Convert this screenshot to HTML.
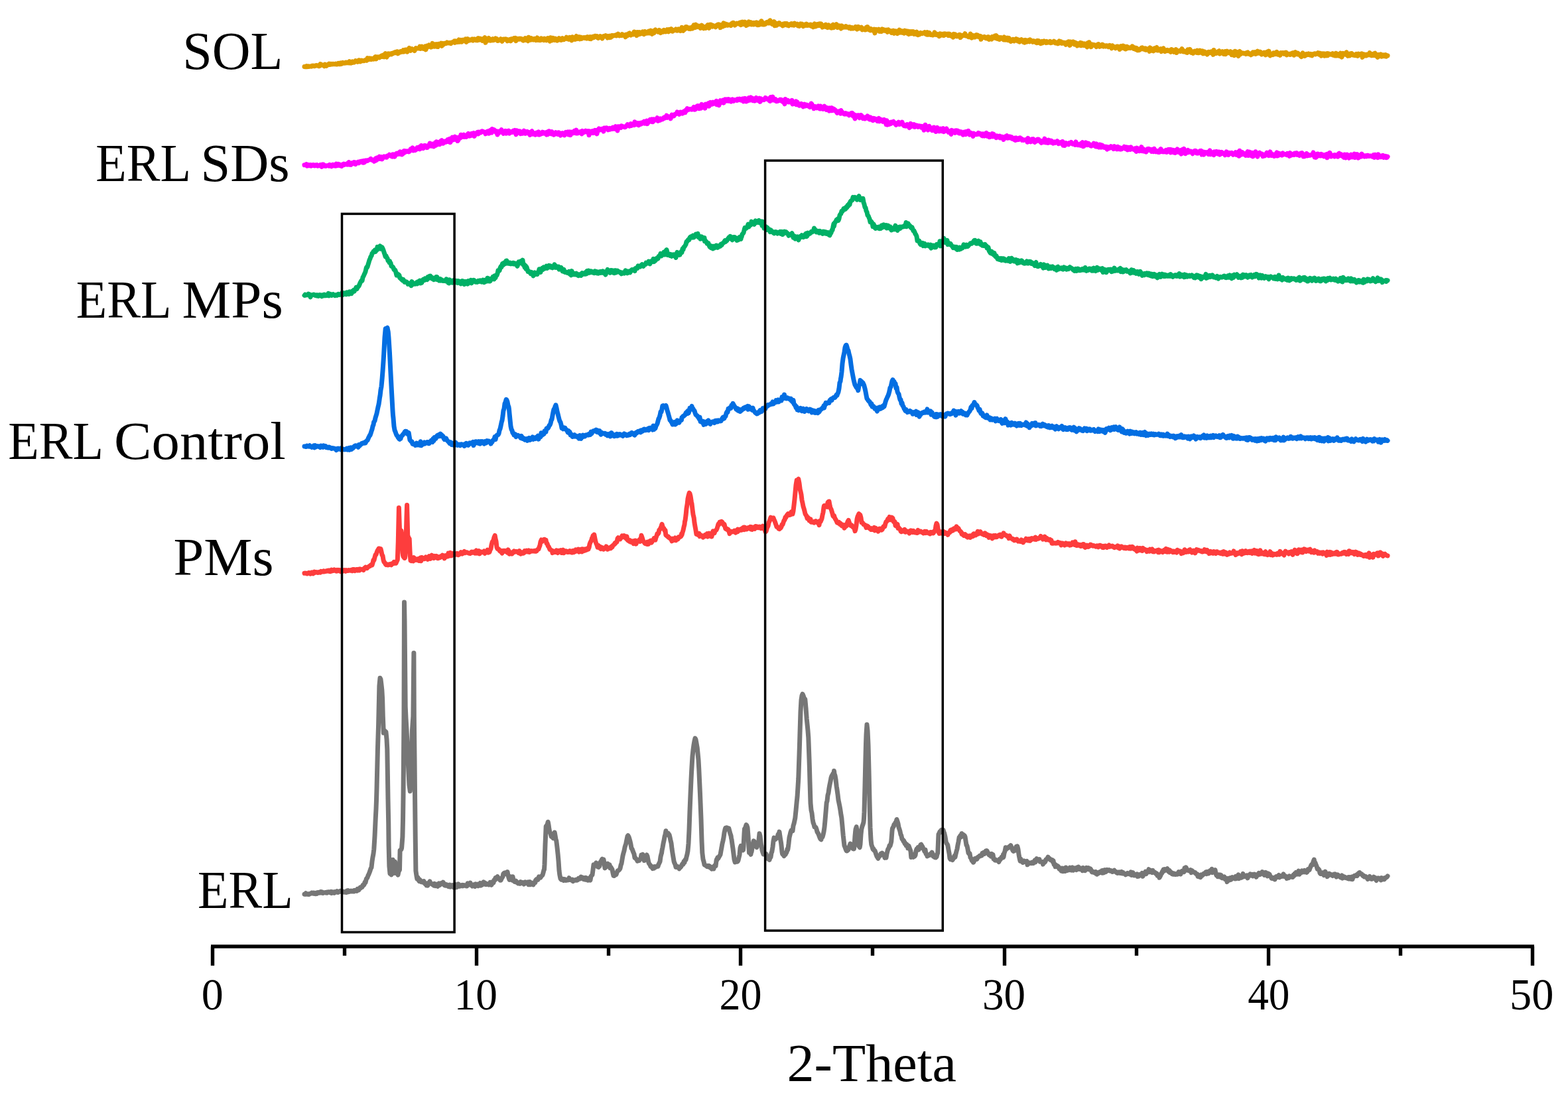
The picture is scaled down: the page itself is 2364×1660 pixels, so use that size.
<!DOCTYPE html>
<html lang="en"><head><meta charset="utf-8"><title>XRD patterns - 2-Theta</title>
<style>html,body{margin:0;padding:0;background:#fff}body{width:2364px;height:1660px;overflow:hidden}svg{display:block}text{font-family:"Liberation Serif","DejaVu Serif",serif;fill:#000}.c{fill:none;stroke-linejoin:round;stroke-linecap:round;stroke-width:7.0}</style>
</head><body>
<svg width="2364" height="1660" viewBox="0 0 2364 1660">
<rect width="2364" height="1660" fill="#fff"/>
<polyline class="c" stroke="#767676" points="459.0,1348.2 460.0,1348.4 461.0,1346.8 462.0,1347.6 463.0,1348.2 464.0,1348.4 465.0,1347.9 466.0,1348.5 467.0,1347.4 468.0,1347.5 469.0,1347.2 470.0,1346.1 471.0,1346.2 472.0,1347.1 473.0,1346.2 474.0,1347.6 475.0,1347.5 476.0,1347.8 477.0,1346.3 478.0,1347.3 479.0,1345.5 480.0,1345.5 481.0,1346.1 482.0,1346.2 483.0,1344.7 484.0,1344.5 485.0,1346.1 486.0,1345.1 487.0,1346.6 488.0,1345.9 489.0,1345.8 490.0,1345.7 491.0,1346.1 492.0,1345.3 493.0,1346.2 494.0,1344.9 495.0,1345.1 496.0,1344.7 497.0,1345.6 498.0,1345.2 499.0,1344.4 500.0,1346.6 501.0,1344.7 502.0,1344.9 503.0,1345.2 504.0,1346.3 505.0,1344.7 506.0,1345.4 507.0,1344.9 508.0,1343.6 509.0,1345.4 510.0,1345.5 511.0,1344.4 512.0,1344.6 513.0,1343.3 514.0,1343.3 515.0,1344.2 516.0,1345.0 517.0,1344.0 518.0,1344.7 519.0,1345.2 520.0,1344.5 521.0,1344.9 522.0,1345.6 523.0,1343.2 524.0,1344.9 525.0,1342.6 526.0,1344.6 527.0,1344.4 528.0,1343.7 529.0,1343.1 530.0,1344.0 531.0,1343.6 532.0,1344.0 533.0,1342.9 534.0,1344.0 535.0,1342.3 536.0,1342.6 537.0,1342.2 538.0,1343.3 539.0,1340.3 540.0,1340.9 541.0,1341.9 542.0,1339.5 543.0,1338.2 544.0,1338.8 545.0,1337.4 546.0,1337.5 547.0,1334.7 547.5,1335.2 548.0,1335.0 549.0,1333.9 550.0,1330.1 551.0,1330.6 552.0,1326.4 552.5,1324.8 553.0,1324.3 554.0,1323.0 555.0,1320.0 556.0,1318.1 557.0,1315.5 558.0,1312.7 559.0,1309.5 560.0,1307.9 561.0,1298.8 562.0,1292.3 563.0,1287.0 563.8,1280.3 565.0,1261.0 566.2,1234.6 567.0,1219.6 567.5,1206.9 568.0,1189.6 568.5,1168.0 569.4,1130.5 570.0,1111.1 570.6,1092.6 571.9,1034.4 573.0,1022.2 574.0,1024.3 575.0,1032.7 575.8,1039.8 576.6,1053.5 577.3,1080.4 578.3,1105.0 579.0,1102.1 580.0,1101.8 581.0,1104.5 581.9,1103.4 583.0,1114.3 583.8,1130.1 584.4,1167.6 585.0,1205.3 585.7,1240.1 586.1,1275.1 586.9,1305.8 588.0,1317.3 588.8,1317.6 590.0,1318.9 590.6,1317.8 592.2,1296.2 593.0,1305.7 593.8,1316.5 595.0,1304.1 595.6,1299.2 597.0,1313.5 597.5,1316.8 598.0,1316.8 599.0,1315.5 600.0,1319.2 601.0,1314.1 602.0,1312.1 602.5,1311.5 603.1,1282.1 604.0,1281.6 605.0,1280.7 605.6,1278.5 606.9,1261.8 607.5,1237.0 608.0,1200.0 608.5,1142.6 609.0,1079.8 609.5,908.0 610.0,935.6 611.2,1065.3 612.0,1083.1 613.0,1099.5 614.0,1122.4 615.4,1152.5 616.0,1164.3 617.0,1183.6 618.3,1192.9 619.0,1181.8 620.0,1150.4 621.0,1114.2 621.5,1100.5 622.0,1093.4 622.9,1080.0 623.9,984.4 624.3,1080.0 625.0,1142.2 625.6,1205.0 626.2,1260.4 626.9,1312.9 628.0,1320.5 628.8,1324.8 630.0,1322.9 631.0,1326.9 632.0,1328.6 632.5,1326.0 633.0,1326.6 634.0,1328.5 635.0,1329.6 636.0,1328.7 637.0,1328.9 637.5,1330.2 638.0,1329.6 639.0,1328.7 640.0,1331.2 641.0,1332.7 642.0,1331.7 643.0,1334.9 643.8,1333.5 645.0,1335.0 646.0,1331.0 647.0,1330.7 648.0,1328.9 649.4,1332.0 650.0,1332.0 651.0,1332.8 652.0,1333.7 653.0,1334.1 654.0,1335.1 655.0,1332.4 656.2,1335.6 657.0,1334.4 658.0,1334.6 659.0,1333.1 660.0,1336.3 661.0,1334.5 662.0,1331.9 663.0,1334.4 664.0,1333.3 665.0,1331.8 666.2,1332.7 667.0,1332.1 668.0,1330.2 669.0,1331.6 670.0,1334.8 671.0,1335.0 672.0,1335.3 673.0,1333.6 674.0,1334.7 675.0,1335.7 676.0,1336.6 677.0,1334.4 678.0,1334.1 679.0,1337.2 680.0,1335.7 681.0,1335.1 682.0,1334.6 683.0,1334.7 684.0,1337.8 685.0,1337.0 686.0,1335.0 687.0,1333.8 687.5,1337.9 688.0,1337.8 689.0,1337.3 690.0,1336.7 691.0,1332.9 692.0,1333.7 693.0,1336.3 694.0,1335.0 695.0,1335.7 696.0,1334.6 697.0,1334.3 698.0,1335.9 699.0,1334.5 700.0,1335.0 701.0,1335.2 702.0,1335.0 703.0,1335.9 704.0,1335.9 705.0,1331.8 706.0,1332.9 707.0,1332.1 708.0,1333.8 709.0,1331.1 710.0,1333.6 711.0,1334.5 712.0,1336.0 712.5,1334.3 713.0,1335.3 714.0,1334.0 715.0,1335.9 716.0,1336.5 717.0,1332.8 718.0,1333.5 719.0,1334.1 720.0,1333.3 721.0,1335.8 722.0,1333.3 723.0,1333.6 724.0,1331.5 725.0,1335.1 726.0,1333.2 727.0,1334.0 728.0,1333.0 729.0,1329.9 730.0,1330.6 731.0,1331.0 732.0,1333.4 733.0,1332.1 734.0,1333.4 735.0,1333.1 736.0,1333.1 737.0,1334.0 738.0,1332.9 739.0,1330.3 740.0,1331.6 741.0,1334.3 742.0,1329.7 743.0,1331.7 744.0,1330.8 745.0,1326.7 746.0,1327.0 747.0,1323.6 748.0,1325.5 749.0,1322.7 750.0,1321.7 751.0,1323.4 752.0,1324.3 753.0,1325.3 754.0,1327.3 755.0,1327.3 756.0,1325.0 757.0,1323.2 758.0,1321.7 758.8,1317.6 760.0,1316.3 761.0,1315.8 762.0,1317.9 763.0,1316.7 764.0,1317.0 765.0,1314.5 766.0,1319.6 767.0,1323.5 768.0,1326.5 769.0,1324.9 770.0,1321.8 771.0,1326.0 772.0,1327.0 772.5,1327.3 773.0,1321.8 774.0,1326.6 775.0,1328.6 776.0,1329.6 777.0,1329.6 778.0,1328.3 778.8,1330.4 780.0,1330.6 781.0,1331.9 782.0,1332.0 783.0,1330.8 784.0,1332.3 785.0,1329.7 786.0,1330.2 787.0,1331.1 788.0,1332.0 789.0,1330.8 790.0,1333.0 791.0,1331.9 792.0,1330.0 793.0,1331.6 794.0,1330.3 795.0,1330.3 796.0,1329.8 797.0,1333.8 798.0,1333.2 799.0,1329.7 800.0,1333.6 801.0,1333.2 802.0,1331.2 803.0,1332.0 804.0,1333.9 805.0,1330.7 806.0,1330.3 807.0,1330.6 807.5,1327.3 808.0,1326.7 809.0,1325.6 810.0,1326.3 811.0,1326.4 812.0,1323.1 812.5,1321.9 813.0,1323.6 814.0,1322.2 815.0,1323.0 816.0,1321.4 817.0,1320.4 817.5,1319.9 818.0,1319.4 819.0,1315.8 820.0,1311.7 820.5,1311.4 821.0,1303.4 822.0,1273.2 823.2,1246.0 824.0,1244.8 825.0,1243.9 826.2,1239.2 827.0,1243.3 828.0,1250.6 828.8,1254.0 830.0,1256.9 831.2,1261.4 832.0,1260.9 833.0,1262.3 834.0,1263.7 835.0,1258.1 836.2,1255.0 837.0,1259.6 838.0,1265.6 838.8,1267.8 840.0,1277.7 841.2,1288.9 842.0,1297.9 843.0,1312.5 843.8,1318.8 845.0,1324.8 846.2,1326.2 847.0,1325.4 848.0,1325.5 849.0,1325.3 850.0,1327.6 851.0,1325.5 852.0,1325.8 853.0,1327.4 854.0,1327.3 855.0,1326.4 856.0,1327.0 857.0,1326.4 858.0,1323.7 859.0,1326.4 860.0,1326.0 861.0,1326.2 862.0,1327.2 863.0,1326.1 864.0,1328.7 865.0,1326.8 866.0,1327.2 867.0,1327.3 868.0,1326.4 869.0,1327.3 870.0,1327.2 871.0,1326.7 872.0,1324.5 873.0,1324.0 874.0,1324.1 875.0,1324.8 876.0,1322.0 877.0,1323.3 877.5,1322.9 878.0,1323.5 879.0,1323.2 880.0,1325.7 881.0,1325.2 882.0,1326.0 883.0,1323.3 884.0,1323.7 885.0,1324.4 886.0,1327.2 887.0,1327.3 888.0,1324.1 888.8,1325.8 890.0,1327.0 891.0,1321.2 892.0,1320.0 893.0,1319.0 894.0,1311.6 895.0,1303.8 896.0,1305.9 897.0,1304.4 898.0,1303.6 898.8,1300.8 900.0,1303.2 901.0,1306.7 902.0,1306.7 902.5,1307.4 903.0,1305.5 904.0,1305.5 905.0,1300.1 906.0,1298.7 907.0,1296.7 908.0,1295.1 909.0,1298.8 910.0,1295.9 911.0,1301.4 912.0,1308.9 912.5,1308.1 913.0,1307.2 914.0,1307.2 915.0,1303.9 916.2,1302.1 917.0,1303.3 918.0,1306.3 919.0,1303.7 920.0,1308.8 921.2,1307.8 922.0,1309.4 923.0,1310.8 924.0,1316.2 925.0,1320.3 926.0,1320.5 927.0,1318.1 928.0,1318.9 929.0,1318.7 930.0,1315.7 931.2,1312.8 932.0,1312.7 933.0,1312.1 934.0,1310.9 935.0,1309.3 936.2,1303.8 937.0,1302.0 938.0,1296.0 939.0,1290.1 940.0,1286.2 941.0,1282.8 942.0,1277.6 943.0,1274.3 943.8,1271.7 945.0,1265.6 946.0,1260.9 946.8,1259.7 948.0,1261.7 949.0,1265.0 950.0,1268.6 951.0,1273.1 952.0,1279.1 953.0,1279.9 954.0,1282.9 955.0,1285.4 956.0,1287.7 957.0,1293.5 958.0,1293.6 959.0,1295.0 960.0,1295.8 961.0,1298.2 962.0,1297.0 963.0,1297.4 963.8,1297.5 965.0,1295.2 966.0,1294.2 967.0,1289.0 968.0,1293.1 969.0,1288.2 970.0,1293.3 971.2,1297.5 972.0,1297.1 973.0,1293.1 974.0,1290.6 975.0,1289.0 976.0,1291.0 977.0,1296.3 978.0,1300.7 978.8,1302.4 980.0,1303.9 981.0,1306.4 982.0,1305.9 983.0,1307.7 984.0,1309.5 985.0,1308.0 986.0,1309.1 987.0,1306.6 988.0,1307.3 989.0,1307.2 990.0,1306.2 991.0,1305.8 992.0,1306.2 993.0,1302.9 993.8,1301.6 995.0,1299.1 996.0,1291.8 997.0,1287.6 997.5,1286.3 998.0,1282.4 999.0,1277.6 1000.0,1271.8 1001.2,1266.3 1002.0,1261.5 1003.0,1257.8 1004.0,1252.8 1005.0,1256.8 1006.0,1258.5 1007.0,1257.3 1007.5,1256.4 1008.0,1258.9 1009.0,1258.5 1010.0,1262.3 1011.2,1268.2 1012.0,1271.2 1013.0,1279.6 1013.8,1284.9 1015.0,1292.4 1016.2,1299.3 1017.0,1301.4 1018.0,1303.3 1019.0,1307.4 1020.0,1307.4 1021.0,1307.5 1022.0,1306.7 1023.0,1308.1 1024.0,1309.9 1025.0,1307.1 1026.0,1307.7 1027.0,1306.4 1028.0,1304.0 1029.0,1302.3 1030.0,1303.1 1031.0,1298.9 1032.0,1300.3 1033.0,1296.2 1034.0,1296.4 1035.0,1292.0 1036.0,1288.2 1037.0,1282.8 1038.0,1271.7 1039.0,1250.8 1040.0,1222.3 1041.0,1198.2 1042.0,1175.3 1042.5,1165.2 1043.0,1156.2 1044.0,1140.0 1044.5,1135.5 1045.0,1130.4 1046.0,1123.0 1047.0,1117.4 1048.0,1113.1 1049.0,1115.1 1050.0,1120.7 1051.2,1127.4 1052.0,1135.3 1053.0,1145.9 1053.8,1160.1 1055.0,1186.5 1055.5,1197.5 1056.0,1209.9 1057.0,1235.0 1058.0,1267.3 1058.8,1285.6 1060.0,1295.6 1061.2,1299.7 1062.0,1303.9 1063.0,1304.3 1064.0,1304.9 1065.0,1305.6 1066.0,1306.4 1067.0,1305.4 1067.5,1306.9 1068.0,1306.9 1069.0,1305.4 1070.0,1307.3 1071.0,1308.4 1072.0,1307.3 1073.0,1310.1 1073.8,1308.3 1075.0,1309.6 1076.0,1310.0 1077.0,1305.4 1078.0,1304.6 1079.0,1305.7 1080.0,1297.6 1080.5,1295.6 1081.0,1296.5 1082.0,1292.7 1083.0,1294.0 1084.0,1292.0 1085.0,1290.4 1086.0,1288.6 1087.0,1283.0 1088.0,1277.7 1088.8,1272.8 1090.0,1267.7 1091.0,1262.8 1092.0,1255.6 1093.0,1250.9 1093.8,1248.3 1095.0,1250.2 1096.0,1247.9 1097.0,1250.1 1098.0,1250.1 1098.8,1248.9 1100.0,1253.3 1101.0,1257.3 1102.0,1260.0 1102.5,1263.5 1103.0,1265.6 1104.0,1272.8 1105.0,1279.5 1106.0,1287.5 1107.0,1295.8 1108.2,1300.0 1109.0,1298.2 1110.0,1299.2 1111.0,1299.2 1112.0,1299.0 1113.0,1297.3 1113.8,1293.8 1115.0,1288.7 1116.0,1278.4 1117.0,1275.4 1118.0,1276.2 1119.0,1281.2 1120.0,1281.9 1120.5,1281.6 1121.0,1276.2 1122.0,1256.9 1122.5,1249.8 1123.0,1248.9 1124.0,1247.1 1125.0,1243.7 1125.8,1244.5 1127.0,1248.0 1128.0,1260.5 1129.0,1278.3 1129.5,1285.5 1130.0,1285.4 1131.0,1285.7 1132.0,1288.3 1132.5,1281.7 1133.0,1284.7 1134.0,1278.4 1135.0,1272.9 1136.2,1267.9 1137.0,1268.4 1138.0,1270.1 1139.0,1272.9 1140.0,1276.4 1140.5,1274.2 1141.0,1277.6 1142.0,1274.1 1143.0,1273.1 1143.8,1268.8 1145.0,1256.8 1146.0,1260.4 1147.0,1269.8 1147.5,1273.8 1148.0,1275.0 1149.0,1281.7 1150.0,1285.3 1151.0,1287.9 1152.0,1284.8 1153.0,1287.8 1153.8,1287.5 1155.0,1287.4 1156.0,1290.1 1157.0,1291.3 1158.0,1295.0 1159.0,1293.4 1160.0,1296.4 1161.0,1293.4 1162.0,1292.2 1163.0,1285.9 1163.8,1284.2 1165.0,1277.0 1166.0,1268.0 1167.0,1263.1 1168.0,1264.7 1169.0,1265.5 1170.0,1264.3 1171.2,1263.5 1172.0,1262.9 1173.0,1258.2 1174.0,1256.8 1174.5,1256.6 1175.0,1254.1 1176.0,1261.4 1177.0,1267.5 1177.5,1270.3 1178.0,1274.5 1179.0,1284.1 1179.5,1287.3 1180.0,1288.3 1181.0,1287.8 1182.0,1290.7 1183.0,1286.2 1184.0,1288.6 1185.0,1286.7 1186.0,1285.0 1187.0,1280.2 1187.5,1281.8 1188.0,1279.6 1189.0,1272.0 1190.0,1262.8 1191.2,1258.0 1192.0,1254.6 1193.0,1251.9 1194.0,1251.4 1195.0,1252.9 1196.0,1245.0 1197.0,1241.9 1198.0,1237.2 1198.8,1233.5 1200.0,1221.9 1201.2,1209.1 1202.0,1201.7 1203.0,1186.4 1203.8,1173.3 1205.0,1137.6 1205.5,1122.4 1206.0,1105.2 1207.0,1072.6 1208.0,1055.2 1209.0,1048.9 1210.0,1046.4 1211.0,1048.6 1212.0,1051.7 1213.0,1053.4 1213.8,1054.2 1215.0,1067.2 1216.2,1083.6 1217.0,1091.4 1218.0,1101.7 1218.8,1111.7 1220.0,1144.0 1220.5,1159.5 1221.0,1177.8 1222.0,1210.8 1223.0,1221.5 1224.0,1225.7 1224.5,1230.1 1225.0,1234.5 1226.0,1240.4 1227.0,1242.8 1227.5,1244.8 1228.0,1246.8 1229.0,1246.7 1230.0,1247.5 1231.0,1250.2 1232.0,1254.2 1232.5,1255.1 1233.0,1255.7 1234.0,1257.5 1235.0,1260.3 1236.2,1263.6 1237.0,1264.9 1238.0,1265.7 1239.0,1262.2 1240.0,1262.2 1241.2,1257.8 1242.0,1254.1 1243.0,1247.3 1243.8,1238.8 1245.0,1224.8 1246.2,1210.2 1247.0,1207.8 1248.0,1198.9 1249.0,1195.5 1250.0,1188.3 1251.0,1182.9 1252.0,1178.3 1253.0,1172.6 1254.0,1169.8 1255.0,1168.4 1256.0,1166.2 1257.0,1166.4 1257.5,1162.3 1258.0,1166.7 1259.0,1169.4 1260.0,1175.0 1261.2,1185.5 1262.0,1190.6 1263.0,1197.7 1264.0,1206.3 1265.0,1211.0 1266.0,1215.9 1267.0,1221.7 1268.0,1228.7 1268.8,1232.9 1270.0,1245.8 1271.2,1259.3 1272.0,1266.3 1273.0,1275.1 1273.8,1276.8 1275.0,1280.1 1276.2,1283.0 1277.0,1283.0 1278.0,1281.2 1279.0,1281.2 1280.0,1277.8 1281.0,1274.7 1282.0,1272.1 1282.5,1276.6 1283.0,1274.8 1284.0,1276.2 1285.0,1277.4 1286.0,1279.7 1287.0,1280.0 1287.5,1279.9 1288.0,1276.0 1289.0,1260.5 1289.5,1255.3 1290.0,1250.6 1291.2,1246.7 1292.0,1252.3 1293.0,1266.0 1293.8,1272.7 1295.0,1275.8 1296.2,1277.7 1297.0,1272.9 1298.0,1258.1 1298.8,1250.5 1300.0,1245.6 1301.0,1243.1 1302.0,1239.5 1302.5,1234.2 1303.0,1224.2 1304.0,1185.2 1305.0,1141.1 1305.5,1122.1 1306.0,1107.8 1307.0,1092.6 1308.0,1101.6 1309.0,1122.8 1310.0,1162.0 1310.5,1184.6 1311.0,1208.1 1312.0,1247.7 1313.0,1266.0 1313.8,1273.4 1315.0,1276.8 1316.0,1280.3 1317.0,1279.9 1317.5,1281.7 1318.0,1282.4 1319.0,1282.5 1320.0,1285.4 1321.0,1288.6 1322.0,1291.3 1323.0,1292.7 1323.8,1294.3 1325.0,1292.0 1326.0,1290.6 1327.0,1290.3 1328.0,1287.1 1329.0,1287.6 1330.0,1286.1 1331.0,1288.0 1332.0,1287.9 1333.0,1289.4 1334.0,1293.4 1335.0,1292.7 1336.0,1293.1 1337.0,1287.2 1338.0,1283.2 1338.8,1280.3 1340.0,1278.7 1341.0,1274.9 1342.0,1275.4 1343.0,1272.0 1343.8,1268.6 1345.0,1252.7 1345.5,1249.0 1346.0,1248.0 1347.0,1246.5 1348.0,1243.0 1348.8,1243.7 1350.0,1240.1 1351.0,1239.2 1352.0,1235.5 1353.0,1238.5 1354.0,1241.8 1355.0,1247.5 1356.0,1250.3 1357.0,1253.6 1358.0,1258.4 1358.8,1259.7 1360.0,1265.1 1361.0,1265.7 1362.0,1268.4 1362.5,1267.2 1363.0,1268.2 1364.0,1271.8 1365.0,1271.2 1366.0,1274.9 1367.0,1273.1 1368.0,1274.2 1368.8,1278.8 1370.0,1275.3 1371.0,1277.9 1372.0,1280.8 1372.5,1281.9 1373.0,1283.5 1373.8,1292.4 1375.0,1290.0 1376.0,1288.3 1377.0,1292.4 1378.0,1290.6 1378.8,1291.3 1380.0,1289.4 1381.0,1283.2 1382.0,1279.9 1382.5,1279.9 1383.0,1280.9 1384.0,1277.6 1385.0,1281.2 1386.2,1279.2 1387.0,1275.8 1388.0,1273.8 1388.8,1273.3 1390.0,1275.3 1391.0,1277.0 1392.0,1279.9 1393.0,1280.9 1393.8,1283.4 1395.0,1281.1 1396.0,1287.4 1397.0,1287.6 1398.0,1291.0 1399.0,1288.9 1400.0,1289.3 1401.0,1289.5 1402.0,1289.3 1403.0,1287.2 1404.0,1286.9 1405.0,1285.1 1406.0,1287.2 1407.0,1291.2 1408.0,1291.4 1409.0,1292.5 1410.0,1290.5 1411.0,1292.9 1412.0,1291.9 1413.0,1287.6 1413.8,1286.0 1415.0,1258.0 1416.0,1256.2 1417.0,1253.8 1418.0,1254.3 1419.0,1251.7 1420.0,1251.2 1421.0,1254.7 1422.0,1251.3 1423.0,1254.8 1423.8,1256.4 1425.0,1261.7 1426.2,1269.0 1427.0,1271.5 1428.0,1272.6 1428.8,1274.1 1430.0,1281.2 1431.2,1287.5 1432.0,1294.2 1433.0,1295.6 1433.8,1295.3 1435.0,1295.6 1436.0,1296.6 1437.0,1295.1 1438.0,1292.6 1439.0,1290.3 1440.0,1292.3 1441.0,1287.5 1442.0,1283.7 1443.0,1280.1 1443.8,1275.2 1445.0,1269.4 1446.2,1262.2 1447.0,1261.6 1448.0,1259.7 1449.0,1262.0 1450.0,1256.8 1451.0,1258.7 1452.0,1258.2 1453.0,1259.2 1454.0,1259.5 1455.0,1261.5 1456.0,1267.8 1457.0,1274.1 1457.5,1274.3 1458.0,1275.6 1459.0,1280.1 1460.0,1286.0 1461.2,1287.4 1462.0,1286.7 1463.0,1292.9 1464.0,1294.0 1465.0,1297.0 1466.0,1298.3 1467.0,1296.8 1467.5,1300.2 1468.0,1299.6 1469.0,1297.3 1470.0,1294.5 1471.0,1295.0 1472.0,1294.0 1473.0,1295.3 1474.0,1292.6 1475.0,1291.9 1476.0,1291.7 1477.0,1290.4 1478.0,1290.7 1479.0,1289.9 1480.0,1290.0 1481.0,1286.2 1482.0,1287.3 1483.0,1285.4 1484.0,1287.6 1485.0,1286.1 1486.2,1283.2 1487.0,1285.3 1488.0,1282.7 1489.0,1284.9 1490.0,1287.3 1491.2,1289.1 1492.0,1287.5 1493.0,1289.2 1494.0,1291.1 1495.0,1287.3 1496.2,1288.2 1497.0,1288.5 1498.0,1295.0 1499.0,1294.9 1500.0,1296.9 1501.0,1296.2 1502.0,1297.3 1503.0,1297.0 1504.0,1297.7 1505.0,1297.7 1506.0,1299.5 1507.0,1295.4 1508.0,1296.1 1509.0,1294.7 1510.0,1292.3 1511.0,1293.2 1512.0,1293.1 1512.5,1288.5 1513.0,1292.1 1514.0,1286.3 1515.0,1283.6 1516.2,1277.8 1517.0,1280.5 1518.0,1279.2 1519.0,1278.1 1520.0,1278.5 1521.0,1276.8 1522.0,1277.0 1523.0,1275.3 1523.8,1274.6 1525.0,1277.5 1526.0,1280.1 1527.0,1282.5 1528.0,1283.4 1528.8,1282.6 1530.0,1282.6 1531.0,1280.2 1532.0,1276.7 1533.0,1277.1 1533.8,1275.9 1535.0,1280.6 1536.2,1289.6 1537.0,1293.6 1538.0,1298.1 1538.8,1295.0 1540.0,1297.6 1541.0,1299.3 1542.0,1300.4 1543.0,1299.6 1544.0,1297.9 1545.0,1298.8 1546.0,1299.6 1547.0,1298.7 1547.5,1298.5 1548.0,1298.3 1549.0,1303.8 1550.0,1300.5 1551.0,1300.4 1552.0,1301.9 1553.0,1301.1 1554.0,1300.9 1555.0,1301.5 1556.0,1300.0 1557.0,1300.1 1558.0,1301.4 1559.0,1300.3 1560.0,1297.2 1561.0,1300.0 1562.0,1296.8 1563.0,1294.6 1564.0,1297.3 1565.0,1297.1 1566.0,1296.9 1567.0,1295.6 1568.0,1299.2 1569.0,1299.0 1570.0,1299.5 1571.0,1299.9 1572.0,1300.5 1572.5,1303.1 1573.0,1299.3 1574.0,1299.9 1575.0,1300.3 1576.0,1298.9 1577.0,1295.7 1578.0,1295.6 1579.0,1294.3 1580.0,1292.2 1581.2,1293.5 1582.0,1295.2 1583.0,1294.9 1584.0,1296.8 1585.0,1296.9 1586.2,1296.6 1587.0,1299.1 1588.0,1297.6 1589.0,1303.1 1590.0,1302.6 1591.0,1306.8 1592.0,1304.0 1592.5,1305.0 1593.0,1306.1 1594.0,1307.0 1595.0,1306.0 1596.0,1307.1 1597.0,1310.1 1598.0,1308.9 1599.0,1311.6 1600.0,1313.1 1601.0,1309.0 1602.0,1310.7 1602.5,1313.7 1603.0,1312.8 1604.0,1309.3 1605.0,1311.7 1606.0,1313.4 1607.0,1308.0 1608.0,1311.5 1609.0,1312.4 1610.0,1310.1 1611.0,1309.8 1612.0,1311.6 1613.0,1308.2 1614.0,1311.1 1615.0,1312.0 1616.0,1310.3 1617.0,1307.9 1618.0,1312.3 1619.0,1310.0 1620.0,1310.8 1621.0,1308.8 1622.0,1309.9 1623.0,1311.6 1624.0,1307.9 1625.0,1308.1 1626.0,1307.1 1627.0,1310.6 1628.0,1310.6 1629.0,1308.8 1630.0,1310.5 1631.0,1310.0 1632.0,1312.7 1633.0,1308.3 1634.0,1310.3 1635.0,1309.4 1636.0,1312.6 1637.0,1310.6 1638.0,1308.3 1639.0,1310.6 1640.0,1309.8 1641.0,1308.8 1642.0,1311.0 1643.0,1311.1 1644.0,1309.9 1645.0,1311.5 1646.0,1314.5 1647.0,1315.0 1648.0,1314.2 1649.0,1314.5 1650.0,1315.9 1651.0,1315.8 1652.0,1314.5 1652.5,1317.1 1653.0,1315.1 1654.0,1318.2 1655.0,1316.8 1656.0,1316.8 1657.0,1315.2 1658.0,1315.6 1659.0,1314.2 1660.0,1314.2 1661.0,1313.0 1662.0,1316.1 1663.0,1312.2 1664.0,1315.8 1665.0,1314.3 1666.0,1311.7 1667.0,1314.6 1668.0,1313.2 1669.0,1311.4 1670.0,1312.8 1671.0,1312.1 1672.0,1311.5 1673.0,1312.6 1674.0,1313.2 1675.0,1312.5 1676.0,1313.1 1677.0,1314.4 1678.0,1313.4 1679.0,1313.3 1680.0,1312.3 1681.0,1314.2 1682.0,1313.9 1683.0,1314.5 1684.0,1316.2 1685.0,1316.5 1686.0,1315.6 1687.0,1314.9 1688.0,1316.1 1689.0,1316.6 1690.0,1316.6 1691.0,1314.4 1692.0,1317.0 1693.0,1315.3 1694.0,1317.2 1695.0,1317.5 1696.0,1317.3 1697.0,1318.9 1698.0,1317.4 1699.0,1317.9 1700.0,1316.4 1701.0,1317.6 1702.0,1317.5 1703.0,1318.1 1704.0,1317.8 1705.0,1314.9 1706.0,1319.4 1707.0,1319.3 1708.0,1315.6 1709.0,1318.9 1710.0,1320.0 1711.0,1319.7 1712.0,1319.7 1713.0,1318.5 1714.0,1318.0 1715.0,1321.4 1716.0,1319.3 1717.0,1321.0 1718.0,1318.5 1719.0,1319.8 1720.0,1319.6 1721.0,1319.4 1722.0,1316.4 1723.0,1321.2 1724.0,1318.2 1725.0,1317.1 1726.0,1317.6 1727.0,1314.1 1728.0,1317.6 1729.0,1314.4 1730.0,1314.5 1731.0,1313.7 1732.0,1310.7 1732.5,1312.6 1733.0,1314.8 1734.0,1312.0 1735.0,1313.5 1736.0,1314.7 1737.0,1315.6 1738.0,1312.4 1739.0,1315.1 1740.0,1314.8 1741.0,1315.1 1742.0,1316.6 1743.0,1317.7 1744.0,1316.9 1745.0,1320.1 1746.0,1319.8 1747.0,1321.7 1747.5,1320.8 1748.0,1323.3 1749.0,1321.6 1750.0,1319.5 1751.0,1316.4 1752.0,1316.3 1752.5,1313.7 1753.0,1313.4 1754.0,1311.2 1755.0,1313.4 1756.0,1310.5 1757.0,1311.5 1758.0,1311.3 1758.8,1311.0 1760.0,1309.7 1761.0,1313.2 1762.0,1314.2 1763.0,1312.4 1764.0,1315.6 1765.0,1314.5 1766.0,1315.6 1767.0,1317.5 1768.0,1316.4 1769.0,1318.2 1770.0,1317.0 1771.0,1317.2 1772.0,1318.5 1773.0,1318.0 1774.0,1317.4 1775.0,1318.2 1776.0,1318.1 1777.0,1314.5 1778.0,1315.0 1779.0,1316.5 1780.0,1317.9 1781.0,1315.2 1782.0,1313.3 1783.0,1314.6 1784.0,1312.9 1785.0,1314.7 1786.0,1308.7 1787.0,1312.6 1787.5,1312.3 1788.0,1307.7 1789.0,1310.0 1790.0,1311.2 1791.0,1312.3 1792.0,1312.0 1793.0,1313.1 1794.0,1312.9 1795.0,1311.8 1796.0,1315.6 1797.0,1314.1 1797.5,1312.7 1798.0,1314.7 1799.0,1314.5 1800.0,1315.0 1801.0,1315.7 1802.0,1315.6 1803.0,1317.4 1804.0,1317.8 1805.0,1317.7 1806.0,1321.6 1807.0,1321.7 1807.5,1321.0 1808.0,1319.8 1809.0,1320.0 1810.0,1322.7 1811.0,1318.8 1812.0,1320.5 1813.0,1319.2 1814.0,1318.8 1815.0,1317.0 1816.0,1316.9 1817.0,1316.6 1818.0,1314.8 1819.0,1317.7 1820.0,1314.3 1821.0,1315.2 1822.0,1316.9 1823.0,1316.2 1824.0,1312.9 1825.0,1314.1 1826.0,1314.6 1827.0,1310.2 1828.0,1315.6 1829.0,1313.4 1830.0,1312.2 1831.0,1313.0 1832.0,1311.6 1833.0,1317.1 1834.0,1319.9 1835.0,1318.6 1836.0,1321.7 1837.0,1321.0 1838.0,1318.9 1839.0,1322.0 1840.0,1319.0 1841.0,1319.7 1842.0,1323.6 1843.0,1323.9 1844.0,1323.4 1845.0,1323.7 1846.0,1322.0 1847.0,1325.7 1848.0,1324.4 1849.0,1324.3 1850.0,1329.6 1851.0,1325.0 1852.0,1324.5 1853.0,1327.3 1854.0,1324.8 1855.0,1323.6 1856.0,1326.3 1857.0,1323.8 1858.0,1322.7 1859.0,1323.2 1860.0,1323.5 1861.0,1324.6 1862.0,1324.9 1863.0,1321.3 1864.0,1324.6 1865.0,1321.8 1866.0,1321.9 1867.0,1318.8 1868.0,1324.6 1869.0,1323.0 1870.0,1321.7 1871.0,1321.7 1872.0,1323.2 1873.0,1321.7 1874.0,1317.4 1875.0,1321.8 1876.0,1321.3 1877.0,1321.3 1878.0,1321.1 1879.0,1322.1 1880.0,1319.8 1881.0,1323.9 1882.0,1320.7 1883.0,1319.4 1884.0,1320.4 1885.0,1317.8 1886.0,1319.8 1887.0,1318.9 1888.0,1318.4 1889.0,1320.9 1890.0,1320.0 1891.0,1318.1 1892.0,1318.5 1893.0,1319.7 1894.0,1322.3 1895.0,1318.7 1896.0,1318.5 1897.0,1319.1 1898.0,1316.3 1899.0,1317.5 1900.0,1318.3 1901.0,1317.4 1902.0,1317.0 1903.0,1314.5 1904.0,1316.0 1905.0,1317.8 1906.2,1319.4 1907.0,1317.1 1908.0,1315.3 1909.0,1315.9 1910.0,1316.9 1911.0,1320.9 1912.0,1317.0 1913.0,1319.4 1914.0,1318.3 1915.0,1320.9 1916.0,1321.8 1917.0,1324.2 1918.0,1324.6 1919.0,1324.1 1920.0,1323.5 1921.0,1323.3 1922.0,1326.0 1923.0,1323.2 1924.0,1321.5 1925.0,1321.6 1926.0,1322.3 1927.0,1320.9 1928.0,1319.5 1929.0,1322.8 1930.0,1320.4 1931.0,1321.2 1932.0,1321.5 1933.0,1321.0 1934.0,1321.2 1935.0,1317.8 1936.0,1321.4 1937.0,1321.1 1938.0,1320.8 1939.0,1321.3 1940.0,1324.5 1941.0,1323.7 1942.0,1322.4 1943.0,1323.6 1944.0,1320.8 1945.0,1321.3 1946.0,1321.9 1947.0,1322.2 1948.0,1321.6 1949.0,1322.4 1950.0,1319.0 1951.0,1320.4 1952.0,1317.0 1953.0,1318.0 1954.0,1315.4 1955.0,1318.1 1956.0,1315.4 1957.0,1317.8 1958.0,1313.1 1959.0,1318.2 1960.0,1315.5 1961.0,1316.0 1962.0,1315.7 1963.0,1312.9 1964.0,1314.3 1965.0,1314.1 1966.0,1314.7 1967.0,1312.4 1968.0,1313.5 1969.0,1314.3 1970.0,1315.4 1971.0,1314.3 1972.0,1310.7 1973.0,1312.2 1974.0,1311.7 1975.0,1309.1 1976.2,1305.9 1977.0,1304.1 1978.0,1303.0 1979.0,1303.9 1980.0,1299.0 1981.2,1296.1 1982.0,1301.2 1983.0,1300.8 1984.0,1303.8 1985.0,1305.9 1986.2,1310.3 1987.0,1309.5 1988.0,1310.5 1989.0,1311.9 1990.0,1316.6 1991.0,1317.4 1992.0,1315.6 1992.5,1315.7 1993.0,1316.4 1994.0,1317.7 1995.0,1316.0 1996.0,1319.6 1997.0,1318.0 1998.0,1314.1 1999.0,1316.5 2000.0,1317.7 2001.0,1321.6 2002.0,1320.7 2003.0,1318.9 2004.0,1317.1 2005.0,1318.8 2006.0,1319.1 2007.0,1318.6 2008.0,1319.6 2009.0,1320.5 2010.0,1319.0 2011.0,1318.2 2012.0,1320.2 2013.0,1318.0 2014.0,1319.6 2015.0,1322.1 2016.0,1320.8 2017.0,1319.0 2018.0,1320.8 2019.0,1320.6 2020.0,1321.3 2021.0,1322.8 2022.0,1320.8 2023.0,1320.0 2024.0,1324.1 2025.0,1321.0 2026.0,1323.2 2027.0,1323.2 2028.0,1322.4 2029.0,1323.8 2030.0,1323.7 2031.0,1323.6 2032.0,1324.6 2033.0,1322.6 2034.0,1325.0 2035.0,1322.5 2036.0,1325.0 2037.0,1325.3 2038.0,1322.1 2039.0,1325.6 2040.0,1321.5 2041.0,1321.9 2042.0,1320.3 2043.0,1320.5 2044.0,1320.5 2045.0,1319.1 2046.0,1320.6 2047.0,1317.5 2048.0,1318.2 2049.0,1315.7 2050.0,1315.6 2051.0,1317.2 2052.0,1318.0 2053.0,1317.8 2054.0,1319.6 2055.0,1320.7 2056.0,1320.1 2057.0,1322.0 2058.0,1321.6 2059.0,1321.5 2060.0,1322.8 2061.0,1323.5 2062.0,1325.6 2063.0,1324.8 2064.0,1324.4 2065.0,1321.3 2066.0,1323.2 2067.0,1325.2 2068.0,1325.5 2069.0,1324.7 2070.0,1323.1 2071.0,1322.1 2072.0,1322.6 2073.0,1325.2 2074.0,1325.5 2075.0,1327.5 2076.0,1324.0 2077.0,1325.4 2078.0,1323.9 2079.0,1324.7 2080.0,1325.1 2081.0,1324.3 2082.0,1327.0 2083.0,1323.5 2084.0,1326.1 2085.0,1324.7 2086.0,1324.2 2087.0,1325.8 2088.0,1323.5 2089.0,1323.7 2090.0,1322.8 2091.0,1322.4 2092.0,1320.9"/>
<polyline class="c" stroke="#fd3d3d" points="459.0,864.3 460.0,864.1 461.0,864.3 462.0,864.5 463.0,864.9 464.0,864.3 465.0,863.7 466.0,863.5 467.0,864.6 468.0,865.2 469.0,864.1 470.0,862.9 471.0,863.0 472.0,864.9 473.0,863.8 474.0,862.2 475.0,863.4 476.0,862.5 477.0,862.8 477.5,862.9 478.0,862.7 479.0,863.5 480.0,863.0 481.0,862.5 482.0,863.1 483.0,863.3 484.0,861.3 485.0,862.2 486.0,861.5 487.0,862.0 488.0,861.0 489.0,861.9 490.0,861.7 491.0,861.4 492.0,860.7 493.0,861.1 494.0,860.4 495.0,860.1 496.0,861.2 497.0,860.1 498.0,861.7 499.0,861.3 500.0,859.1 501.0,860.8 502.0,859.7 502.5,860.5 503.0,860.5 504.0,858.9 505.0,860.2 506.0,860.2 507.0,861.1 508.0,859.3 509.0,860.9 510.0,859.3 511.0,859.9 512.0,859.5 513.0,861.4 514.0,860.6 515.0,862.2 516.0,860.7 517.0,860.8 518.0,860.8 519.0,859.6 520.0,860.0 521.0,861.2 522.0,859.7 523.0,860.2 524.0,860.0 525.0,860.5 526.0,859.6 527.0,859.8 528.0,860.2 529.0,860.0 530.0,859.1 531.0,860.7 532.0,858.6 533.0,858.7 534.0,858.6 535.0,860.6 536.0,859.3 537.0,858.7 538.0,858.5 539.0,860.0 540.0,858.5 541.0,858.2 542.0,859.9 543.0,858.0 544.0,858.7 545.0,858.8 546.0,858.2 547.0,858.3 548.0,859.5 549.0,857.3 550.0,856.2 551.0,855.3 552.0,856.6 553.0,856.1 553.5,856.5 554.0,855.6 555.0,855.0 556.0,854.2 557.0,853.6 558.0,853.5 559.0,851.9 560.0,851.3 561.0,851.9 562.0,848.7 563.0,844.2 564.0,844.5 565.0,840.3 566.0,836.6 567.0,836.2 568.0,833.1 569.0,830.5 569.8,829.3 571.0,827.1 572.0,827.0 573.0,827.7 574.0,827.6 575.0,831.8 576.0,836.8 577.0,838.0 578.0,844.2 579.0,847.4 579.5,847.6 580.0,848.2 581.0,850.3 582.0,851.5 583.0,850.6 584.0,851.3 585.0,851.9 586.0,851.1 587.0,851.5 588.0,850.7 589.0,850.4 590.0,851.7 591.0,850.0 592.0,849.2 593.0,849.6 594.0,847.3 595.0,847.7 596.0,848.7 596.5,848.3 597.0,849.2 598.0,846.7 599.3,844.0 600.3,815.9 601.4,765.6 602.4,796.2 603.0,800.8 604.0,800.9 605.0,800.3 605.5,803.6 606.0,809.9 607.0,833.6 607.5,837.2 608.0,838.9 609.0,840.6 610.0,841.4 610.5,841.0 611.0,838.0 612.4,803.5 613.0,779.2 613.6,761.4 614.7,807.3 616.0,810.8 617.2,812.4 618.0,831.0 618.5,839.5 619.0,845.2 620.0,845.7 621.0,843.1 622.0,845.6 623.0,846.0 624.0,840.6 625.0,843.0 626.0,843.1 627.0,844.3 628.0,843.1 629.0,842.8 630.0,842.8 631.0,845.3 632.0,845.5 633.0,841.6 634.0,840.9 635.0,845.7 636.0,840.5 637.0,840.9 638.0,841.6 639.0,842.1 640.0,842.7 641.0,841.7 642.0,839.8 643.0,841.6 644.0,841.1 645.0,843.3 646.0,840.6 647.0,838.6 648.0,838.9 649.0,842.3 650.0,839.4 651.0,837.2 652.0,839.2 653.0,839.9 654.0,841.5 655.0,838.3 656.0,840.6 657.0,840.7 658.0,838.5 659.0,839.1 660.0,841.8 661.0,841.6 662.0,840.3 663.0,839.4 664.0,840.5 665.0,838.6 666.0,838.5 667.0,837.3 668.0,838.4 669.0,838.1 670.0,841.9 671.0,837.7 672.0,839.5 673.0,839.4 674.0,837.2 675.0,838.9 676.0,834.1 677.0,837.1 678.0,838.0 679.0,833.3 680.0,834.9 681.0,837.8 682.0,835.8 683.0,834.5 684.0,835.3 685.0,834.9 686.0,836.5 687.0,836.0 688.0,834.9 689.0,834.2 690.0,834.9 691.0,836.7 692.0,835.2 693.0,835.5 694.0,834.3 695.0,832.6 696.0,833.2 697.0,835.0 698.0,834.1 699.0,832.6 700.0,831.4 701.0,833.7 702.0,833.0 703.0,832.8 704.0,832.7 705.0,833.5 706.0,833.4 707.0,834.2 708.0,834.1 709.0,834.6 710.0,833.8 711.0,832.1 712.0,832.5 713.0,833.2 714.0,832.1 715.0,833.3 716.0,834.1 717.0,831.4 718.0,830.0 719.0,834.2 720.0,832.5 721.0,833.5 722.0,830.6 723.0,834.9 724.0,833.5 725.0,832.3 726.0,832.0 727.0,832.7 728.0,832.3 729.0,832.1 730.0,830.9 731.0,834.3 732.0,832.4 733.0,832.6 734.0,832.6 735.0,829.2 736.0,833.2 737.0,832.0 737.5,832.1 738.0,832.3 739.0,828.8 740.0,827.5 741.0,821.7 742.0,817.8 742.5,816.4 743.0,816.4 744.0,814.3 745.0,810.1 746.2,807.5 747.0,812.5 748.0,816.1 749.0,825.3 750.0,827.4 751.0,827.3 752.0,828.0 753.0,830.1 754.0,831.2 755.0,830.2 756.0,832.2 757.0,834.1 758.0,831.3 759.0,830.2 760.0,830.6 761.0,830.3 762.0,831.5 763.0,831.4 764.0,830.6 765.0,833.2 766.0,828.8 767.0,830.7 768.0,835.3 769.0,834.0 770.0,833.2 771.0,833.1 772.0,835.0 773.0,833.2 774.0,832.6 775.0,830.8 776.0,832.4 777.0,831.5 778.0,831.5 779.0,831.5 780.0,832.4 781.0,832.0 782.0,833.7 783.0,830.6 784.0,832.3 785.0,835.1 786.0,832.6 787.0,834.2 788.0,834.1 789.0,834.3 790.0,833.5 791.0,830.6 792.0,832.1 793.0,831.9 794.0,830.3 795.0,831.7 796.0,830.6 797.0,829.9 798.0,832.4 799.0,832.0 800.0,831.0 801.0,830.5 802.0,830.9 803.0,831.0 804.0,830.8 805.0,831.1 806.0,830.4 807.0,831.3 808.0,831.2 809.0,830.8 810.0,829.1 811.0,828.3 812.0,828.0 813.0,824.8 814.0,822.4 815.0,816.9 816.2,814.0 817.0,816.7 818.0,814.9 819.0,814.9 820.0,813.5 821.0,813.3 822.0,814.3 823.0,814.3 824.0,819.3 825.0,819.5 826.2,823.1 827.0,824.0 828.0,825.9 829.0,828.5 830.0,828.4 831.0,829.9 832.0,830.0 832.5,830.7 833.0,833.6 834.0,830.7 835.0,832.9 836.0,832.4 837.0,832.3 838.0,832.4 839.0,829.8 840.0,831.8 841.0,833.5 842.0,830.3 843.0,831.2 844.0,830.3 845.0,831.7 846.0,829.7 847.0,833.5 848.0,830.7 849.0,829.1 850.0,833.8 851.0,832.6 852.0,832.0 852.5,832.0 853.0,830.7 854.0,830.9 855.0,832.3 856.0,832.5 857.0,832.5 858.0,831.5 859.0,830.5 860.0,830.9 861.0,832.7 862.0,833.1 863.0,830.6 864.0,830.3 865.0,832.7 866.0,831.9 867.0,831.8 868.0,828.9 869.0,830.2 870.0,829.9 871.0,830.9 872.0,828.1 873.0,832.2 874.0,830.8 875.0,830.8 876.0,828.5 877.0,830.0 877.5,831.9 878.0,827.8 879.0,830.2 880.0,830.5 881.0,828.2 882.0,829.9 883.0,827.8 884.0,829.4 885.0,827.7 886.0,826.6 887.0,828.1 887.5,826.1 888.0,826.0 889.0,820.4 890.0,817.8 891.0,816.1 892.0,813.4 892.5,811.2 893.0,811.5 894.0,807.5 895.0,808.1 895.8,806.0 897.0,812.1 898.0,816.9 898.8,819.2 900.0,821.7 901.0,825.2 902.0,822.2 903.0,823.4 904.0,826.2 905.0,824.4 906.0,827.6 907.0,825.6 908.0,825.6 909.0,826.1 910.0,828.1 911.0,826.7 912.0,826.6 913.0,826.3 914.0,823.9 915.0,824.9 916.0,828.2 917.0,827.4 918.0,826.9 919.0,827.1 920.0,825.5 921.0,826.5 922.0,824.1 923.0,824.9 924.0,822.3 925.0,821.6 926.0,821.2 927.0,818.9 927.5,819.6 928.0,818.8 929.0,817.4 930.0,817.2 931.0,812.2 932.0,810.6 933.0,812.4 934.0,811.9 935.0,812.7 936.0,810.7 937.0,810.4 938.0,807.8 939.0,809.9 940.0,809.7 941.0,807.6 942.0,808.5 943.0,810.5 944.0,812.1 945.0,808.9 946.0,814.0 947.0,815.0 947.5,814.8 948.0,815.6 949.0,816.3 950.0,814.8 951.0,817.2 952.0,816.6 953.0,815.9 954.0,817.7 955.0,819.6 956.0,815.4 957.0,815.2 958.0,815.1 959.0,820.1 960.0,816.9 961.0,817.0 962.0,815.9 963.0,815.5 964.0,813.7 965.0,816.5 966.0,813.4 967.0,807.3 968.0,810.2 969.0,813.4 970.0,816.2 971.0,817.2 972.0,818.9 973.0,819.7 974.0,819.7 975.0,820.3 976.0,817.0 977.0,818.0 977.5,820.4 978.0,819.1 979.0,818.6 980.0,815.5 981.0,815.2 982.0,818.2 983.0,817.0 984.0,815.3 985.0,814.3 986.0,811.6 987.0,813.5 987.5,813.9 988.0,814.1 989.0,810.3 990.0,808.0 991.0,804.5 992.0,805.1 993.0,803.6 993.8,799.2 995.0,798.0 996.0,795.9 997.0,793.6 998.0,790.3 999.0,793.9 1000.0,796.9 1001.0,796.8 1002.0,800.1 1003.0,799.4 1003.8,806.7 1005.0,807.6 1006.0,808.4 1007.0,809.2 1007.5,809.1 1008.0,810.3 1009.0,810.7 1010.0,811.6 1011.0,812.5 1012.0,813.4 1013.0,815.8 1014.0,812.1 1015.0,814.7 1016.2,813.6 1017.0,812.9 1018.0,811.0 1019.0,814.8 1020.0,812.1 1021.0,811.9 1022.0,812.8 1023.0,809.9 1024.0,810.4 1025.0,809.2 1026.0,809.2 1027.0,808.2 1027.5,805.1 1028.0,806.6 1029.0,802.7 1030.0,799.4 1031.0,794.7 1032.0,790.9 1032.5,786.2 1033.0,784.7 1034.0,777.3 1035.0,766.8 1036.2,759.6 1037.0,752.1 1038.0,747.4 1039.2,743.1 1040.0,744.1 1041.0,747.9 1042.0,754.2 1042.5,757.4 1043.0,759.4 1044.0,767.9 1045.0,775.7 1046.2,780.9 1047.0,788.1 1048.0,793.9 1049.0,799.5 1050.0,805.6 1051.0,805.7 1052.0,805.9 1053.0,806.8 1054.0,804.3 1055.0,808.6 1056.0,806.4 1057.0,807.7 1058.0,807.6 1059.0,808.7 1060.0,810.1 1061.0,808.6 1062.0,808.9 1063.0,806.6 1064.0,807.5 1065.0,807.7 1066.0,804.5 1067.0,809.1 1068.0,805.1 1069.0,804.1 1070.0,807.9 1071.0,808.3 1072.0,804.2 1072.5,804.2 1073.0,809.1 1074.0,804.4 1075.0,800.8 1076.0,801.6 1077.0,803.9 1078.0,800.9 1079.0,799.7 1080.0,799.1 1081.0,796.9 1082.0,793.8 1083.0,790.2 1084.0,790.8 1085.0,787.1 1086.0,787.1 1087.0,788.8 1087.5,787.0 1088.0,786.4 1089.0,787.3 1090.0,789.5 1091.0,791.5 1092.0,790.5 1093.0,794.1 1093.8,797.2 1095.0,797.8 1096.0,797.4 1097.0,799.1 1098.0,798.5 1099.0,801.1 1100.0,804.7 1101.0,802.4 1102.0,801.2 1103.0,801.4 1104.0,801.9 1105.0,801.7 1106.0,801.1 1107.0,800.3 1108.0,802.0 1109.0,803.0 1110.0,799.8 1111.0,799.6 1112.0,801.8 1112.5,798.0 1113.0,799.1 1114.0,799.2 1115.0,799.7 1116.0,798.8 1117.0,797.7 1118.0,799.1 1119.0,796.8 1120.0,795.8 1121.0,795.1 1122.0,798.7 1123.0,795.1 1124.0,797.9 1125.0,798.0 1126.0,798.0 1127.0,796.4 1128.0,795.7 1129.0,796.5 1130.0,795.4 1131.0,794.4 1132.0,797.8 1133.0,794.7 1134.0,798.4 1135.0,796.5 1136.0,795.1 1137.0,796.2 1138.0,797.2 1139.0,793.5 1140.0,794.1 1141.0,793.8 1142.0,795.5 1143.0,795.8 1144.0,795.2 1145.0,794.1 1146.0,794.3 1147.0,796.7 1148.0,796.6 1149.0,795.2 1150.0,793.2 1151.0,796.4 1152.0,797.1 1153.0,798.6 1154.0,801.8 1155.0,801.1 1156.0,797.5 1157.0,794.4 1158.0,793.2 1159.0,788.0 1160.0,786.1 1161.0,783.0 1162.0,780.2 1163.0,780.7 1163.8,782.3 1165.0,781.3 1166.0,780.8 1167.0,783.7 1168.0,785.6 1169.0,788.5 1170.0,791.4 1171.0,794.4 1172.0,794.2 1173.0,795.2 1174.0,797.2 1175.0,797.7 1176.0,796.6 1177.0,796.1 1178.0,794.3 1179.0,790.8 1180.0,790.9 1181.2,787.2 1182.0,784.7 1183.0,783.9 1184.0,779.9 1185.0,780.3 1186.2,777.0 1187.0,776.1 1188.0,774.6 1189.0,774.9 1190.0,776.5 1191.0,774.2 1192.0,776.0 1193.0,771.9 1194.0,774.7 1195.0,774.9 1196.0,770.4 1197.0,761.8 1198.0,752.8 1198.8,744.3 1200.0,731.3 1201.2,724.0 1202.0,724.9 1203.0,723.3 1203.8,722.3 1205.0,728.5 1206.2,738.0 1207.0,741.0 1208.0,745.8 1209.0,753.9 1210.0,758.4 1211.0,763.6 1212.0,766.7 1213.0,770.5 1214.0,774.8 1215.0,776.5 1216.0,777.9 1217.0,781.6 1218.0,780.2 1219.0,781.5 1220.0,784.8 1221.0,782.6 1222.0,782.7 1223.0,787.3 1224.0,786.5 1225.0,787.2 1226.0,787.5 1227.0,788.1 1228.0,786.3 1229.0,787.0 1230.0,785.7 1231.0,787.6 1232.0,787.8 1233.0,787.0 1234.0,788.6 1235.0,791.7 1236.0,785.6 1237.0,786.7 1238.0,784.6 1239.0,782.0 1240.0,776.7 1241.0,772.5 1242.0,764.7 1242.5,762.5 1243.0,762.2 1244.0,763.0 1245.0,764.0 1246.2,763.9 1247.0,764.4 1248.0,757.6 1249.2,756.1 1250.0,756.0 1251.0,761.8 1252.0,766.0 1252.5,767.0 1253.0,767.5 1254.0,770.7 1255.0,774.3 1256.0,778.0 1257.0,779.0 1257.5,777.4 1258.0,779.2 1259.0,781.8 1260.0,783.4 1261.0,785.3 1262.0,787.8 1263.0,788.5 1264.0,788.4 1265.0,787.5 1266.0,790.2 1267.0,789.0 1268.0,791.6 1269.0,792.7 1270.0,790.9 1271.0,792.9 1272.0,792.9 1273.0,796.2 1274.0,794.3 1275.0,791.2 1276.0,793.1 1277.0,790.2 1278.0,786.5 1279.2,784.4 1280.0,786.6 1281.0,789.4 1282.0,792.1 1282.5,791.1 1283.0,792.6 1284.0,791.9 1285.0,792.9 1286.0,795.0 1287.0,795.0 1288.0,796.4 1289.0,800.7 1290.0,798.0 1291.0,792.2 1292.0,782.8 1293.0,778.9 1294.0,776.7 1295.0,774.6 1296.0,778.0 1296.8,776.2 1298.0,780.4 1299.0,787.8 1300.0,787.7 1301.0,789.0 1302.0,790.7 1303.0,791.1 1304.0,791.4 1305.0,793.1 1306.0,795.6 1307.0,794.2 1307.5,793.0 1308.0,793.3 1309.0,794.0 1310.0,795.8 1311.0,796.8 1312.0,797.1 1313.0,798.4 1314.0,796.7 1315.0,798.4 1316.0,798.0 1317.0,798.7 1318.0,795.4 1319.0,799.9 1320.0,796.2 1321.0,796.9 1322.0,799.6 1323.0,798.1 1324.0,801.2 1325.0,798.9 1326.0,797.2 1327.0,798.5 1328.0,797.2 1329.0,799.2 1330.0,798.5 1331.0,796.3 1332.0,793.8 1333.0,793.4 1333.8,793.9 1335.0,789.2 1336.0,786.6 1337.0,786.1 1338.0,784.0 1338.8,782.2 1340.0,781.9 1341.0,779.5 1342.0,783.8 1343.0,781.9 1344.0,780.0 1345.0,780.4 1346.0,781.4 1347.0,786.4 1348.0,787.1 1349.0,786.6 1350.0,792.4 1351.0,793.0 1352.0,791.2 1353.0,790.4 1354.0,796.5 1355.0,795.6 1356.0,797.3 1357.0,797.7 1358.0,800.9 1359.0,801.7 1360.0,801.1 1361.0,799.9 1362.0,800.7 1363.0,801.3 1364.0,798.3 1365.0,802.3 1366.0,800.3 1367.0,801.1 1368.0,801.0 1369.0,802.2 1370.0,802.5 1371.0,804.1 1372.0,800.6 1373.0,799.9 1374.0,801.4 1375.0,800.4 1376.0,802.5 1377.0,800.3 1378.0,801.6 1379.0,802.8 1380.0,803.0 1381.0,801.9 1382.0,803.6 1383.0,803.5 1384.0,799.3 1385.0,802.3 1386.0,802.1 1387.0,801.4 1388.0,801.0 1389.0,802.0 1390.0,802.5 1391.0,802.4 1392.0,804.0 1393.0,803.5 1394.0,801.3 1395.0,801.2 1396.0,803.5 1397.0,801.4 1398.0,802.6 1399.0,803.1 1400.0,804.0 1401.0,803.4 1402.0,804.8 1403.0,802.4 1404.0,804.1 1405.0,802.5 1406.0,803.8 1407.0,803.9 1408.0,802.5 1408.8,800.4 1410.0,799.9 1411.0,792.6 1412.0,789.0 1413.0,790.7 1414.0,796.7 1415.0,802.3 1415.5,802.6 1416.0,804.3 1417.0,803.0 1418.0,801.9 1419.0,804.0 1420.0,802.4 1421.0,803.7 1422.0,801.0 1423.0,803.1 1424.0,804.4 1425.0,802.8 1426.0,803.7 1427.0,804.6 1428.0,803.9 1429.0,806.3 1430.0,803.4 1431.0,803.3 1432.0,802.7 1433.0,799.3 1434.0,798.8 1435.0,800.5 1436.0,798.3 1437.0,799.7 1437.5,797.4 1438.0,797.0 1439.0,798.1 1440.0,796.6 1441.0,797.9 1442.0,793.9 1443.0,795.7 1443.8,796.0 1445.0,796.6 1446.0,798.8 1447.0,800.5 1448.0,801.1 1449.0,802.0 1450.0,805.1 1451.0,804.5 1452.0,806.4 1453.0,807.5 1454.0,806.5 1455.0,805.6 1456.0,806.9 1457.0,808.8 1458.0,807.7 1459.0,810.0 1460.0,808.7 1461.0,809.0 1462.0,808.0 1462.5,808.7 1463.0,810.4 1464.0,808.2 1465.0,807.9 1466.0,806.8 1467.0,808.5 1468.0,804.7 1469.0,805.3 1470.0,806.9 1471.0,807.0 1472.0,804.3 1473.0,805.5 1474.0,801.2 1475.0,804.9 1476.0,804.3 1477.0,802.3 1478.0,801.6 1479.0,803.6 1480.0,804.8 1481.0,805.2 1482.0,805.1 1483.0,806.3 1484.0,806.5 1485.0,803.8 1486.0,805.5 1487.0,805.5 1487.5,807.8 1488.0,805.7 1489.0,808.0 1490.0,807.0 1491.0,810.4 1492.0,807.4 1493.0,807.7 1494.0,807.8 1495.0,808.4 1496.0,811.8 1497.0,807.9 1498.0,807.5 1499.0,808.5 1500.0,809.8 1501.0,807.4 1502.0,809.8 1503.0,809.6 1504.0,808.1 1505.0,807.8 1506.0,806.8 1507.0,807.3 1508.0,806.3 1509.0,808.9 1510.0,809.2 1511.0,806.4 1512.0,806.5 1513.0,803.8 1514.0,805.6 1515.0,806.8 1516.0,806.8 1517.0,806.9 1518.0,808.5 1519.0,808.1 1520.0,808.2 1521.0,811.7 1522.0,807.9 1523.0,809.7 1524.0,811.1 1525.0,811.8 1526.0,812.3 1527.0,813.4 1527.5,812.8 1528.0,813.8 1529.0,814.8 1530.0,814.2 1531.0,814.4 1532.0,813.1 1533.0,812.9 1534.0,814.2 1535.0,816.0 1536.0,815.3 1537.0,816.3 1538.0,816.3 1539.0,816.5 1540.0,813.9 1541.0,816.7 1542.0,816.1 1542.5,817.9 1543.0,815.8 1544.0,815.4 1545.0,814.6 1546.0,814.9 1547.0,812.2 1548.0,813.8 1549.0,813.9 1550.0,815.0 1551.0,812.5 1552.0,813.3 1553.0,815.4 1554.0,812.0 1555.0,813.7 1556.0,811.6 1557.0,812.1 1558.0,812.7 1559.0,813.1 1560.0,811.1 1561.0,810.2 1562.0,813.5 1563.0,811.6 1564.0,812.3 1565.0,812.3 1566.0,812.0 1567.0,810.5 1568.0,810.5 1569.0,808.5 1570.0,810.8 1571.0,809.9 1572.0,810.5 1572.5,813.1 1573.0,811.5 1574.0,810.8 1575.0,809.1 1576.0,812.3 1577.0,813.8 1578.0,811.2 1579.0,813.5 1580.0,812.9 1581.0,814.1 1582.0,814.5 1583.0,813.5 1584.0,815.6 1585.0,814.7 1586.0,819.3 1587.0,819.3 1588.0,818.4 1589.0,819.0 1590.0,818.8 1591.0,819.1 1592.0,819.2 1593.0,818.7 1594.0,818.9 1595.0,817.3 1596.0,817.8 1597.0,818.4 1598.0,819.6 1599.0,818.8 1600.0,822.0 1601.0,819.2 1602.0,819.0 1603.0,820.1 1604.0,820.9 1605.0,822.1 1606.0,820.9 1607.0,818.8 1608.0,819.4 1609.0,821.1 1610.0,820.1 1611.0,820.9 1612.0,819.7 1613.0,822.1 1614.0,821.9 1615.0,821.6 1616.0,820.3 1617.0,818.0 1618.0,818.5 1619.0,820.9 1620.0,821.4 1621.0,816.7 1622.0,820.2 1623.0,822.5 1624.0,822.4 1625.0,820.6 1626.0,822.2 1627.0,821.6 1628.0,821.4 1629.0,823.4 1630.0,823.5 1631.0,821.4 1632.0,821.0 1633.0,820.6 1634.0,820.6 1635.0,824.4 1636.0,825.3 1637.0,823.1 1638.0,824.4 1639.0,822.1 1640.0,823.0 1641.0,824.3 1642.0,823.6 1643.0,823.1 1644.0,821.0 1645.0,821.3 1646.0,822.7 1647.0,822.6 1648.0,823.2 1649.0,822.5 1650.0,823.1 1651.0,823.5 1652.0,824.2 1653.0,823.6 1654.0,822.7 1655.0,823.1 1656.0,824.8 1657.0,823.3 1658.0,822.3 1659.0,822.2 1660.0,824.0 1661.0,824.4 1662.0,825.4 1663.0,823.3 1664.0,825.6 1665.0,823.3 1666.0,823.5 1667.0,823.1 1668.0,824.6 1669.0,825.4 1670.0,824.0 1671.0,823.3 1672.0,822.0 1673.0,824.3 1674.0,823.7 1675.0,823.9 1676.0,823.4 1677.0,823.1 1678.0,823.7 1679.0,825.0 1680.0,825.7 1681.0,824.5 1682.0,825.0 1683.0,824.3 1684.0,824.5 1685.0,822.8 1686.0,826.0 1687.0,825.6 1688.0,826.9 1689.0,824.1 1690.0,825.2 1691.0,823.9 1692.0,825.5 1693.0,825.1 1694.0,826.3 1695.0,825.3 1696.0,826.5 1697.0,825.1 1698.0,826.7 1699.0,825.6 1700.0,825.5 1701.0,826.4 1702.0,826.9 1703.0,824.6 1704.0,824.6 1705.0,827.1 1706.0,826.9 1707.0,824.3 1708.0,824.9 1709.0,826.3 1710.0,827.9 1711.0,827.9 1712.0,829.1 1713.0,829.4 1714.0,831.1 1715.0,826.1 1716.0,828.1 1717.0,829.7 1718.0,826.6 1719.0,826.5 1720.0,828.8 1721.0,830.1 1722.0,830.4 1723.0,826.4 1724.0,827.3 1725.0,828.9 1726.0,828.4 1727.0,829.6 1728.0,829.4 1729.0,831.7 1730.0,829.3 1731.0,829.7 1732.0,829.7 1733.0,831.1 1734.0,828.2 1735.0,830.3 1736.0,828.8 1737.0,828.0 1738.0,831.6 1739.0,830.7 1740.0,831.9 1741.0,830.4 1742.0,831.0 1743.0,830.4 1744.0,831.0 1745.0,829.7 1746.0,832.6 1747.0,829.1 1748.0,832.7 1749.0,830.1 1750.0,831.6 1751.0,830.7 1752.0,831.1 1753.0,832.6 1754.0,830.8 1755.0,829.4 1756.0,831.0 1757.0,831.6 1758.0,827.4 1759.0,832.1 1760.0,832.3 1761.0,828.4 1762.0,830.7 1763.0,832.0 1764.0,829.3 1765.0,830.4 1766.0,830.5 1767.0,831.8 1768.0,832.6 1769.0,831.0 1770.0,831.2 1771.0,832.4 1772.0,831.9 1773.0,831.0 1774.0,833.0 1775.0,829.2 1776.0,831.4 1777.0,830.6 1778.0,830.5 1779.0,831.5 1780.0,831.3 1781.0,834.6 1782.0,832.2 1783.0,831.8 1784.0,833.6 1785.0,832.7 1786.0,828.7 1787.0,831.5 1788.0,832.3 1789.0,830.5 1790.0,831.7 1791.0,830.7 1792.0,831.8 1793.0,829.1 1794.0,828.6 1795.0,830.6 1796.0,831.6 1797.0,833.1 1798.0,830.9 1799.0,830.3 1800.0,832.6 1801.0,831.4 1802.0,833.8 1803.0,831.2 1804.0,828.6 1805.0,830.2 1806.0,830.0 1807.0,829.4 1808.0,830.2 1809.0,830.3 1810.0,830.9 1811.0,830.5 1812.0,831.9 1813.0,831.9 1814.0,831.5 1815.0,831.6 1816.0,828.7 1817.0,829.0 1818.0,830.2 1819.0,831.8 1820.0,829.5 1821.0,831.1 1822.0,832.1 1823.0,834.6 1824.0,832.4 1825.0,831.4 1826.0,833.8 1827.0,832.7 1828.0,832.2 1829.0,834.3 1830.0,831.6 1831.0,833.3 1832.0,833.3 1833.0,834.5 1834.0,831.8 1835.0,831.7 1836.0,833.1 1837.0,833.3 1838.0,833.8 1839.0,833.2 1840.0,834.4 1841.0,834.7 1842.0,834.1 1843.0,832.3 1844.0,835.3 1845.0,831.6 1846.0,833.5 1847.0,835.0 1848.0,832.9 1849.0,835.5 1850.0,836.4 1851.0,835.9 1852.0,834.3 1853.0,835.1 1854.0,833.0 1855.0,834.3 1856.0,834.4 1857.0,833.9 1858.0,834.0 1859.0,833.4 1860.0,831.0 1861.0,834.3 1862.0,834.2 1863.0,836.6 1864.0,834.7 1865.0,833.8 1866.0,834.9 1867.0,834.6 1868.0,833.7 1869.0,833.1 1870.0,831.6 1871.0,833.7 1872.0,835.8 1873.0,830.8 1874.0,832.1 1875.0,834.3 1876.0,833.5 1877.0,833.7 1878.0,830.5 1879.0,832.2 1880.0,833.6 1881.0,833.7 1882.0,833.2 1883.0,831.5 1884.0,833.4 1885.0,831.0 1886.0,831.3 1887.0,830.9 1888.0,834.5 1889.0,831.9 1890.0,832.6 1891.0,829.4 1892.0,834.1 1893.0,833.2 1894.0,830.4 1895.0,830.5 1896.0,835.2 1897.0,831.7 1898.0,835.6 1899.0,832.6 1900.0,829.9 1901.0,835.0 1902.0,834.4 1903.0,834.8 1904.0,833.3 1905.0,833.8 1906.0,835.6 1907.0,833.2 1908.0,831.8 1909.0,835.9 1910.0,833.9 1911.0,836.6 1912.0,834.2 1913.0,834.3 1914.0,834.6 1915.0,831.7 1916.0,836.6 1917.0,834.1 1918.0,834.7 1919.0,837.0 1920.0,835.1 1921.0,836.1 1922.0,835.3 1923.0,835.9 1924.0,835.1 1925.0,836.3 1926.0,834.4 1927.0,835.2 1928.0,833.6 1929.0,836.1 1930.0,831.4 1931.0,834.6 1932.0,834.8 1933.0,834.7 1934.0,834.1 1935.0,836.0 1936.0,837.0 1937.0,833.1 1938.0,831.2 1939.0,832.3 1940.0,832.6 1941.0,833.5 1942.0,833.5 1943.0,835.0 1944.0,832.7 1945.0,833.2 1946.0,833.2 1947.0,831.7 1948.0,832.3 1949.0,836.4 1950.0,832.3 1951.0,830.9 1952.0,829.1 1953.0,833.4 1954.0,831.3 1955.0,830.7 1956.0,834.8 1957.0,833.2 1958.0,828.7 1959.0,830.5 1960.0,832.2 1961.0,831.8 1962.0,829.0 1963.0,832.9 1964.0,832.9 1965.0,828.7 1966.0,827.7 1967.0,828.1 1968.0,830.9 1969.0,831.5 1970.0,830.2 1971.0,829.2 1972.0,829.9 1973.0,831.0 1974.0,828.6 1975.0,828.1 1976.0,830.6 1977.0,832.6 1978.0,831.4 1979.0,831.7 1980.0,830.7 1981.0,833.2 1982.0,829.8 1983.0,832.3 1984.0,831.8 1985.0,832.7 1986.0,831.8 1987.0,834.3 1988.0,833.4 1989.0,832.8 1990.0,834.4 1991.0,833.7 1992.0,833.1 1993.0,833.1 1994.0,835.1 1995.0,832.8 1996.0,833.9 1997.0,833.9 1998.0,834.7 1999.0,834.1 2000.0,837.4 2001.0,832.1 2002.0,835.4 2003.0,834.6 2004.0,836.2 2005.0,832.4 2006.0,836.4 2007.0,832.9 2008.0,835.8 2009.0,835.6 2010.0,834.9 2011.0,833.9 2012.0,833.8 2013.0,835.1 2014.0,833.9 2015.0,832.2 2016.0,832.4 2017.0,836.0 2018.0,836.0 2019.0,835.5 2020.0,834.8 2021.0,835.2 2022.0,835.3 2023.0,834.8 2024.0,833.3 2025.0,833.2 2026.0,832.5 2027.0,834.2 2028.0,832.5 2029.0,833.6 2030.0,835.5 2031.0,833.0 2032.0,834.8 2033.0,835.5 2034.0,830.7 2035.0,831.2 2036.0,833.8 2037.0,832.1 2038.0,833.8 2039.0,834.0 2040.0,832.3 2041.0,834.2 2042.0,835.5 2043.0,834.6 2044.0,832.2 2045.0,833.5 2046.0,833.2 2047.0,836.4 2048.0,834.3 2049.0,834.0 2050.0,835.3 2051.0,836.3 2052.0,835.4 2053.0,836.4 2054.0,836.5 2055.0,837.8 2056.0,838.4 2057.0,837.6 2058.0,836.7 2059.0,838.0 2060.0,836.3 2061.0,839.0 2062.0,837.9 2063.0,837.7 2064.0,833.9 2065.0,840.4 2066.0,839.0 2067.0,838.6 2068.0,836.8 2069.0,837.4 2070.0,840.3 2071.0,835.2 2072.0,837.0 2073.0,836.7 2074.0,836.0 2075.0,836.2 2076.0,834.2 2077.0,836.5 2077.5,833.7 2078.0,838.1 2079.0,836.7 2080.0,834.5 2081.0,832.8 2082.0,835.9 2083.0,836.6 2084.0,834.6 2085.0,838.5 2086.0,836.7 2087.0,835.9 2088.0,835.2 2089.0,836.8 2090.0,836.9 2091.0,837.6 2092.0,837.9"/>
<polyline class="c" stroke="#036ee2" points="459.0,672.9 460.0,673.0 461.0,673.6 462.0,673.3 463.0,672.1 464.0,673.0 465.0,672.6 466.0,673.2 467.0,671.8 468.0,673.3 469.0,673.3 470.0,674.3 471.0,673.4 472.0,673.5 473.0,672.0 474.0,674.9 475.0,671.7 476.0,674.1 477.0,673.0 478.0,672.6 479.0,672.8 480.0,672.8 481.0,673.7 482.0,673.3 483.0,674.6 484.0,672.1 485.0,673.5 486.0,672.9 487.0,674.2 488.0,672.0 489.0,673.4 490.0,673.9 491.0,672.7 492.0,674.7 493.0,674.2 494.0,675.1 495.0,675.2 496.0,674.0 497.0,674.4 498.0,675.1 499.0,676.1 500.0,676.5 501.0,675.5 502.0,675.8 503.0,675.9 504.0,676.2 505.0,676.6 506.0,676.8 507.0,678.7 507.5,676.6 508.0,676.8 509.0,677.4 510.0,676.2 511.0,676.7 512.0,677.0 513.0,677.6 514.0,675.9 515.0,678.2 516.0,676.7 517.0,677.1 518.0,677.7 519.0,677.6 520.0,677.9 521.0,677.2 522.0,677.0 522.5,677.3 523.0,676.1 524.0,678.0 525.0,676.1 526.0,675.5 527.0,678.3 528.0,676.1 529.0,674.9 530.0,677.4 531.0,675.1 532.0,676.0 533.0,673.9 534.0,674.1 535.0,672.3 536.0,671.7 537.0,672.2 538.0,672.7 539.0,673.1 540.0,674.3 541.0,670.6 542.0,672.3 543.0,670.4 544.0,670.4 545.0,668.7 546.0,668.3 547.0,668.5 548.0,667.6 549.0,668.2 550.0,666.8 551.0,667.9 552.0,665.7 553.0,664.4 554.0,663.8 555.0,661.5 556.0,659.2 557.0,657.2 557.5,656.1 558.0,656.2 559.0,653.4 560.0,650.1 561.0,647.3 562.0,642.7 563.0,640.3 563.7,636.2 565.0,634.6 566.0,630.1 567.0,626.8 568.0,623.4 568.7,620.0 570.0,613.7 571.0,609.7 572.0,602.9 572.5,599.2 573.0,596.8 574.0,588.0 575.0,582.8 576.2,569.9 577.0,559.6 578.0,545.1 578.7,533.9 580.0,508.8 581.2,495.6 582.0,495.0 583.2,495.0 584.0,494.3 585.2,500.1 586.0,509.1 587.0,524.9 587.5,533.0 588.0,542.9 589.0,562.7 590.0,582.0 591.0,600.4 592.0,618.8 592.5,626.0 593.0,630.5 594.0,642.7 595.0,648.5 596.0,650.8 597.0,653.7 598.0,656.2 599.0,657.1 600.0,659.3 601.0,660.6 602.0,662.0 602.5,662.3 603.0,660.2 604.0,661.3 605.0,657.8 606.0,656.9 607.0,656.1 607.5,655.0 608.0,654.3 609.0,653.6 610.0,651.4 611.0,650.3 612.0,650.3 612.5,651.8 613.0,650.5 614.0,654.2 615.0,653.9 616.2,652.6 617.0,657.6 618.0,663.4 619.0,664.5 620.0,665.7 621.0,665.8 622.0,669.4 623.0,669.5 624.0,669.6 625.0,669.6 626.0,671.4 627.0,670.8 628.0,668.1 629.0,671.0 630.0,670.2 631.0,669.8 632.0,671.0 633.0,669.9 634.0,665.7 635.0,671.8 636.0,670.9 637.0,669.2 638.0,668.6 639.0,669.3 640.0,666.9 641.0,668.9 642.0,667.9 643.0,667.5 644.0,666.5 645.0,666.6 646.0,668.7 647.0,668.7 648.0,667.1 649.0,665.9 650.0,664.2 651.0,665.9 652.0,666.5 653.0,661.5 654.0,664.7 655.0,659.6 656.0,661.3 657.0,661.4 658.0,658.1 659.0,656.8 660.0,658.0 661.0,658.0 662.0,655.3 663.0,657.2 664.0,654.0 664.5,657.5 665.0,655.2 666.0,655.8 667.0,657.1 668.0,657.7 669.0,660.9 670.0,662.6 671.0,661.7 672.0,661.8 672.5,660.9 673.0,661.9 674.0,664.0 675.0,664.9 676.0,666.0 677.0,667.0 678.0,668.5 679.0,666.6 680.0,667.3 681.0,670.5 682.0,670.2 683.0,668.5 684.0,671.1 685.0,668.5 686.0,669.2 687.0,667.1 688.0,670.9 689.0,669.8 690.0,671.4 691.0,670.9 692.0,670.1 693.0,670.2 694.0,671.7 695.0,669.8 696.0,669.8 697.0,670.1 698.0,671.0 699.0,671.1 700.0,672.4 701.0,669.5 702.0,671.2 703.0,668.4 704.0,670.0 705.0,669.2 706.0,671.3 707.0,669.6 708.0,667.9 709.0,669.2 710.0,668.7 711.0,667.6 712.0,667.5 713.0,666.5 714.0,671.5 715.0,667.8 716.0,668.8 717.0,665.8 718.0,665.8 719.0,667.0 720.0,667.0 721.0,668.2 722.0,665.7 723.0,667.8 724.0,669.1 725.0,665.6 726.0,668.1 727.0,665.5 728.0,667.2 729.0,667.2 730.0,669.1 731.0,665.6 732.0,666.7 733.0,667.9 734.0,664.7 735.0,666.2 736.0,664.9 737.0,665.0 738.0,666.8 739.0,666.7 740.0,669.1 741.0,667.2 742.0,666.6 743.0,664.0 744.0,663.1 745.0,662.8 746.0,658.5 747.0,662.6 748.0,658.2 749.0,656.4 750.0,655.7 751.0,655.6 752.0,653.7 753.0,648.9 754.0,646.6 755.0,642.4 756.2,636.4 757.0,633.9 758.0,627.3 759.0,618.9 760.0,616.3 761.0,608.6 762.0,606.5 763.2,602.3 764.0,603.3 765.0,605.8 766.0,611.2 767.0,613.6 767.5,617.3 768.0,622.9 769.0,632.8 770.0,642.5 771.0,647.2 772.0,649.0 773.0,652.8 774.0,653.1 775.0,656.0 776.0,655.8 777.0,654.9 778.0,658.6 779.0,656.9 780.0,657.0 781.0,656.4 782.0,657.3 783.0,658.1 784.0,658.7 785.0,660.3 786.0,657.3 787.0,658.9 788.0,661.4 789.0,660.4 790.0,661.0 791.0,663.0 792.0,661.6 793.0,662.0 794.0,661.6 795.0,664.3 796.0,663.4 797.0,661.0 797.5,662.8 798.0,660.4 799.0,663.5 800.0,662.8 801.0,661.6 802.0,661.1 803.0,659.0 804.0,662.3 805.0,660.9 806.0,660.3 807.0,661.5 808.0,659.3 809.0,659.0 810.0,658.5 811.0,657.3 812.0,662.1 813.0,658.1 814.0,657.4 815.0,658.7 816.0,652.7 817.0,656.3 818.0,655.6 819.0,653.4 820.0,654.3 821.0,649.9 822.0,651.4 823.0,651.3 824.0,645.9 825.0,645.5 826.0,645.8 827.0,644.3 828.0,641.6 829.0,640.8 830.0,638.4 831.2,633.2 832.0,632.3 833.0,626.7 834.0,621.4 835.0,617.0 836.0,617.2 837.0,612.6 837.5,615.0 838.0,610.8 839.0,615.0 840.0,620.1 841.2,624.6 842.0,628.2 843.0,631.9 844.0,635.2 845.0,636.6 846.2,641.1 847.0,645.4 848.0,645.1 849.0,646.8 850.0,644.7 851.0,645.8 852.0,645.4 853.0,647.7 854.0,647.9 855.0,649.2 856.0,651.9 857.0,649.5 858.0,652.8 859.0,651.2 860.0,655.6 861.0,654.5 862.0,655.7 862.5,656.3 863.0,658.5 864.0,656.6 865.0,656.4 866.0,655.8 867.0,658.1 868.0,656.8 869.0,657.5 870.0,658.3 871.0,659.4 872.0,657.6 872.5,659.5 873.0,661.1 874.0,656.5 875.0,660.4 876.0,661.4 877.0,657.5 878.0,659.0 879.0,656.1 880.0,658.3 881.0,657.2 882.0,657.8 883.0,655.9 884.0,655.8 885.0,656.1 886.0,655.5 887.0,655.3 887.5,655.8 888.0,654.4 889.0,655.3 890.0,655.5 891.0,651.1 892.0,653.7 893.0,651.6 894.0,650.4 895.0,649.4 896.0,649.4 897.0,649.1 898.0,650.3 898.8,648.0 900.0,651.3 901.0,649.0 902.0,651.4 903.0,652.3 904.0,649.6 905.0,653.2 906.0,655.2 907.0,652.0 908.0,653.8 909.0,653.2 910.0,653.7 911.0,653.5 912.0,653.3 913.0,655.2 914.0,655.6 915.0,654.5 916.0,656.8 917.0,656.4 918.0,656.0 919.0,654.2 920.0,657.9 921.0,657.3 922.0,652.6 923.0,654.1 924.0,655.1 925.0,657.2 926.0,657.7 927.0,655.6 928.0,656.4 929.0,657.1 930.0,654.4 931.0,657.1 932.0,655.8 932.5,656.5 933.0,656.2 934.0,654.6 935.0,654.8 936.0,656.2 937.0,656.2 938.0,655.6 939.0,657.4 940.0,655.3 941.0,653.9 942.0,655.0 943.0,655.1 944.0,655.0 945.0,656.7 946.0,655.6 947.0,656.2 948.0,655.4 949.0,654.1 950.0,655.6 951.0,653.7 952.0,654.2 952.5,652.4 953.0,653.8 954.0,653.0 955.0,653.7 956.0,655.5 957.0,656.0 958.0,653.8 959.0,652.1 960.0,653.0 961.0,651.8 962.0,650.3 963.0,650.8 964.0,650.2 965.0,649.4 966.0,651.8 967.0,648.8 968.0,648.6 969.0,650.0 970.0,647.8 971.0,646.9 972.0,647.2 973.0,648.8 974.0,648.5 975.0,648.3 976.0,647.1 977.0,646.3 978.0,648.7 979.0,645.3 980.0,646.9 981.0,645.1 982.0,646.2 983.0,646.3 984.0,648.0 985.0,642.0 986.0,647.5 987.0,644.0 987.5,645.4 988.0,645.7 989.0,642.2 990.0,640.8 991.0,638.8 992.0,635.0 993.0,631.2 993.8,630.3 995.0,626.4 996.0,621.1 997.0,621.3 998.0,617.0 998.8,612.0 1000.0,611.5 1001.2,613.7 1002.0,613.7 1003.0,612.7 1004.0,611.4 1005.0,614.7 1006.0,618.9 1007.0,622.0 1008.0,625.6 1009.0,629.1 1010.0,633.6 1011.0,633.8 1012.0,636.0 1013.0,637.4 1014.0,640.0 1015.0,638.7 1016.2,639.2 1017.0,636.3 1018.0,640.0 1019.0,639.3 1020.0,637.5 1021.0,633.8 1022.0,635.4 1023.0,635.4 1024.0,637.2 1025.0,634.3 1026.0,633.7 1027.0,632.8 1027.5,633.1 1028.0,629.3 1029.0,628.8 1030.0,627.3 1031.0,627.3 1032.0,626.1 1033.0,625.5 1034.0,622.7 1035.0,623.0 1036.0,620.6 1037.0,623.4 1037.5,619.3 1038.0,622.9 1039.0,620.4 1040.0,615.3 1041.0,617.0 1042.0,615.7 1043.0,612.4 1044.0,615.9 1045.0,616.3 1046.0,618.7 1047.0,619.4 1048.0,622.6 1049.0,625.3 1050.0,626.0 1051.0,626.7 1052.0,628.6 1053.0,628.7 1054.0,631.7 1055.0,629.0 1056.0,635.5 1057.0,634.6 1058.0,636.1 1059.0,637.4 1060.0,635.2 1061.0,640.4 1062.0,635.9 1062.5,638.2 1063.0,638.0 1064.0,639.4 1065.0,637.5 1066.0,635.5 1067.0,637.9 1068.0,633.9 1069.0,637.1 1070.0,636.6 1071.0,639.4 1072.0,636.7 1073.0,636.4 1074.0,635.9 1075.0,635.7 1076.0,636.0 1077.0,637.5 1078.0,634.7 1079.0,636.1 1080.0,634.2 1081.0,635.9 1082.0,636.0 1083.0,633.8 1084.0,634.3 1085.0,634.7 1086.0,635.0 1087.0,634.7 1088.0,632.6 1089.0,630.6 1090.0,629.1 1091.0,631.3 1092.0,630.7 1093.0,627.7 1094.0,627.4 1095.0,622.8 1096.0,620.9 1097.0,621.5 1098.0,616.4 1099.0,617.0 1100.0,615.5 1101.0,614.2 1102.0,615.3 1103.0,610.9 1104.0,610.9 1105.0,608.3 1106.0,610.2 1107.0,611.9 1108.0,613.4 1109.0,615.1 1110.0,617.2 1111.0,617.1 1112.0,615.9 1112.5,619.0 1113.0,619.3 1114.0,617.0 1115.0,617.3 1116.0,620.5 1117.0,619.1 1118.0,618.7 1119.0,617.7 1120.0,616.4 1121.0,615.1 1122.0,616.1 1123.0,614.6 1124.0,613.8 1125.0,614.1 1126.0,613.8 1127.0,615.0 1127.5,612.4 1128.0,617.3 1129.0,612.7 1130.0,614.0 1131.0,616.6 1132.0,615.1 1133.0,616.5 1134.0,618.2 1135.0,615.1 1136.0,619.3 1137.0,619.5 1138.0,621.1 1139.0,622.5 1140.0,622.9 1141.0,624.0 1142.0,623.7 1143.0,622.8 1144.0,620.9 1145.0,621.9 1146.0,618.5 1147.0,619.1 1148.0,620.6 1149.0,619.2 1150.0,615.6 1151.0,616.1 1152.0,617.5 1153.0,616.4 1154.0,616.3 1155.0,611.7 1156.0,611.6 1157.0,612.2 1158.0,610.4 1159.0,610.9 1160.0,610.3 1161.0,610.1 1162.0,608.9 1162.5,609.5 1163.0,609.6 1164.0,608.3 1165.0,605.9 1166.0,609.0 1167.0,607.2 1168.0,607.1 1169.0,606.4 1170.0,603.6 1171.0,606.2 1172.0,604.1 1173.0,603.0 1174.0,606.0 1175.0,603.4 1176.0,603.6 1177.0,603.7 1178.0,604.0 1179.0,598.6 1180.0,599.3 1181.0,600.8 1182.0,598.6 1182.5,594.9 1183.0,599.7 1184.0,599.9 1185.0,600.9 1186.0,600.3 1187.0,599.6 1188.0,600.9 1189.0,600.9 1190.0,600.7 1191.0,602.2 1192.0,602.8 1192.5,601.1 1193.0,604.2 1194.0,604.9 1195.0,606.2 1196.0,603.3 1197.0,608.8 1198.0,610.4 1199.0,611.0 1200.0,614.7 1201.0,613.2 1202.0,617.7 1202.5,616.8 1203.0,615.7 1204.0,618.7 1205.0,617.6 1206.0,617.6 1207.0,615.5 1208.0,618.2 1209.0,619.6 1210.0,619.3 1211.0,616.1 1212.0,620.0 1213.0,620.4 1214.0,619.5 1215.0,617.9 1216.0,616.4 1217.0,617.4 1217.5,617.9 1218.0,619.2 1219.0,619.8 1220.0,618.2 1221.0,617.1 1222.0,619.1 1223.0,618.0 1224.0,621.9 1225.0,618.6 1226.0,621.2 1227.0,621.8 1228.0,619.5 1229.0,622.4 1230.0,620.9 1231.0,620.0 1232.0,619.9 1232.5,621.3 1233.0,622.7 1234.0,618.2 1235.0,621.1 1236.0,619.3 1237.0,617.5 1238.0,617.3 1239.0,616.3 1240.0,615.0 1241.0,615.1 1242.0,611.7 1242.5,615.1 1243.0,613.2 1244.0,610.2 1245.0,607.4 1246.0,608.9 1247.0,607.3 1248.0,607.8 1249.0,606.8 1250.0,607.4 1251.0,603.6 1252.0,604.0 1252.5,601.9 1253.0,601.6 1254.0,603.5 1255.0,600.6 1256.0,600.1 1257.0,599.2 1258.0,599.6 1259.0,599.3 1260.0,597.6 1261.0,595.3 1262.0,596.1 1262.5,593.9 1263.0,593.6 1264.0,590.8 1265.0,585.8 1266.0,577.0 1267.0,575.0 1267.5,570.8 1268.0,568.5 1269.0,560.6 1270.0,548.3 1271.2,539.4 1272.0,535.8 1273.0,530.6 1274.0,524.0 1275.0,521.2 1275.5,522.7 1276.0,520.2 1277.0,523.2 1278.0,527.0 1279.0,528.6 1280.0,533.4 1281.0,536.9 1282.0,541.6 1283.0,549.6 1284.0,556.6 1285.0,562.1 1286.0,567.3 1287.0,572.5 1288.0,576.7 1289.0,580.2 1290.0,581.9 1291.0,583.9 1292.0,585.2 1293.0,585.8 1293.8,588.7 1295.0,581.5 1296.0,579.4 1297.0,573.4 1297.5,574.0 1298.0,576.0 1299.0,575.2 1300.0,578.6 1301.0,577.1 1302.0,579.7 1302.5,580.3 1303.0,582.3 1304.0,585.7 1305.0,590.4 1306.0,595.8 1307.0,601.0 1307.5,601.2 1308.0,602.2 1309.0,603.8 1310.0,605.0 1311.0,605.6 1312.0,607.6 1313.0,610.2 1314.0,608.7 1315.0,613.1 1316.0,612.5 1317.0,612.6 1318.0,613.9 1319.0,616.3 1320.0,616.5 1321.0,616.8 1322.0,619.1 1322.5,620.0 1323.0,614.9 1324.0,617.8 1325.0,615.3 1326.0,614.0 1327.0,614.7 1328.0,616.2 1329.0,613.7 1330.0,612.7 1331.0,614.4 1332.0,612.3 1332.5,611.0 1333.0,613.0 1334.0,609.6 1335.0,605.8 1336.0,602.8 1337.0,600.7 1338.0,598.4 1339.0,596.4 1340.0,593.5 1341.0,589.6 1342.0,584.5 1343.0,583.4 1344.0,578.9 1345.0,574.6 1346.0,572.6 1346.8,574.1 1348.0,575.3 1349.0,578.0 1350.0,578.3 1351.0,585.3 1352.0,583.8 1352.5,587.4 1353.0,590.5 1354.0,593.1 1355.0,593.9 1356.0,598.9 1357.0,602.7 1357.5,603.4 1358.0,602.5 1359.0,608.5 1360.0,607.2 1361.0,611.9 1362.0,612.9 1363.0,615.8 1364.0,617.4 1365.0,619.4 1366.0,617.3 1367.0,619.7 1368.0,621.5 1369.0,620.1 1370.0,620.9 1371.0,620.9 1372.0,619.5 1373.0,620.2 1374.0,621.0 1375.0,621.8 1376.0,624.3 1377.0,624.1 1378.0,621.5 1379.0,622.0 1380.0,621.6 1381.0,620.2 1382.0,625.5 1383.0,624.8 1384.0,621.7 1385.0,624.6 1386.0,628.1 1387.0,625.6 1387.5,625.6 1388.0,625.2 1389.0,623.5 1390.0,622.3 1391.0,622.0 1392.0,622.5 1393.0,621.0 1394.0,621.4 1395.0,622.1 1396.0,619.9 1397.0,619.9 1397.5,618.2 1398.0,616.9 1399.0,622.0 1400.0,620.6 1401.0,622.0 1402.0,620.8 1403.0,620.0 1404.0,625.1 1405.0,621.5 1406.0,625.1 1407.0,625.5 1408.0,627.2 1409.0,628.4 1410.0,628.6 1411.0,624.5 1412.0,628.8 1413.0,624.6 1414.0,628.1 1415.0,626.4 1416.0,625.2 1417.0,625.9 1418.0,624.6 1419.0,626.2 1420.0,627.3 1421.0,626.9 1422.0,625.6 1423.0,626.9 1424.0,625.8 1425.0,628.0 1426.0,625.5 1427.0,623.7 1428.0,624.0 1429.0,623.1 1430.0,623.5 1431.0,623.5 1432.0,624.5 1433.0,624.4 1434.0,623.2 1435.0,623.5 1436.0,621.7 1437.0,621.9 1438.0,619.0 1439.0,621.4 1440.0,621.7 1441.0,626.1 1442.0,620.6 1443.0,622.6 1444.0,622.1 1445.0,620.4 1446.0,623.1 1447.0,622.8 1448.0,620.8 1449.0,619.7 1450.0,623.0 1451.0,621.1 1452.0,624.2 1453.0,623.0 1454.0,624.2 1455.0,623.1 1456.0,625.8 1457.0,624.6 1458.0,625.9 1459.0,623.9 1460.0,622.3 1461.0,620.9 1462.0,619.8 1463.0,617.7 1464.0,613.7 1465.0,615.7 1466.0,611.1 1467.0,610.6 1468.0,609.1 1469.0,606.5 1470.0,609.5 1471.0,609.5 1472.0,611.4 1473.0,611.2 1474.0,614.6 1475.0,616.2 1476.0,619.2 1477.0,617.2 1478.0,621.3 1479.0,623.4 1480.0,622.4 1481.0,623.0 1482.0,627.0 1483.0,626.5 1484.0,628.5 1485.0,628.6 1486.0,629.6 1487.0,628.3 1488.0,626.0 1489.0,630.2 1490.0,628.8 1491.0,630.9 1492.0,629.6 1493.0,633.0 1494.0,630.6 1495.0,632.4 1496.0,633.1 1497.0,631.6 1498.0,632.5 1499.0,632.3 1500.0,631.3 1501.0,634.9 1502.0,631.9 1503.0,631.3 1504.0,633.1 1505.0,634.3 1506.0,634.5 1507.0,634.2 1508.0,634.4 1509.0,632.3 1510.0,636.5 1511.0,638.3 1512.0,635.1 1513.0,633.9 1514.0,637.8 1515.0,636.7 1516.0,631.6 1517.0,636.4 1518.0,635.6 1519.0,636.2 1520.0,641.0 1521.0,639.7 1522.0,638.2 1523.0,638.6 1524.0,641.0 1525.0,637.2 1526.0,640.0 1527.0,638.1 1528.0,640.2 1529.0,639.4 1530.0,638.1 1531.0,640.8 1532.0,640.1 1533.0,642.0 1534.0,638.8 1535.0,639.6 1536.0,638.5 1537.0,641.3 1538.0,638.4 1539.0,639.6 1540.0,641.5 1541.0,640.4 1542.0,640.1 1543.0,640.1 1544.0,640.3 1545.0,640.7 1546.0,639.4 1547.0,637.0 1548.0,641.9 1549.0,638.5 1550.0,642.7 1551.0,640.5 1552.0,644.8 1553.0,642.0 1554.0,640.9 1555.0,641.7 1556.0,638.4 1557.0,640.8 1558.0,640.1 1559.0,640.7 1560.0,637.8 1561.0,637.6 1562.0,641.9 1563.0,641.0 1564.0,640.4 1565.0,641.0 1566.0,640.3 1567.0,640.6 1568.0,642.4 1569.0,641.1 1570.0,642.6 1571.0,640.6 1572.0,639.1 1573.0,640.9 1574.0,641.7 1575.0,640.4 1576.0,641.5 1577.0,641.5 1578.0,643.6 1579.0,643.6 1580.0,644.1 1581.0,641.6 1582.0,643.3 1583.0,644.8 1584.0,643.3 1585.0,643.1 1586.0,642.2 1587.0,644.7 1588.0,643.9 1589.0,645.2 1590.0,643.7 1591.0,647.1 1592.0,644.2 1593.0,642.6 1594.0,644.8 1595.0,645.4 1596.0,646.7 1597.0,644.3 1598.0,644.3 1599.0,644.9 1600.0,644.8 1601.0,642.5 1602.0,646.7 1603.0,647.6 1604.0,644.8 1605.0,644.6 1606.0,646.0 1607.0,645.1 1608.0,647.6 1609.0,645.6 1610.0,647.5 1611.0,644.9 1612.0,644.7 1613.0,644.6 1614.0,644.9 1615.0,647.6 1616.0,648.3 1617.0,647.3 1618.0,647.5 1619.0,644.0 1620.0,648.9 1621.0,645.5 1622.0,649.3 1623.0,650.9 1624.0,647.6 1625.0,648.4 1626.0,648.5 1627.0,645.7 1628.0,646.1 1629.0,646.7 1630.0,648.0 1631.0,649.0 1632.0,648.0 1633.0,649.5 1634.0,647.2 1635.0,646.0 1636.0,648.1 1637.0,648.0 1638.0,646.1 1639.0,649.7 1640.0,646.8 1641.0,647.2 1642.0,648.6 1643.0,646.8 1644.0,649.3 1645.0,649.0 1646.0,649.1 1647.0,648.5 1648.0,647.8 1649.0,647.4 1650.0,649.0 1651.0,650.6 1652.0,649.7 1653.0,649.2 1654.0,650.1 1655.0,650.6 1656.0,646.9 1657.0,648.7 1658.0,650.5 1659.0,647.8 1660.0,648.1 1661.0,649.7 1662.0,648.5 1663.0,650.5 1664.0,648.4 1665.0,649.7 1666.0,652.4 1667.0,650.3 1668.0,646.5 1669.0,646.7 1670.0,646.4 1671.0,647.4 1672.0,645.1 1673.0,647.5 1674.0,648.8 1675.0,648.2 1676.0,644.6 1677.0,645.0 1678.0,644.8 1679.0,643.9 1680.0,647.5 1681.0,644.1 1682.0,643.6 1683.0,645.9 1684.0,646.1 1685.0,648.0 1686.0,648.4 1687.0,646.3 1688.0,644.0 1689.0,648.4 1690.0,649.0 1691.0,650.8 1692.0,646.6 1693.0,647.6 1694.0,651.9 1695.0,652.5 1696.0,652.4 1697.0,651.0 1698.0,653.2 1699.0,650.9 1700.0,650.2 1701.0,652.2 1702.0,652.6 1702.5,653.6 1703.0,654.1 1704.0,650.1 1705.0,653.2 1706.0,653.5 1707.0,651.1 1708.0,652.7 1709.0,653.2 1710.0,653.8 1711.0,652.0 1712.0,652.5 1713.0,651.8 1714.0,654.0 1715.0,653.1 1716.0,652.8 1717.0,654.6 1718.0,653.5 1719.0,652.1 1720.0,655.4 1721.0,655.3 1722.0,654.6 1723.0,652.5 1724.0,655.6 1725.0,653.2 1726.0,651.5 1727.0,654.0 1728.0,656.8 1729.0,653.6 1730.0,655.2 1731.0,656.3 1732.0,654.7 1733.0,654.0 1734.0,654.6 1735.0,655.4 1736.0,653.9 1737.0,655.2 1738.0,655.6 1739.0,654.3 1740.0,656.0 1741.0,655.8 1742.0,654.6 1743.0,654.9 1744.0,655.4 1745.0,655.2 1746.0,655.2 1747.0,654.1 1748.0,655.8 1749.0,656.8 1750.0,656.8 1751.0,654.9 1752.0,656.9 1753.0,657.1 1754.0,655.1 1755.0,657.2 1756.0,656.4 1757.0,656.2 1758.0,657.2 1759.0,656.7 1760.0,654.0 1761.0,657.5 1762.0,655.8 1763.0,657.3 1764.0,658.5 1765.0,657.3 1766.0,657.2 1767.0,658.1 1768.0,658.7 1769.0,657.0 1770.0,657.3 1771.0,659.0 1772.0,660.7 1773.0,658.5 1774.0,659.8 1775.0,657.7 1776.0,658.8 1777.0,659.0 1778.0,657.2 1779.0,659.0 1780.0,658.8 1781.0,655.6 1782.0,659.1 1783.0,659.7 1784.0,659.6 1785.0,659.8 1786.0,657.8 1787.0,658.3 1788.0,659.1 1789.0,658.2 1790.0,658.7 1791.0,661.1 1792.0,658.1 1793.0,658.9 1794.0,661.9 1795.0,659.2 1796.0,657.9 1797.0,659.7 1798.0,659.5 1799.0,659.4 1800.0,656.9 1801.0,659.6 1802.0,659.7 1803.0,662.0 1804.0,660.0 1805.0,658.4 1806.0,659.4 1807.0,659.9 1808.0,658.7 1809.0,658.8 1810.0,660.7 1811.0,659.4 1812.0,659.4 1813.0,657.3 1814.0,659.2 1815.0,655.9 1816.0,660.2 1817.0,657.8 1818.0,659.2 1819.0,660.2 1820.0,656.8 1821.0,659.8 1822.0,658.5 1823.0,659.7 1824.0,657.6 1825.0,657.1 1826.0,659.8 1827.0,658.5 1828.0,658.0 1829.0,656.3 1830.0,659.6 1831.0,657.3 1832.0,657.4 1833.0,656.8 1834.0,657.7 1835.0,658.5 1836.0,657.5 1837.0,657.5 1838.0,656.8 1839.0,659.7 1840.0,659.8 1841.0,657.2 1842.0,656.4 1843.0,658.0 1844.0,655.4 1845.0,658.0 1846.0,658.1 1847.0,658.0 1848.0,660.1 1849.0,660.5 1850.0,658.7 1851.0,657.6 1852.0,659.6 1853.0,659.9 1854.0,656.8 1855.0,657.5 1856.0,658.3 1857.0,656.5 1858.0,657.4 1859.0,661.3 1860.0,657.4 1861.0,660.4 1862.0,658.3 1863.0,660.9 1864.0,660.1 1865.0,661.1 1866.0,658.1 1867.0,660.5 1868.0,659.4 1869.0,661.4 1870.0,661.5 1871.0,660.9 1872.0,660.6 1873.0,660.9 1874.0,661.3 1875.0,660.4 1876.0,660.6 1877.0,660.4 1878.0,660.0 1879.0,662.9 1880.0,659.8 1881.0,663.5 1882.0,662.7 1883.0,659.5 1884.0,659.4 1885.0,662.0 1886.0,660.5 1887.0,662.2 1888.0,663.3 1889.0,662.6 1890.0,661.8 1891.0,661.8 1892.0,664.1 1893.0,661.6 1894.0,664.5 1895.0,664.9 1896.0,661.6 1897.0,662.5 1898.0,664.4 1899.0,661.1 1900.0,662.7 1901.0,663.5 1902.0,660.6 1903.0,662.6 1904.0,662.2 1905.0,661.3 1906.0,664.2 1907.0,661.8 1908.0,665.1 1909.0,663.0 1910.0,661.0 1911.0,662.3 1912.0,660.9 1913.0,663.1 1914.0,662.8 1915.0,660.3 1916.0,661.3 1917.0,662.5 1918.0,662.0 1919.0,660.5 1920.0,663.3 1921.0,663.7 1922.0,659.8 1923.0,663.8 1924.0,658.9 1925.0,661.5 1926.0,660.8 1927.0,660.9 1928.0,661.9 1929.0,660.0 1930.0,661.5 1931.0,663.9 1932.0,662.2 1933.0,663.6 1934.0,662.7 1935.0,659.2 1936.0,663.9 1937.0,662.6 1938.0,662.3 1939.0,660.9 1940.0,660.6 1941.0,659.9 1942.0,661.1 1943.0,661.4 1944.0,660.9 1945.0,660.9 1946.0,658.3 1947.0,659.9 1948.0,659.7 1949.0,661.1 1950.0,660.0 1951.0,659.9 1952.0,660.5 1953.0,659.7 1954.0,659.8 1955.0,661.6 1956.0,659.8 1957.0,658.7 1958.0,660.7 1959.0,660.9 1960.0,660.6 1961.0,657.9 1962.0,660.9 1963.0,659.7 1964.0,659.8 1965.0,659.7 1966.0,660.2 1967.0,660.3 1968.0,661.7 1969.0,660.1 1970.0,659.7 1971.0,660.8 1972.0,659.9 1973.0,661.6 1974.0,660.5 1975.0,661.4 1976.0,659.8 1977.0,662.0 1978.0,661.6 1979.0,659.8 1980.0,660.6 1981.0,661.3 1982.0,659.6 1983.0,660.0 1984.0,662.3 1985.0,662.4 1986.0,663.6 1987.0,660.2 1988.0,661.5 1989.0,659.3 1990.0,664.4 1991.0,660.3 1992.0,661.8 1993.0,664.8 1994.0,664.1 1995.0,661.1 1996.0,665.3 1997.0,662.9 1998.0,660.9 1999.0,662.7 2000.0,663.2 2001.0,663.2 2002.0,659.5 2003.0,664.9 2004.0,660.3 2005.0,662.2 2006.0,664.4 2007.0,663.0 2008.0,662.5 2009.0,661.7 2010.0,663.3 2011.0,664.4 2012.0,661.8 2013.0,663.2 2014.0,662.1 2015.0,662.1 2016.0,659.8 2017.0,663.0 2018.0,664.0 2019.0,662.5 2020.0,664.1 2021.0,663.0 2022.0,664.4 2023.0,663.0 2024.0,662.3 2025.0,662.1 2026.0,663.0 2027.0,663.2 2028.0,661.8 2029.0,662.7 2030.0,661.1 2031.0,661.1 2032.0,663.8 2033.0,663.4 2034.0,664.2 2035.0,663.2 2036.0,663.4 2037.0,665.5 2038.0,661.9 2039.0,663.5 2040.0,665.2 2041.0,665.9 2042.0,663.9 2043.0,663.0 2044.0,661.8 2045.0,663.0 2046.0,663.4 2047.0,663.3 2048.0,664.0 2049.0,664.1 2050.0,662.7 2051.0,662.2 2052.0,663.0 2053.0,664.0 2054.0,665.6 2055.0,661.3 2056.0,664.9 2057.0,663.1 2058.0,665.0 2059.0,666.1 2060.0,664.3 2061.0,662.1 2062.0,663.1 2063.0,664.2 2064.0,663.3 2065.0,663.6 2066.0,662.7 2067.0,663.5 2068.0,663.0 2069.0,665.0 2070.0,664.3 2071.0,664.9 2072.0,661.7 2073.0,663.3 2074.0,663.0 2075.0,663.4 2076.0,662.9 2077.0,663.1 2078.0,666.2 2079.0,663.8 2080.0,662.5 2081.0,663.8 2082.0,667.2 2083.0,665.2 2084.0,663.0 2085.0,664.0 2086.0,664.3 2087.0,664.4 2088.0,662.5 2089.0,663.6 2090.0,664.3 2091.0,663.6 2092.0,664.4"/>
<polyline class="c" stroke="#00b066" points="459.0,445.4 460.0,444.2 461.0,445.2 462.0,444.7 463.0,444.7 464.0,444.8 465.0,443.2 466.0,444.8 467.0,444.2 468.0,447.9 469.0,445.2 470.0,444.7 471.0,444.8 472.0,444.4 473.0,444.1 474.0,444.7 475.0,445.4 476.0,444.8 477.0,445.8 478.0,444.8 479.0,445.0 480.0,446.4 481.0,445.5 482.0,444.6 483.0,444.8 484.0,445.5 485.0,446.7 486.0,444.8 487.0,444.8 488.0,445.9 489.0,444.2 490.0,444.7 491.0,445.8 492.0,445.5 493.0,445.1 494.0,445.5 495.0,442.4 496.0,445.8 497.0,444.0 498.0,443.4 499.0,445.0 500.0,445.4 501.0,444.3 502.0,443.7 503.0,444.6 504.0,444.5 505.0,445.7 506.0,445.1 507.0,444.5 508.0,445.3 509.0,444.0 510.0,443.3 511.0,444.6 512.0,444.5 513.0,443.7 514.0,443.1 515.0,444.0 516.0,441.2 517.0,444.3 518.0,444.0 519.0,441.8 520.0,443.3 521.0,442.2 522.0,443.8 523.0,440.8 524.0,441.8 525.0,443.3 526.0,443.5 527.0,439.9 527.5,441.5 528.0,442.2 529.0,440.8 530.0,442.6 531.0,439.0 532.0,439.9 533.0,437.6 534.0,439.3 535.0,437.0 536.0,435.7 537.0,433.3 538.0,435.7 539.0,433.6 540.0,432.3 541.0,431.3 542.0,429.0 543.0,426.4 544.0,424.6 545.0,422.9 546.0,423.3 547.0,418.1 548.0,416.5 549.0,414.1 550.0,412.0 551.0,409.6 552.0,405.0 552.5,403.2 553.0,403.7 554.0,402.2 555.0,398.8 556.0,395.4 557.0,392.0 558.0,389.9 559.0,386.9 560.0,385.9 561.0,382.1 562.0,381.2 563.0,379.2 564.0,378.5 565.0,377.3 566.0,379.6 567.0,377.8 568.0,377.3 569.0,372.4 570.0,374.2 571.0,373.6 572.0,374.8 573.0,370.9 574.0,375.3 575.0,375.1 576.0,372.7 577.0,374.8 578.0,377.2 579.0,380.5 580.0,383.3 581.0,386.8 582.0,385.6 583.0,388.5 584.0,389.4 585.0,393.1 586.0,393.5 587.0,395.9 587.5,393.6 588.0,395.6 589.0,396.5 590.0,401.2 591.0,401.9 592.0,402.3 593.0,403.8 594.0,406.6 595.0,406.6 596.0,407.7 597.0,411.1 598.0,415.2 599.0,412.8 600.0,413.7 601.0,414.1 602.0,415.0 602.5,418.2 603.0,419.3 604.0,419.3 605.0,420.9 606.0,421.8 607.0,422.9 608.0,421.4 609.0,423.7 610.0,425.2 611.0,424.3 612.0,425.2 613.0,425.1 614.0,426.2 615.0,428.4 616.0,426.8 617.0,427.4 618.0,429.1 619.0,429.0 620.0,430.7 621.0,424.6 622.0,429.2 623.0,426.8 624.0,427.5 625.0,428.2 626.0,428.2 627.0,427.8 628.0,426.0 629.0,427.9 630.0,424.6 631.0,424.4 632.0,425.6 633.0,423.1 634.0,427.0 635.0,424.8 636.0,426.2 637.0,422.4 638.0,421.4 639.0,421.9 640.0,422.4 641.0,419.9 642.0,420.8 643.0,419.6 644.0,421.6 645.0,417.6 646.0,419.9 647.0,417.0 647.5,416.5 648.0,416.9 649.0,416.2 650.0,418.4 651.0,420.0 652.0,418.8 653.0,419.8 654.0,421.7 655.0,419.8 656.0,419.9 657.0,419.4 657.5,417.5 658.0,421.3 659.0,417.6 660.0,421.7 661.0,421.0 662.0,423.1 663.0,421.6 664.0,420.8 665.0,423.0 666.0,421.9 667.0,422.8 668.0,423.4 669.0,423.3 670.0,423.5 671.0,422.6 672.0,423.8 673.0,420.9 674.0,424.2 675.0,422.7 676.0,426.5 677.0,426.9 678.0,421.9 679.0,425.4 680.0,425.0 681.0,423.7 682.0,426.2 683.0,424.7 684.0,422.7 685.0,425.1 686.0,425.3 687.0,425.7 688.0,423.5 689.0,426.4 690.0,426.6 691.0,423.6 692.0,424.3 693.0,425.2 694.0,424.4 695.0,428.0 696.0,425.5 697.0,423.5 698.0,423.8 699.0,424.9 700.0,428.6 701.0,424.5 702.0,425.0 703.0,425.5 704.0,424.5 705.0,428.2 706.0,423.6 707.0,425.6 708.0,424.6 709.0,425.2 710.0,422.3 711.0,426.9 712.0,423.8 713.0,424.0 714.0,422.3 715.0,422.6 716.0,424.6 717.0,425.2 718.0,424.7 719.0,425.4 720.0,424.6 721.0,423.4 722.0,424.6 723.0,424.2 724.0,423.0 725.0,424.2 726.0,425.1 727.0,423.3 728.0,422.3 729.0,423.9 730.0,425.7 731.0,422.2 732.0,422.3 733.0,422.1 734.0,424.2 735.0,419.2 736.0,422.5 737.0,423.7 738.0,420.3 739.0,423.8 740.0,422.1 741.0,420.1 742.0,420.8 743.0,417.4 744.0,418.1 745.0,420.9 746.0,415.7 747.0,418.8 748.0,414.7 749.0,415.2 750.0,412.6 751.0,407.8 752.0,408.7 753.0,408.0 754.0,404.2 755.0,402.0 756.0,402.7 757.0,399.7 757.5,397.5 758.0,398.3 759.0,399.3 760.0,396.0 761.0,397.1 762.0,397.5 762.5,395.1 763.0,393.2 764.0,393.1 765.0,395.3 766.0,397.1 767.0,396.5 768.0,397.4 769.0,396.3 770.0,397.9 771.0,397.1 772.0,397.7 773.0,396.4 774.0,396.2 775.0,398.0 776.0,396.9 777.0,396.9 778.0,399.0 779.0,397.3 780.0,401.4 781.0,397.8 782.0,394.8 783.0,396.6 784.0,395.7 785.0,393.9 786.0,397.0 787.0,394.7 788.0,392.2 789.0,399.2 790.0,398.4 791.0,402.9 792.0,401.0 792.5,400.7 793.0,405.4 794.0,402.8 795.0,406.1 796.0,409.4 797.0,408.8 798.0,409.7 799.0,410.9 800.0,412.6 801.0,410.3 802.0,412.7 803.0,412.9 804.0,415.9 805.0,411.8 806.0,411.0 807.0,413.7 807.5,411.9 808.0,412.9 809.0,412.4 810.0,413.6 811.0,410.2 812.0,410.3 813.0,405.7 814.0,407.5 815.0,410.4 816.0,406.2 817.0,405.5 817.5,404.4 818.0,406.9 819.0,405.6 820.0,402.8 821.0,405.1 822.0,403.8 823.0,403.9 824.0,401.2 825.0,404.5 826.0,402.1 827.0,401.1 827.5,400.4 828.0,400.9 829.0,402.6 830.0,400.9 831.0,403.1 832.0,402.4 833.0,403.7 834.0,402.9 835.0,401.6 836.0,398.8 837.0,402.4 837.5,403.3 838.0,402.3 839.0,403.2 840.0,401.9 841.0,402.4 842.0,402.0 843.0,406.1 844.0,404.7 845.0,404.3 846.0,403.5 847.0,405.9 848.0,408.9 849.0,407.8 850.0,406.4 851.0,410.1 852.0,410.5 853.0,410.2 854.0,410.3 855.0,411.3 856.0,410.7 857.0,411.5 858.0,409.4 859.0,413.3 860.0,411.7 861.0,414.8 862.0,408.6 863.0,413.2 864.0,413.9 865.0,412.0 866.0,413.4 867.0,414.0 868.0,413.9 869.0,412.2 870.0,413.0 871.0,415.0 872.0,415.5 873.0,413.7 874.0,413.7 875.0,414.0 876.0,415.4 877.0,412.1 877.5,411.6 878.0,413.9 879.0,411.8 880.0,412.4 881.0,413.2 882.0,413.4 883.0,410.5 884.0,413.0 885.0,408.5 886.0,411.8 887.0,408.1 888.0,408.2 889.0,411.1 890.0,409.4 891.0,408.7 892.0,409.3 893.0,410.7 894.0,409.9 895.0,410.0 896.0,411.7 897.0,408.9 898.0,409.2 899.0,409.2 900.0,411.9 901.0,411.6 902.0,412.1 903.0,409.9 904.0,409.7 905.0,411.4 906.0,409.4 907.0,411.3 908.0,411.2 909.0,408.9 910.0,409.9 911.0,409.8 912.0,412.8 913.0,414.1 914.0,409.8 915.0,410.0 916.0,406.3 917.0,410.3 918.0,410.0 919.0,408.3 920.0,411.3 921.0,407.5 922.0,409.7 923.0,410.2 924.0,408.0 925.0,411.4 926.0,411.7 927.0,407.8 928.0,407.7 929.0,411.0 930.0,410.0 931.0,408.1 932.0,409.5 933.0,409.8 934.0,409.8 935.0,411.3 936.0,410.6 937.0,412.8 938.0,412.2 939.0,411.1 940.0,411.7 941.0,412.1 942.0,411.0 943.0,407.8 944.0,411.0 945.0,409.6 946.0,411.8 947.0,409.2 948.0,409.6 949.0,409.0 950.0,410.9 951.0,408.2 952.0,407.2 952.5,408.0 953.0,406.7 954.0,407.2 955.0,406.6 956.0,406.5 957.0,408.6 958.0,404.4 959.0,404.5 960.0,403.6 961.0,404.4 962.0,400.9 963.0,401.1 964.0,401.7 965.0,402.1 966.0,400.7 967.0,399.6 968.0,398.6 969.0,400.4 970.0,401.5 971.0,399.4 972.0,398.8 973.0,398.8 974.0,396.2 975.0,396.8 976.0,396.5 977.0,396.9 977.5,396.2 978.0,394.1 979.0,397.3 980.0,397.8 981.0,394.2 982.0,394.8 983.0,394.1 984.0,394.4 985.0,390.4 986.0,394.7 987.0,390.9 988.0,393.1 989.0,390.7 990.0,389.4 991.0,389.1 992.0,390.0 993.0,386.4 994.0,386.2 995.0,385.1 996.0,382.3 997.0,386.0 998.0,384.1 999.0,382.5 1000.0,383.7 1001.0,380.0 1002.0,381.2 1002.5,384.0 1003.0,382.8 1004.0,378.0 1005.0,376.6 1006.0,380.7 1007.0,384.5 1008.0,382.7 1009.0,383.6 1010.0,385.4 1011.0,383.4 1012.0,385.3 1012.5,386.3 1013.0,385.7 1014.0,385.6 1015.0,383.9 1016.0,385.6 1017.0,384.0 1018.0,386.6 1019.0,388.4 1020.0,382.9 1021.0,380.4 1022.0,382.9 1023.0,383.8 1024.0,384.5 1025.0,384.2 1026.0,380.6 1027.0,379.3 1028.0,380.7 1029.0,375.3 1030.0,376.4 1031.0,372.4 1032.0,372.0 1032.5,371.0 1033.0,370.3 1034.0,368.6 1035.0,364.2 1036.0,364.3 1037.0,362.2 1038.0,361.1 1039.0,361.4 1040.0,358.3 1041.0,357.1 1042.0,356.6 1043.0,356.8 1044.0,358.0 1045.0,355.2 1046.0,358.0 1047.0,356.3 1048.0,355.2 1049.0,353.2 1050.0,355.6 1051.0,356.2 1052.0,352.2 1052.5,356.9 1053.0,357.7 1054.0,355.8 1055.0,356.6 1056.0,360.2 1057.0,359.2 1058.0,356.9 1059.0,359.2 1060.0,360.0 1061.0,361.0 1062.0,358.5 1062.5,363.7 1063.0,361.9 1064.0,364.0 1065.0,364.6 1066.0,367.1 1067.0,366.4 1068.0,366.7 1069.0,369.8 1070.0,372.1 1071.0,370.3 1072.0,373.6 1073.0,372.4 1074.0,371.5 1075.0,374.9 1076.0,371.2 1077.0,374.0 1078.0,371.5 1079.0,372.9 1080.0,370.1 1081.0,370.5 1082.0,373.3 1083.0,371.7 1084.0,371.2 1085.0,370.1 1086.0,371.2 1087.0,368.0 1087.5,368.2 1088.0,369.5 1089.0,367.6 1090.0,366.5 1091.0,365.9 1092.0,364.3 1093.0,362.7 1094.0,364.5 1095.0,362.8 1096.0,362.8 1097.0,360.6 1098.0,359.5 1099.0,357.8 1100.0,359.3 1101.0,356.4 1102.0,358.6 1103.0,360.6 1104.0,361.8 1105.0,360.6 1106.0,357.6 1107.0,359.6 1107.5,357.5 1108.0,360.0 1109.0,358.4 1110.0,359.8 1111.0,362.5 1112.0,359.8 1113.0,361.9 1114.0,358.4 1115.0,357.5 1116.0,359.9 1117.0,360.4 1117.5,356.6 1118.0,357.3 1119.0,353.3 1120.0,352.3 1121.0,350.9 1122.0,347.0 1122.5,345.4 1123.0,343.4 1124.0,344.8 1125.0,344.2 1126.0,342.7 1127.0,341.2 1128.0,338.0 1129.0,342.0 1130.0,338.7 1131.0,338.1 1132.0,339.1 1133.0,334.1 1134.0,337.1 1135.0,336.6 1136.0,337.1 1137.0,338.3 1138.0,336.7 1139.0,332.8 1140.0,335.0 1141.0,335.6 1142.0,335.4 1143.0,333.0 1144.0,332.4 1145.0,335.9 1146.0,335.7 1147.0,335.6 1148.0,333.8 1149.0,340.1 1150.0,334.1 1151.0,339.1 1152.0,344.0 1153.0,341.7 1154.0,343.3 1155.0,341.9 1156.0,346.6 1157.0,343.3 1158.0,346.5 1159.0,347.1 1160.0,346.0 1161.0,349.7 1162.0,346.7 1163.0,348.3 1164.0,349.7 1165.0,349.3 1166.0,350.9 1167.0,351.7 1168.0,349.9 1169.0,349.6 1170.0,349.7 1171.0,350.0 1172.0,352.0 1173.0,350.4 1174.0,351.4 1175.0,350.7 1176.0,349.5 1177.0,352.3 1178.0,349.4 1179.0,351.1 1180.0,353.6 1181.0,349.6 1182.0,351.4 1183.0,349.1 1184.0,351.0 1185.0,349.6 1186.0,351.6 1187.0,351.5 1188.0,352.8 1189.0,355.3 1190.0,353.5 1191.0,354.4 1192.0,353.5 1192.5,353.4 1193.0,352.6 1194.0,351.6 1195.0,355.0 1196.0,358.1 1197.0,357.0 1198.0,356.1 1199.0,360.1 1200.0,357.4 1201.0,357.5 1202.0,356.8 1202.5,357.2 1203.0,358.3 1204.0,361.8 1205.0,358.2 1206.0,356.7 1207.0,357.1 1208.0,357.4 1209.0,354.7 1210.0,357.2 1211.0,357.7 1212.0,356.7 1213.0,356.7 1214.0,353.4 1215.0,352.3 1216.0,356.6 1217.0,355.7 1218.0,351.1 1219.0,353.1 1220.0,352.2 1221.0,352.3 1222.0,351.1 1223.0,349.4 1224.0,350.0 1225.0,349.5 1226.0,348.9 1227.0,345.8 1227.5,344.0 1228.0,347.5 1229.0,346.2 1230.0,349.2 1231.0,350.0 1232.0,349.4 1233.0,348.5 1234.0,349.3 1235.0,351.2 1236.0,348.3 1237.0,351.0 1238.0,350.8 1239.0,350.3 1240.0,352.3 1241.0,349.1 1242.0,351.9 1243.0,349.3 1244.0,349.9 1245.0,349.8 1246.0,352.5 1247.0,350.6 1248.0,352.4 1249.0,350.6 1250.0,354.2 1251.0,354.8 1252.0,351.0 1253.0,351.2 1254.0,347.3 1255.0,347.1 1256.0,341.8 1257.0,337.3 1257.5,341.0 1258.0,337.8 1259.0,335.0 1260.0,334.3 1261.0,331.6 1262.0,332.6 1263.0,330.0 1264.0,332.4 1265.0,329.7 1266.0,324.6 1267.0,322.9 1268.0,322.2 1269.0,318.2 1270.0,318.8 1271.0,317.1 1272.0,314.5 1272.5,314.2 1273.0,315.2 1274.0,315.7 1275.0,315.0 1276.0,312.0 1277.0,312.6 1278.0,309.4 1279.0,310.3 1280.0,307.3 1281.0,308.6 1282.0,304.1 1283.0,302.7 1284.0,302.3 1285.0,301.6 1286.0,297.3 1287.0,298.0 1287.5,299.0 1288.0,299.1 1289.0,297.4 1290.0,298.9 1291.0,298.4 1292.0,301.1 1293.0,299.8 1294.0,296.9 1295.0,295.7 1296.0,299.4 1297.0,301.3 1298.0,299.9 1299.0,301.2 1300.0,299.3 1301.0,299.3 1302.0,305.2 1303.0,308.0 1304.0,312.6 1305.0,313.1 1306.0,318.0 1307.0,319.7 1308.0,324.6 1309.0,325.3 1310.0,327.8 1311.0,330.1 1312.0,334.8 1312.5,333.8 1313.0,333.4 1314.0,334.7 1315.0,336.2 1316.0,341.5 1317.0,337.8 1318.0,340.3 1319.0,343.3 1320.0,344.4 1321.0,342.2 1322.0,343.7 1323.0,343.6 1324.0,343.9 1325.0,342.2 1326.0,344.7 1327.0,342.3 1328.0,344.3 1329.0,340.0 1330.0,343.1 1331.0,339.5 1332.0,339.0 1333.0,342.1 1334.0,340.0 1335.0,342.0 1336.0,339.6 1337.0,344.0 1338.0,341.7 1339.0,340.2 1340.0,342.6 1341.0,344.0 1342.0,341.8 1343.0,344.2 1344.0,347.0 1345.0,345.5 1346.0,344.4 1347.0,343.8 1348.0,345.8 1349.0,342.6 1350.0,340.2 1351.0,344.0 1352.0,343.2 1353.0,347.5 1354.0,344.8 1355.0,342.7 1356.0,342.2 1357.0,344.5 1358.0,342.0 1359.0,342.1 1360.0,342.5 1361.0,342.2 1362.0,341.5 1363.0,340.6 1364.0,341.5 1365.0,341.3 1366.0,335.5 1367.0,341.7 1367.5,337.8 1368.0,339.6 1369.0,336.8 1370.0,339.0 1371.0,339.6 1372.0,340.5 1373.0,342.7 1374.0,343.7 1375.0,342.6 1376.0,345.3 1377.0,348.0 1377.5,348.6 1378.0,347.9 1379.0,350.0 1380.0,352.7 1381.0,354.0 1382.0,356.4 1383.0,362.9 1384.0,362.0 1385.0,364.0 1386.0,363.5 1387.0,367.4 1388.0,368.7 1389.0,366.2 1390.0,367.9 1391.0,366.4 1392.0,370.7 1393.0,369.7 1394.0,367.3 1395.0,370.8 1396.0,369.7 1397.0,370.0 1398.0,370.2 1399.0,368.8 1400.0,369.2 1401.0,371.3 1402.0,370.4 1403.0,369.2 1404.0,374.1 1405.0,370.7 1406.0,370.2 1407.0,370.1 1408.0,372.4 1409.0,372.9 1410.0,371.8 1411.0,372.6 1412.0,368.5 1413.0,369.7 1414.0,368.8 1415.0,368.7 1416.0,368.6 1417.0,363.8 1418.0,370.9 1419.0,363.9 1420.0,365.2 1421.0,365.4 1422.0,365.2 1422.5,364.2 1423.0,359.2 1424.0,362.3 1425.0,365.6 1426.0,363.4 1427.0,363.8 1428.0,362.4 1429.0,368.6 1430.0,368.1 1431.0,366.6 1432.0,368.3 1432.5,368.7 1433.0,367.3 1434.0,369.2 1435.0,370.6 1436.0,371.8 1437.0,373.5 1438.0,372.3 1439.0,372.1 1440.0,374.1 1441.0,373.0 1442.0,372.4 1443.0,376.5 1444.0,374.4 1445.0,375.2 1446.0,376.0 1447.0,373.0 1448.0,375.5 1449.0,374.9 1450.0,373.6 1451.0,373.9 1452.0,371.6 1453.0,368.8 1454.0,371.3 1455.0,369.8 1456.0,372.0 1457.0,370.7 1457.5,369.2 1458.0,369.9 1459.0,371.5 1460.0,370.6 1461.0,368.9 1462.0,368.5 1463.0,366.9 1464.0,366.6 1465.0,367.2 1466.0,365.7 1467.0,366.0 1468.0,363.5 1469.0,362.4 1470.0,362.3 1471.0,364.4 1472.0,367.3 1473.0,367.2 1474.0,363.9 1475.0,363.3 1476.0,367.3 1477.0,367.1 1478.0,364.6 1479.0,368.8 1480.0,367.8 1481.0,370.1 1482.0,369.0 1483.0,370.4 1484.0,370.0 1485.0,368.5 1486.0,370.3 1487.0,370.6 1488.0,373.9 1489.0,372.4 1490.0,372.9 1491.0,377.6 1492.0,379.6 1493.0,381.3 1494.0,382.0 1495.0,379.0 1496.0,381.1 1497.0,382.2 1498.0,383.9 1499.0,381.5 1500.0,385.6 1501.0,386.9 1502.0,385.7 1503.0,388.1 1504.0,390.4 1505.0,389.1 1506.0,391.2 1507.0,391.5 1507.5,390.7 1508.0,390.7 1509.0,389.8 1510.0,392.5 1511.0,390.0 1512.0,389.8 1513.0,392.2 1514.0,390.1 1515.0,392.0 1516.0,393.1 1517.0,391.7 1518.0,391.9 1519.0,393.3 1520.0,393.1 1521.0,389.6 1522.0,390.0 1523.0,394.4 1524.0,393.0 1525.0,389.2 1526.0,390.5 1527.0,392.9 1528.0,391.4 1529.0,393.8 1530.0,393.4 1531.0,394.2 1532.0,391.7 1533.0,394.6 1534.0,396.9 1535.0,392.7 1536.0,396.2 1537.0,395.8 1538.0,395.4 1539.0,394.4 1540.0,392.8 1541.0,393.4 1542.0,396.2 1543.0,396.7 1544.0,397.2 1545.0,397.0 1546.0,397.0 1547.0,395.1 1548.0,394.0 1549.0,396.4 1550.0,397.1 1551.0,396.6 1552.0,394.3 1553.0,396.1 1554.0,394.8 1555.0,397.5 1556.0,395.9 1557.0,397.5 1558.0,398.5 1559.0,398.5 1560.0,400.6 1561.0,396.9 1562.0,395.5 1563.0,400.6 1564.0,401.6 1565.0,401.8 1566.0,400.2 1567.0,400.8 1568.0,400.3 1569.0,398.3 1570.0,399.6 1571.0,401.5 1572.0,400.0 1573.0,404.2 1574.0,398.9 1575.0,400.9 1576.0,403.5 1577.0,401.0 1578.0,400.3 1579.0,400.1 1580.0,401.3 1581.0,405.0 1582.0,403.5 1583.0,403.8 1584.0,402.3 1585.0,404.6 1586.0,403.6 1587.0,402.0 1588.0,402.9 1589.0,404.0 1590.0,405.7 1591.0,403.8 1592.0,404.8 1593.0,407.3 1594.0,402.8 1595.0,402.2 1596.0,405.8 1597.0,405.0 1598.0,404.2 1599.0,404.9 1600.0,404.0 1601.0,405.4 1602.0,404.1 1603.0,406.0 1604.0,402.9 1605.0,403.5 1606.0,405.1 1607.0,404.2 1608.0,406.1 1609.0,405.0 1610.0,404.3 1611.0,405.5 1612.0,404.4 1613.0,402.8 1614.0,403.5 1615.0,404.1 1616.0,404.7 1617.0,405.6 1618.0,407.0 1619.0,406.4 1620.0,408.4 1621.0,407.7 1622.0,405.4 1623.0,408.4 1624.0,407.6 1625.0,405.1 1626.0,406.3 1627.0,407.6 1628.0,406.3 1629.0,407.6 1630.0,406.6 1631.0,407.1 1632.0,405.5 1633.0,406.7 1634.0,405.5 1635.0,407.2 1636.0,403.5 1637.0,406.8 1638.0,408.3 1639.0,407.2 1640.0,406.3 1641.0,407.2 1642.0,405.0 1643.0,405.1 1644.0,405.9 1645.0,406.2 1646.0,408.0 1647.0,405.1 1648.0,408.2 1649.0,404.1 1650.0,405.3 1651.0,406.6 1652.0,408.5 1653.0,405.7 1654.0,403.3 1655.0,407.4 1656.0,406.7 1657.0,405.0 1658.0,405.1 1659.0,405.7 1660.0,407.0 1661.0,407.9 1662.0,404.5 1663.0,410.5 1664.0,406.8 1665.0,406.3 1666.0,408.0 1667.0,407.1 1668.0,410.7 1669.0,408.7 1670.0,406.4 1671.0,406.4 1672.0,406.2 1673.0,406.5 1674.0,408.1 1675.0,406.1 1676.0,409.7 1677.0,407.0 1678.0,406.9 1679.0,408.7 1680.0,404.1 1681.0,405.8 1682.0,408.2 1683.0,407.3 1684.0,407.3 1685.0,408.0 1686.0,406.5 1687.0,407.2 1688.0,405.3 1689.0,404.5 1690.0,409.6 1691.0,406.1 1692.0,406.5 1693.0,410.0 1694.0,409.5 1695.0,407.1 1696.0,407.2 1697.0,408.0 1698.0,406.7 1699.0,409.2 1700.0,408.7 1701.0,408.8 1702.0,409.9 1703.0,410.0 1704.0,412.0 1705.0,411.6 1706.0,406.7 1707.0,411.0 1708.0,407.9 1709.0,407.6 1710.0,411.2 1711.0,409.1 1712.0,409.9 1713.0,412.3 1714.0,409.7 1715.0,409.6 1716.0,411.7 1717.0,413.3 1718.0,412.4 1719.0,409.3 1720.0,410.9 1721.0,411.8 1722.0,415.3 1723.0,413.8 1724.0,414.0 1725.0,414.7 1726.0,412.4 1727.0,413.9 1728.0,414.0 1729.0,411.8 1730.0,413.5 1731.0,414.6 1732.0,412.1 1733.0,415.2 1734.0,415.3 1735.0,415.8 1736.0,413.0 1737.0,414.5 1738.0,416.7 1739.0,415.8 1740.0,413.3 1741.0,415.0 1742.0,416.9 1743.0,414.6 1744.0,415.4 1745.0,418.9 1746.0,414.8 1747.0,414.7 1748.0,413.4 1749.0,414.0 1750.0,417.4 1751.0,414.9 1752.0,413.2 1753.0,413.7 1754.0,415.2 1755.0,416.5 1756.0,414.1 1757.0,416.5 1758.0,414.6 1759.0,416.0 1760.0,416.3 1761.0,416.4 1762.0,414.8 1763.0,415.2 1764.0,416.4 1765.0,413.5 1766.0,415.9 1767.0,416.5 1768.0,417.3 1769.0,415.6 1770.0,415.4 1771.0,416.0 1772.0,414.6 1773.0,415.5 1774.0,416.5 1775.0,416.3 1776.0,414.2 1777.0,415.4 1778.0,412.5 1779.0,417.2 1780.0,415.1 1781.0,416.4 1782.0,414.3 1783.0,415.9 1784.0,416.8 1785.0,417.7 1786.0,413.9 1787.0,417.5 1788.0,415.9 1789.0,415.0 1790.0,417.0 1791.0,415.8 1792.0,415.8 1793.0,415.2 1794.0,416.7 1795.0,416.4 1796.0,416.1 1797.0,414.9 1798.0,415.7 1799.0,417.1 1800.0,418.6 1801.0,416.5 1802.0,418.9 1803.0,416.6 1804.0,414.9 1805.0,417.7 1806.0,415.2 1807.0,417.4 1808.0,418.5 1809.0,416.3 1810.0,416.7 1811.0,420.8 1812.0,417.3 1813.0,417.4 1814.0,418.2 1815.0,416.9 1816.0,416.9 1817.0,417.7 1818.0,413.3 1819.0,419.4 1820.0,415.5 1821.0,415.5 1822.0,418.1 1823.0,417.3 1824.0,415.3 1825.0,417.6 1826.0,415.5 1827.0,416.2 1828.0,415.0 1829.0,416.1 1830.0,418.0 1831.0,417.6 1832.0,417.9 1833.0,418.9 1834.0,417.4 1835.0,416.4 1836.0,417.0 1837.0,420.1 1838.0,417.5 1839.0,418.0 1840.0,417.3 1841.0,417.9 1842.0,418.2 1843.0,417.4 1844.0,417.2 1845.0,416.2 1846.0,416.1 1847.0,418.1 1848.0,418.6 1849.0,418.8 1850.0,417.4 1851.0,416.0 1852.0,418.3 1853.0,418.2 1854.0,414.8 1855.0,418.5 1856.0,418.1 1857.0,419.8 1858.0,415.3 1859.0,415.0 1860.0,418.3 1861.0,414.1 1862.0,415.8 1863.0,415.2 1864.0,415.3 1865.0,413.8 1866.0,416.4 1867.0,418.3 1868.0,417.4 1869.0,417.4 1870.0,416.1 1871.0,418.9 1872.0,417.4 1873.0,418.2 1874.0,414.1 1875.0,417.1 1876.0,414.7 1877.0,417.0 1878.0,416.7 1879.0,414.6 1880.0,416.6 1881.0,418.2 1882.0,417.1 1883.0,417.3 1884.0,414.9 1885.0,415.2 1886.0,414.5 1887.0,416.5 1888.0,418.1 1889.0,416.9 1890.0,416.2 1891.0,414.5 1892.0,417.0 1893.0,415.9 1894.0,413.3 1895.0,413.6 1896.0,415.8 1897.0,415.0 1898.0,419.1 1899.0,416.6 1900.0,414.9 1901.0,415.9 1902.0,419.2 1903.0,415.3 1904.0,418.1 1905.0,417.6 1906.0,419.4 1907.0,418.0 1908.0,416.6 1909.0,418.1 1910.0,417.5 1911.0,419.0 1912.0,417.5 1913.0,420.8 1914.0,417.6 1915.0,418.6 1916.0,417.0 1917.0,418.3 1918.0,418.3 1919.0,418.6 1920.0,419.9 1921.0,417.7 1922.0,417.3 1923.0,420.5 1924.0,418.4 1925.0,417.9 1926.0,420.9 1927.0,420.4 1928.0,415.0 1929.0,418.7 1930.0,420.6 1931.0,420.8 1932.0,418.7 1933.0,422.1 1934.0,418.4 1935.0,419.4 1936.0,420.0 1937.0,419.9 1938.0,421.2 1939.0,421.6 1940.0,420.0 1941.0,422.3 1942.0,419.0 1943.0,419.8 1944.0,422.9 1945.0,420.4 1946.0,421.9 1947.0,419.6 1948.0,419.9 1949.0,420.2 1950.0,420.6 1951.0,419.9 1952.0,420.5 1953.0,421.5 1954.0,422.4 1955.0,420.7 1956.0,421.6 1957.0,422.0 1958.0,418.9 1959.0,418.1 1960.0,423.2 1961.0,422.8 1962.0,420.8 1963.0,421.3 1964.0,419.2 1965.0,418.6 1966.0,421.3 1967.0,418.4 1968.0,422.3 1969.0,419.8 1970.0,421.3 1971.0,424.0 1972.0,423.9 1973.0,420.5 1974.0,422.6 1975.0,419.3 1976.0,420.1 1977.0,421.6 1978.0,423.2 1979.0,420.1 1980.0,421.9 1981.0,421.3 1982.0,419.1 1983.0,420.9 1984.0,423.5 1985.0,421.0 1986.0,422.0 1987.0,422.5 1988.0,420.1 1989.0,423.2 1990.0,423.7 1991.0,423.9 1992.0,423.4 1993.0,420.6 1994.0,420.5 1995.0,420.2 1996.0,420.0 1997.0,420.2 1998.0,423.1 1999.0,423.9 2000.0,420.6 2001.0,422.9 2002.0,419.6 2003.0,421.2 2004.0,420.1 2005.0,419.1 2006.0,421.9 2007.0,421.9 2008.0,421.2 2009.0,421.0 2010.0,420.3 2011.0,421.7 2012.0,421.0 2013.0,422.4 2014.0,420.1 2015.0,422.4 2016.0,422.9 2017.0,424.1 2018.0,423.8 2019.0,422.5 2020.0,421.1 2021.0,419.3 2022.0,422.2 2023.0,424.5 2024.0,424.9 2025.0,418.3 2026.0,421.1 2027.0,421.8 2028.0,420.7 2029.0,422.7 2030.0,422.5 2031.0,421.6 2032.0,422.4 2033.0,419.9 2034.0,420.9 2035.0,421.1 2036.0,423.9 2037.0,419.9 2038.0,422.2 2039.0,423.8 2040.0,422.4 2041.0,423.8 2042.0,421.5 2043.0,423.2 2044.0,424.0 2045.0,426.1 2046.0,423.7 2047.0,424.8 2048.0,422.5 2049.0,422.7 2050.0,425.0 2051.0,423.4 2052.0,424.8 2053.0,423.7 2054.0,425.9 2055.0,426.3 2056.0,421.2 2057.0,425.5 2058.0,423.2 2059.0,423.3 2060.0,422.3 2061.0,423.7 2062.0,420.8 2063.0,421.4 2064.0,421.3 2065.0,423.0 2066.0,424.0 2067.0,423.7 2068.0,423.1 2069.0,421.6 2070.0,419.7 2071.0,423.2 2072.0,422.8 2073.0,423.1 2074.0,424.8 2075.0,422.3 2076.0,422.2 2077.0,418.8 2078.0,423.4 2079.0,422.5 2080.0,421.4 2081.0,423.2 2082.0,420.9 2083.0,421.7 2084.0,425.7 2085.0,423.7 2086.0,424.0 2087.0,423.6 2088.0,423.3 2089.0,422.7 2090.0,424.4 2091.0,422.5 2092.0,422.8"/>
<polyline class="c" stroke="#ff00ff" points="459.0,248.8 460.0,248.6 461.0,248.7 462.0,247.6 463.0,250.2 464.0,249.9 465.0,248.8 466.0,249.8 467.0,249.4 468.0,248.7 469.0,250.1 470.0,249.0 471.0,249.0 472.0,248.6 473.0,249.7 474.0,249.3 475.0,249.9 476.0,248.9 477.0,249.5 478.0,248.7 479.0,250.2 480.0,249.6 481.0,249.8 482.0,249.8 483.0,248.6 484.0,250.2 485.0,251.3 486.0,248.1 487.0,248.0 488.0,248.2 489.0,250.2 490.0,249.6 491.0,250.4 492.0,250.1 493.0,249.7 494.0,249.7 495.0,249.3 496.0,250.2 497.0,248.4 498.0,249.0 499.0,249.5 500.0,250.8 501.0,248.5 502.0,248.2 503.0,248.6 504.0,249.9 505.0,248.7 506.0,250.1 507.0,247.1 508.0,249.8 509.0,249.6 510.0,247.3 511.0,248.7 512.0,249.6 513.0,248.5 514.0,249.3 515.0,250.5 516.0,248.4 517.0,247.8 518.0,247.2 519.0,248.5 520.0,247.6 521.0,247.5 522.0,247.5 523.0,248.1 524.0,246.3 525.0,245.7 526.0,244.6 527.0,248.2 528.0,246.9 529.0,248.3 530.0,246.5 531.0,245.6 532.0,246.8 533.0,246.0 534.0,244.6 535.0,244.8 536.0,247.6 537.0,245.9 538.0,245.8 539.0,244.9 540.0,244.2 541.0,245.8 542.0,244.6 543.0,243.6 544.0,244.2 545.0,243.1 546.0,244.2 547.0,245.1 548.0,242.6 549.0,245.0 550.0,242.4 551.0,243.2 552.0,241.8 553.0,242.3 554.0,242.4 555.0,241.6 556.0,241.1 557.0,240.9 558.0,240.5 559.0,239.4 560.0,240.7 561.0,241.3 562.0,241.8 563.0,241.2 564.0,243.3 565.0,240.4 566.0,239.2 567.0,242.0 568.0,238.0 569.0,240.4 570.0,237.7 571.0,239.2 572.0,236.0 573.0,239.5 574.0,237.9 575.0,236.6 576.0,239.9 577.0,238.5 578.0,237.3 579.0,236.0 580.0,236.7 581.0,236.3 582.0,237.3 583.0,237.2 584.0,235.0 585.0,234.9 586.0,234.7 587.0,233.3 588.0,234.1 589.0,234.6 590.0,235.5 591.0,236.1 592.0,232.9 593.0,234.6 594.0,232.9 595.0,236.2 596.0,233.0 597.0,233.5 598.0,231.2 599.0,231.1 600.0,232.3 601.0,231.2 602.0,232.0 603.0,228.9 604.0,231.9 605.0,229.3 606.0,233.0 607.0,229.7 608.0,231.5 609.0,227.5 610.0,230.0 611.0,227.7 612.0,228.1 613.0,228.6 614.0,227.8 615.0,228.4 616.0,228.9 617.0,228.5 618.0,227.1 619.0,224.8 620.0,225.4 621.0,226.1 622.0,222.8 623.0,227.0 624.0,225.2 625.0,224.9 626.0,226.5 627.0,225.8 628.0,224.8 629.0,222.6 630.0,224.4 631.0,224.2 632.0,222.0 633.0,224.8 634.0,223.6 635.0,219.5 636.0,222.5 637.0,220.0 638.0,223.6 639.0,222.8 640.0,219.5 641.0,219.6 642.0,220.9 643.0,220.1 644.0,222.6 645.0,221.2 646.0,219.3 647.0,220.4 648.0,216.0 649.0,219.5 650.0,220.1 651.0,218.2 652.0,217.1 653.0,218.9 654.0,220.9 655.0,217.9 656.0,215.5 657.0,219.3 658.0,213.8 659.0,217.3 660.0,215.4 661.0,217.5 662.0,214.4 663.0,217.6 664.0,215.7 665.0,212.3 666.0,211.6 667.0,214.0 668.0,216.2 669.0,214.1 670.0,213.7 671.0,213.0 672.0,214.2 673.0,213.4 674.0,212.9 675.0,210.6 676.0,213.8 677.0,213.7 678.0,209.2 679.0,214.6 680.0,211.9 681.0,209.7 682.0,207.1 683.0,210.9 684.0,210.5 685.0,208.4 686.0,206.2 687.0,210.5 688.0,207.6 689.0,207.5 690.0,212.5 691.0,211.1 692.0,209.0 693.0,206.5 694.0,208.0 695.0,203.2 696.0,206.7 697.0,205.1 698.0,204.0 699.0,203.3 700.0,206.4 701.0,205.5 702.0,205.4 703.0,206.3 704.0,203.4 705.0,202.5 706.0,201.5 707.0,203.5 708.0,205.1 709.0,203.4 710.0,204.5 711.0,201.4 712.0,202.3 713.0,201.7 714.0,200.7 715.0,205.4 716.0,203.7 717.0,200.9 718.0,200.7 719.0,201.6 720.0,199.3 721.0,202.0 722.0,199.1 723.0,200.3 724.0,199.1 725.0,199.8 726.0,198.2 727.0,197.7 728.0,198.4 729.0,198.7 730.0,199.2 731.0,199.6 732.0,201.8 733.0,200.5 734.0,198.7 735.0,200.2 736.0,197.8 737.0,201.2 738.0,199.7 739.0,196.6 740.0,200.0 741.0,200.1 742.0,194.5 743.0,197.6 744.0,198.0 745.0,195.7 746.0,197.0 747.0,197.2 748.0,199.6 749.0,199.2 750.0,203.0 751.0,198.1 752.0,200.6 753.0,198.9 754.0,199.2 755.0,196.9 756.0,195.7 757.0,197.5 758.0,200.0 759.0,201.3 760.0,199.7 761.0,199.5 762.0,197.4 763.0,201.2 764.0,200.9 765.0,197.9 766.0,198.7 767.0,197.2 768.0,201.1 769.0,199.5 770.0,198.7 771.0,199.5 772.0,199.6 773.0,198.3 774.0,197.1 775.0,197.1 776.0,196.4 777.0,200.0 778.0,202.8 779.0,196.7 780.0,199.7 781.0,200.2 782.0,198.0 783.0,200.0 784.0,197.9 785.0,201.7 786.0,198.9 787.0,200.0 788.0,201.0 789.0,199.3 790.0,197.1 791.0,199.2 792.0,201.3 793.0,200.0 794.0,200.5 795.0,198.4 796.0,200.4 797.0,201.4 798.0,200.3 799.0,203.4 800.0,200.0 801.0,198.7 802.0,197.8 803.0,202.3 804.0,200.4 805.0,202.1 806.0,201.3 807.0,203.2 808.0,202.6 809.0,200.1 810.0,201.1 811.0,202.5 812.0,198.8 813.0,203.1 814.0,202.7 815.0,202.4 816.0,200.5 817.0,201.4 818.0,199.1 819.0,201.0 820.0,200.0 821.0,201.1 822.0,200.2 823.0,201.5 824.0,203.0 825.0,199.0 826.0,202.6 827.0,197.9 828.0,197.7 829.0,201.0 830.0,201.2 831.0,201.9 832.0,198.6 833.0,201.1 834.0,201.4 835.0,203.2 836.0,201.1 837.0,202.1 838.0,199.7 839.0,200.9 840.0,200.5 841.0,202.4 842.0,199.7 843.0,199.9 844.0,202.1 845.0,204.1 846.0,201.8 847.0,201.7 848.0,200.6 849.0,202.9 850.0,202.0 851.0,203.9 852.0,201.6 853.0,199.5 854.0,200.1 855.0,199.4 856.0,198.9 857.0,202.9 858.0,202.1 859.0,198.8 860.0,203.6 861.0,201.1 862.0,199.1 863.0,201.2 864.0,200.4 865.0,199.3 866.0,197.3 867.0,200.4 868.0,200.8 869.0,196.1 870.0,201.1 871.0,201.1 872.0,199.3 873.0,200.2 874.0,199.5 875.0,198.5 876.0,199.2 877.0,201.9 878.0,197.4 879.0,200.0 880.0,199.8 881.0,198.3 882.0,198.7 883.0,197.1 884.0,197.9 885.0,199.2 886.0,199.6 887.0,197.6 888.0,203.8 889.0,197.9 890.0,199.0 891.0,198.3 892.0,197.9 893.0,200.5 894.0,197.6 895.0,200.4 896.0,199.9 897.0,196.3 898.0,199.5 899.0,196.7 900.0,201.9 901.0,196.8 902.0,195.7 903.0,194.0 904.0,194.8 905.0,195.8 906.0,195.0 907.0,194.4 908.0,195.1 909.0,195.7 910.0,198.1 911.0,193.0 912.0,194.6 913.0,193.8 914.0,192.8 915.0,193.0 916.0,193.4 917.0,195.8 918.0,194.2 919.0,193.5 920.0,195.1 921.0,194.4 922.0,193.4 923.0,194.2 924.0,192.1 925.0,194.2 926.0,193.8 927.0,192.2 928.0,190.8 929.0,194.9 930.0,192.5 931.0,197.0 932.0,190.9 933.0,193.1 934.0,190.9 935.0,191.8 936.0,192.5 937.0,189.8 938.0,190.7 939.0,190.9 940.0,190.7 941.0,191.3 942.0,191.8 943.0,191.3 944.0,190.2 945.0,189.1 946.0,187.7 947.0,188.2 948.0,188.3 949.0,190.1 950.0,188.3 951.0,186.7 952.0,189.5 953.0,187.1 954.0,187.0 955.0,187.7 956.0,188.6 957.0,183.9 958.0,185.7 959.0,187.6 960.0,186.6 961.0,185.6 962.0,186.0 963.0,188.8 964.0,185.7 965.0,187.4 966.0,187.3 967.0,185.1 968.0,186.3 969.0,184.7 970.0,184.2 971.0,183.2 972.0,186.1 973.0,183.9 974.0,183.4 975.0,182.3 976.0,186.7 977.0,184.8 978.0,183.2 979.0,182.0 980.0,180.5 981.0,183.1 982.0,182.9 983.0,179.9 984.0,183.8 985.0,182.9 986.0,179.9 987.0,180.3 988.0,180.3 989.0,181.0 990.0,180.3 991.0,177.7 992.0,182.4 993.0,180.3 994.0,181.6 995.0,181.4 996.0,178.9 997.0,179.6 998.0,180.0 999.0,179.8 1000.0,178.2 1001.0,177.2 1002.0,178.1 1003.0,176.5 1004.0,176.7 1005.0,174.2 1006.0,177.3 1007.0,175.3 1008.0,175.8 1009.0,176.3 1010.0,176.7 1011.0,178.9 1012.0,175.9 1013.0,173.1 1014.0,175.2 1015.0,173.7 1016.0,174.9 1017.0,172.7 1018.0,172.2 1019.0,172.0 1020.0,171.3 1021.0,169.0 1022.0,170.3 1023.0,170.8 1024.0,172.3 1025.0,169.5 1026.0,169.0 1027.0,170.2 1028.0,169.8 1029.0,171.1 1030.0,169.2 1031.0,167.9 1032.0,169.7 1033.0,169.7 1034.0,166.2 1035.0,166.9 1036.0,163.7 1037.0,165.5 1038.0,164.4 1039.0,165.2 1040.0,164.5 1041.0,164.7 1042.0,164.5 1043.0,165.2 1044.0,164.5 1045.0,163.0 1046.0,161.5 1047.0,165.3 1048.0,165.3 1049.0,162.1 1050.0,163.4 1051.0,159.8 1052.0,159.5 1053.0,161.3 1054.0,163.7 1055.0,159.5 1056.0,159.6 1057.0,163.2 1058.0,157.4 1059.0,161.1 1060.0,160.6 1061.0,159.3 1062.0,159.6 1063.0,163.2 1064.0,157.1 1065.0,158.1 1066.0,158.0 1067.0,157.0 1068.0,155.7 1069.0,160.1 1070.0,157.7 1071.0,154.4 1072.0,155.8 1073.0,157.3 1074.0,157.1 1075.0,154.0 1076.0,155.9 1077.0,156.2 1078.0,156.2 1079.0,155.9 1080.0,152.2 1081.0,157.8 1082.0,154.9 1083.0,157.2 1084.0,158.6 1085.0,153.6 1086.0,151.7 1087.0,154.8 1088.0,152.9 1089.0,152.3 1090.0,151.1 1091.0,155.2 1092.0,151.7 1093.0,150.0 1094.0,151.3 1095.0,150.0 1096.0,152.0 1097.0,150.9 1098.0,149.8 1099.0,152.3 1100.0,150.2 1101.0,152.3 1102.0,153.1 1103.0,150.4 1104.0,149.9 1105.0,151.2 1106.0,152.2 1107.0,150.8 1108.0,150.9 1109.0,150.6 1110.0,151.1 1111.0,151.5 1112.0,149.4 1113.0,149.7 1114.0,150.5 1115.0,149.3 1116.0,150.5 1117.0,151.1 1118.0,150.2 1119.0,149.2 1120.0,148.9 1121.0,152.9 1122.0,151.5 1123.0,148.3 1124.0,148.7 1125.0,153.0 1126.0,152.4 1127.0,150.1 1128.0,151.8 1129.0,147.5 1130.0,149.9 1131.0,151.0 1132.0,146.8 1133.0,148.5 1134.0,151.0 1135.0,151.5 1136.0,148.7 1137.0,150.1 1138.0,152.2 1139.0,149.0 1140.0,147.5 1141.0,149.5 1142.0,148.9 1143.0,151.6 1144.0,149.8 1145.0,148.2 1146.0,153.4 1147.0,148.7 1148.0,150.3 1149.0,150.6 1150.0,150.8 1151.0,149.8 1152.0,150.5 1153.0,149.4 1154.0,147.3 1155.0,149.2 1156.0,149.3 1157.0,149.4 1158.0,150.0 1159.0,148.8 1160.0,152.0 1161.0,152.4 1162.0,146.5 1163.0,150.1 1164.0,149.0 1165.0,146.1 1166.0,151.0 1167.0,149.5 1168.0,149.9 1169.0,149.6 1170.0,152.5 1171.0,152.8 1172.0,151.4 1173.0,152.1 1174.0,151.0 1175.0,151.5 1176.0,150.2 1177.0,151.5 1178.0,150.5 1179.0,152.4 1180.0,153.3 1181.0,152.6 1182.0,154.2 1183.0,156.8 1184.0,149.4 1185.0,153.0 1186.0,152.3 1187.0,152.7 1188.0,151.5 1189.0,154.0 1190.0,153.7 1191.0,153.4 1192.0,154.2 1193.0,153.9 1194.0,151.3 1195.0,157.0 1196.0,155.0 1197.0,154.2 1198.0,156.4 1199.0,155.0 1200.0,152.8 1201.0,157.8 1202.0,153.9 1203.0,156.4 1204.0,157.1 1205.0,159.2 1206.0,159.1 1207.0,157.6 1208.0,156.3 1209.0,157.0 1210.0,159.5 1211.0,160.8 1212.0,158.9 1213.0,157.2 1214.0,160.0 1215.0,157.9 1216.0,158.0 1217.0,158.3 1218.0,159.8 1219.0,159.5 1220.0,160.8 1221.0,161.4 1222.0,160.3 1223.0,156.0 1224.0,157.1 1225.0,160.3 1226.0,160.1 1227.0,163.8 1228.0,160.5 1229.0,160.5 1230.0,162.4 1231.0,162.8 1232.0,160.9 1233.0,162.2 1234.0,159.9 1235.0,160.3 1236.0,164.0 1237.0,160.0 1238.0,163.9 1239.0,163.7 1240.0,164.1 1241.0,164.5 1242.0,164.2 1243.0,160.1 1244.0,162.1 1245.0,163.0 1246.0,165.6 1247.0,162.6 1248.0,163.4 1249.0,164.2 1250.0,167.1 1251.0,162.9 1252.0,163.3 1253.0,166.7 1254.0,162.6 1255.0,166.7 1256.0,165.7 1257.0,164.2 1258.0,166.3 1259.0,165.6 1260.0,167.7 1261.0,168.3 1262.0,170.3 1263.0,168.2 1264.0,168.7 1265.0,167.9 1266.0,169.0 1267.0,171.0 1268.0,166.5 1269.0,170.9 1270.0,169.2 1271.0,170.4 1272.0,171.1 1273.0,172.1 1274.0,171.4 1275.0,170.6 1276.0,172.0 1277.0,171.7 1278.0,171.6 1279.0,172.4 1280.0,173.7 1281.0,172.7 1282.0,173.0 1283.0,170.9 1284.0,172.9 1285.0,170.4 1286.0,174.7 1287.0,172.2 1288.0,176.0 1289.0,178.9 1290.0,173.7 1291.0,176.6 1292.0,175.3 1293.0,174.0 1294.0,173.7 1295.0,176.2 1296.0,177.7 1297.0,176.2 1298.0,173.5 1299.0,174.4 1300.0,175.9 1301.0,178.6 1302.0,177.1 1303.0,177.4 1304.0,179.0 1305.0,176.9 1306.0,177.3 1307.0,177.4 1308.0,175.0 1309.0,178.8 1310.0,178.9 1311.0,180.0 1312.0,176.8 1313.0,177.6 1314.0,180.5 1315.0,179.8 1316.0,181.6 1317.0,178.3 1318.0,180.2 1319.0,179.0 1320.0,180.7 1321.0,179.7 1322.0,181.5 1323.0,182.6 1324.0,182.1 1325.0,178.4 1326.0,182.9 1327.0,182.4 1328.0,180.2 1329.0,180.7 1330.0,182.3 1331.0,183.4 1332.0,182.0 1333.0,180.4 1334.0,183.6 1335.0,183.7 1336.0,187.5 1337.0,181.8 1338.0,188.1 1339.0,187.0 1340.0,185.0 1341.0,187.3 1342.0,185.0 1343.0,186.6 1344.0,184.1 1345.0,185.6 1346.0,184.0 1347.0,183.3 1348.0,185.5 1349.0,185.1 1350.0,187.2 1351.0,188.4 1352.0,186.2 1353.0,186.7 1354.0,187.0 1355.0,184.2 1356.0,187.4 1357.0,187.0 1358.0,187.0 1359.0,185.5 1360.0,184.1 1361.0,187.0 1362.0,188.0 1363.0,189.7 1364.0,189.4 1365.0,190.0 1366.0,188.4 1367.0,189.7 1368.0,187.6 1369.0,189.1 1370.0,189.7 1371.0,192.6 1372.0,188.8 1373.0,186.5 1374.0,190.8 1375.0,187.5 1376.0,188.8 1377.0,188.6 1378.0,187.8 1379.0,191.5 1380.0,190.5 1381.0,188.8 1382.0,190.1 1383.0,189.5 1384.0,191.4 1385.0,190.1 1386.0,189.7 1387.0,190.1 1388.0,190.7 1389.0,192.1 1390.0,190.4 1391.0,191.9 1392.0,193.0 1393.0,196.2 1394.0,194.1 1395.0,188.2 1396.0,192.3 1397.0,192.7 1398.0,194.0 1399.0,196.1 1400.0,194.9 1401.0,190.2 1402.0,194.5 1403.0,194.3 1404.0,194.9 1405.0,196.5 1406.0,192.7 1407.0,196.3 1408.0,192.0 1409.0,194.8 1410.0,195.4 1411.0,198.5 1412.0,193.9 1413.0,192.4 1414.0,196.3 1415.0,194.2 1416.0,197.8 1417.0,194.3 1418.0,194.1 1419.0,197.6 1420.0,195.8 1421.0,197.4 1422.0,193.6 1423.0,198.6 1424.0,195.2 1425.0,197.6 1426.0,194.8 1427.0,194.0 1428.0,196.2 1429.0,197.1 1430.0,199.4 1431.0,197.6 1432.0,198.4 1433.0,198.4 1434.0,202.5 1435.0,196.4 1436.0,199.8 1437.0,197.8 1438.0,198.6 1439.0,197.5 1440.0,200.3 1441.0,196.7 1442.0,196.7 1443.0,198.6 1444.0,197.3 1445.0,200.4 1446.0,200.9 1447.0,198.4 1448.0,201.0 1449.0,198.8 1450.0,199.9 1451.0,200.1 1452.0,203.2 1453.0,200.4 1454.0,199.1 1455.0,199.2 1456.0,202.7 1457.0,198.3 1458.0,200.3 1459.0,200.6 1460.0,197.4 1461.0,200.7 1462.0,203.1 1463.0,202.0 1464.0,200.4 1465.0,203.0 1466.0,202.9 1467.0,205.4 1468.0,201.1 1469.0,201.8 1470.0,202.6 1471.0,202.4 1472.0,202.8 1473.0,202.6 1474.0,201.8 1475.0,200.4 1476.0,202.2 1477.0,201.0 1478.0,201.6 1479.0,202.5 1480.0,204.2 1481.0,204.9 1482.0,201.9 1483.0,204.1 1484.0,205.0 1485.0,203.7 1486.0,201.2 1487.0,200.5 1488.0,205.2 1489.0,205.5 1490.0,204.6 1491.0,202.5 1492.0,206.6 1493.0,206.3 1494.0,204.3 1495.0,204.1 1496.0,201.5 1497.0,205.9 1498.0,202.2 1499.0,205.9 1500.0,206.1 1501.0,205.2 1502.0,207.7 1503.0,204.8 1504.0,206.4 1505.0,206.9 1506.0,206.1 1507.0,205.2 1508.0,208.0 1509.0,206.9 1510.0,206.1 1511.0,206.3 1512.0,206.9 1513.0,210.5 1514.0,207.2 1515.0,206.8 1516.0,205.7 1517.0,205.6 1518.0,204.7 1519.0,208.2 1520.0,208.1 1521.0,206.5 1522.0,206.0 1523.0,207.9 1524.0,207.7 1525.0,206.6 1526.0,209.3 1527.0,209.2 1528.0,209.0 1529.0,210.4 1530.0,208.2 1531.0,211.5 1532.0,207.9 1533.0,210.4 1534.0,210.7 1535.0,209.4 1536.0,210.4 1537.0,207.9 1538.0,207.7 1539.0,209.8 1540.0,209.1 1541.0,211.3 1542.0,210.5 1543.0,211.5 1544.0,211.1 1545.0,211.0 1546.0,211.0 1547.0,210.3 1548.0,210.3 1549.0,214.3 1550.0,208.4 1551.0,211.0 1552.0,213.0 1553.0,212.2 1554.0,213.8 1555.0,212.6 1556.0,209.8 1557.0,211.4 1558.0,209.7 1559.0,213.6 1560.0,214.5 1561.0,211.6 1562.0,213.2 1563.0,211.8 1564.0,210.3 1565.0,211.9 1566.0,210.2 1567.0,211.9 1568.0,213.3 1569.0,214.2 1570.0,215.2 1571.0,212.7 1572.0,213.7 1573.0,214.1 1574.0,214.4 1575.0,209.1 1576.0,212.4 1577.0,215.0 1578.0,212.1 1579.0,214.4 1580.0,215.4 1581.0,211.1 1582.0,213.9 1583.0,214.7 1584.0,214.4 1585.0,212.1 1586.0,215.1 1587.0,213.8 1588.0,216.1 1589.0,215.5 1590.0,214.0 1591.0,215.3 1592.0,214.0 1593.0,214.0 1594.0,212.7 1595.0,214.9 1596.0,216.7 1597.0,215.6 1598.0,215.5 1599.0,214.6 1600.0,214.8 1601.0,216.9 1602.0,213.4 1603.0,219.2 1604.0,215.8 1605.0,219.5 1606.0,218.0 1607.0,215.5 1608.0,217.4 1609.0,216.7 1610.0,217.1 1611.0,217.7 1612.0,215.6 1613.0,215.6 1614.0,216.0 1615.0,214.5 1616.0,216.3 1617.0,217.2 1618.0,217.3 1619.0,217.3 1620.0,216.4 1621.0,218.4 1622.0,213.9 1623.0,216.6 1624.0,216.8 1625.0,218.8 1626.0,218.5 1627.0,218.8 1628.0,217.6 1629.0,219.2 1630.0,216.1 1631.0,217.9 1632.0,214.5 1633.0,220.7 1634.0,220.6 1635.0,217.1 1636.0,216.8 1637.0,214.9 1638.0,215.9 1639.0,218.6 1640.0,218.3 1641.0,216.2 1642.0,217.9 1643.0,217.7 1644.0,219.6 1645.0,220.1 1646.0,218.7 1647.0,219.3 1648.0,219.2 1649.0,216.0 1650.0,219.7 1651.0,219.5 1652.0,220.9 1653.0,216.8 1654.0,221.1 1655.0,219.0 1656.0,220.5 1657.0,222.1 1658.0,218.0 1659.0,218.3 1660.0,222.1 1661.0,218.8 1662.0,219.2 1663.0,221.8 1664.0,220.6 1665.0,222.3 1666.0,221.7 1667.0,221.2 1668.0,223.0 1669.0,225.0 1670.0,221.5 1671.0,224.1 1672.0,223.6 1673.0,222.1 1674.0,222.8 1675.0,220.6 1676.0,221.3 1677.0,222.8 1678.0,222.4 1679.0,224.6 1680.0,220.6 1681.0,222.3 1682.0,221.8 1683.0,222.7 1684.0,224.9 1685.0,221.2 1686.0,224.6 1687.0,222.3 1688.0,222.9 1689.0,225.0 1690.0,223.1 1691.0,224.7 1692.0,223.9 1693.0,223.5 1694.0,223.3 1695.0,221.2 1696.0,222.8 1697.0,224.4 1698.0,224.5 1699.0,221.9 1700.0,225.9 1701.0,225.3 1702.0,222.4 1703.0,222.9 1704.0,225.4 1705.0,221.9 1706.0,223.6 1707.0,224.8 1708.0,224.7 1709.0,224.9 1710.0,225.7 1711.0,223.9 1712.0,224.4 1713.0,228.5 1714.0,223.1 1715.0,224.7 1716.0,225.6 1717.0,224.5 1718.0,227.6 1719.0,225.8 1720.0,226.9 1721.0,221.6 1722.0,227.8 1723.0,227.8 1724.0,224.8 1725.0,228.1 1726.0,226.5 1727.0,227.6 1728.0,229.1 1729.0,226.4 1730.0,224.7 1731.0,226.4 1732.0,224.4 1733.0,225.2 1734.0,225.3 1735.0,225.5 1736.0,228.5 1737.0,228.0 1738.0,225.3 1739.0,228.6 1740.0,224.2 1741.0,225.9 1742.0,226.7 1743.0,228.9 1744.0,228.2 1745.0,227.8 1746.0,229.2 1747.0,228.3 1748.0,229.4 1749.0,226.0 1750.0,224.6 1751.0,226.7 1752.0,228.7 1753.0,227.8 1754.0,228.9 1755.0,228.6 1756.0,228.3 1757.0,228.9 1758.0,226.4 1759.0,229.4 1760.0,226.0 1761.0,227.5 1762.0,225.4 1763.0,228.5 1764.0,225.3 1765.0,230.0 1766.0,225.7 1767.0,228.3 1768.0,227.7 1769.0,226.5 1770.0,230.0 1771.0,227.3 1772.0,230.4 1773.0,226.4 1774.0,226.8 1775.0,224.9 1776.0,229.0 1777.0,229.6 1778.0,228.6 1779.0,228.0 1780.0,226.8 1781.0,232.1 1782.0,229.5 1783.0,225.4 1784.0,227.9 1785.0,224.3 1786.0,231.0 1787.0,231.7 1788.0,230.9 1789.0,228.5 1790.0,227.7 1791.0,226.5 1792.0,229.6 1793.0,227.6 1794.0,228.2 1795.0,227.9 1796.0,228.4 1797.0,230.4 1798.0,231.7 1799.0,229.3 1800.0,229.2 1801.0,227.4 1802.0,227.3 1803.0,227.6 1804.0,230.8 1805.0,229.8 1806.0,231.0 1807.0,230.2 1808.0,228.9 1809.0,227.6 1810.0,229.1 1811.0,227.5 1812.0,233.0 1813.0,230.3 1814.0,229.3 1815.0,233.2 1816.0,229.4 1817.0,231.0 1818.0,229.9 1819.0,230.8 1820.0,229.7 1821.0,231.1 1822.0,232.6 1823.0,228.4 1824.0,226.9 1825.0,232.7 1826.0,230.8 1827.0,232.0 1828.0,230.2 1829.0,233.2 1830.0,233.7 1831.0,228.9 1832.0,231.9 1833.0,229.9 1834.0,228.4 1835.0,230.5 1836.0,231.9 1837.0,228.9 1838.0,229.0 1839.0,233.1 1840.0,231.2 1841.0,231.8 1842.0,229.4 1843.0,230.2 1844.0,231.5 1845.0,231.6 1846.0,231.6 1847.0,233.9 1848.0,231.6 1849.0,228.9 1850.0,230.0 1851.0,231.4 1852.0,233.5 1853.0,230.4 1854.0,230.9 1855.0,231.5 1856.0,230.4 1857.0,230.3 1858.0,231.2 1859.0,233.3 1860.0,232.5 1861.0,231.2 1862.0,232.4 1863.0,229.7 1864.0,233.4 1865.0,233.0 1866.0,232.3 1867.0,229.2 1868.0,235.2 1869.0,227.2 1870.0,230.3 1871.0,230.5 1872.0,233.1 1873.0,229.6 1874.0,232.4 1875.0,231.8 1876.0,231.6 1877.0,233.5 1878.0,234.4 1879.0,232.8 1880.0,231.7 1881.0,228.5 1882.0,234.5 1883.0,231.7 1884.0,229.2 1885.0,232.5 1886.0,234.6 1887.0,232.0 1888.0,230.4 1889.0,235.9 1890.0,233.3 1891.0,232.9 1892.0,234.0 1893.0,228.8 1894.0,232.3 1895.0,232.1 1896.0,236.1 1897.0,231.5 1898.0,231.5 1899.0,230.2 1900.0,231.1 1901.0,232.1 1902.0,232.9 1903.0,232.2 1904.0,235.7 1905.0,233.3 1906.0,233.6 1907.0,234.8 1908.0,233.6 1909.0,231.7 1910.0,230.1 1911.0,233.2 1912.0,231.2 1913.0,234.7 1914.0,231.4 1915.0,229.0 1916.0,232.7 1917.0,234.4 1918.0,232.3 1919.0,232.9 1920.0,232.9 1921.0,235.5 1922.0,233.2 1923.0,232.6 1924.0,231.7 1925.0,230.0 1926.0,235.0 1927.0,234.6 1928.0,231.2 1929.0,233.7 1930.0,233.3 1931.0,232.1 1932.0,232.2 1933.0,234.0 1934.0,230.8 1935.0,231.9 1936.0,232.7 1937.0,232.8 1938.0,232.5 1939.0,233.2 1940.0,233.7 1941.0,231.4 1942.0,233.0 1943.0,232.0 1944.0,235.3 1945.0,230.6 1946.0,232.5 1947.0,234.1 1948.0,232.5 1949.0,232.4 1950.0,232.1 1951.0,233.5 1952.0,231.1 1953.0,232.9 1954.0,232.9 1955.0,230.7 1956.0,233.5 1957.0,232.3 1958.0,233.6 1959.0,234.5 1960.0,233.7 1961.0,231.2 1962.0,233.7 1963.0,230.6 1964.0,231.9 1965.0,235.9 1966.0,233.2 1967.0,235.8 1968.0,233.0 1969.0,233.3 1970.0,231.5 1971.0,234.8 1972.0,233.0 1973.0,234.4 1974.0,234.1 1975.0,234.3 1976.0,233.9 1977.0,233.4 1978.0,233.5 1979.0,232.4 1980.0,230.0 1981.0,234.3 1982.0,236.9 1983.0,235.3 1984.0,237.4 1985.0,234.4 1986.0,232.1 1987.0,232.1 1988.0,234.9 1989.0,234.3 1990.0,233.5 1991.0,234.9 1992.0,232.3 1993.0,234.6 1994.0,233.4 1995.0,234.1 1996.0,235.8 1997.0,233.7 1998.0,236.1 1999.0,236.1 2000.0,232.7 2001.0,237.7 2002.0,232.0 2003.0,233.9 2004.0,235.3 2005.0,230.4 2006.0,235.8 2007.0,236.0 2008.0,234.0 2009.0,234.6 2010.0,234.6 2011.0,233.9 2012.0,236.0 2013.0,233.7 2014.0,234.3 2015.0,234.9 2016.0,235.8 2017.0,236.2 2018.0,232.0 2019.0,231.2 2020.0,234.3 2021.0,234.4 2022.0,232.8 2023.0,235.1 2024.0,235.6 2025.0,235.2 2026.0,237.3 2027.0,233.0 2028.0,234.7 2029.0,237.9 2030.0,235.9 2031.0,233.0 2032.0,235.1 2033.0,236.7 2034.0,238.2 2035.0,236.0 2036.0,236.8 2037.0,233.1 2038.0,234.6 2039.0,236.9 2040.0,233.5 2041.0,234.9 2042.0,232.0 2043.0,237.5 2044.0,234.9 2045.0,236.0 2046.0,232.7 2047.0,233.0 2048.0,238.1 2049.0,234.7 2050.0,234.4 2051.0,236.1 2052.0,236.2 2053.0,232.1 2054.0,233.8 2055.0,235.4 2056.0,235.4 2057.0,236.0 2058.0,234.7 2059.0,235.0 2060.0,235.8 2061.0,234.4 2062.0,234.2 2063.0,234.7 2064.0,235.6 2065.0,235.4 2066.0,234.9 2067.0,235.2 2068.0,235.6 2069.0,236.2 2070.0,236.3 2071.0,233.7 2072.0,237.3 2073.0,233.2 2074.0,236.7 2075.0,234.7 2076.0,236.8 2077.0,237.6 2078.0,232.9 2079.0,236.9 2080.0,236.4 2081.0,235.2 2082.0,236.6 2083.0,235.2 2084.0,236.2 2085.0,234.4 2086.0,237.4 2087.0,236.9 2088.0,237.0 2089.0,235.5 2090.0,237.7 2091.0,237.4 2092.0,236.2"/>
<polyline class="c" stroke="#de9c00" points="459.0,100.6 460.0,100.7 461.0,100.5 462.0,99.7 463.0,100.7 464.0,100.4 465.0,99.7 466.0,100.4 467.0,100.2 468.0,100.1 469.0,99.8 470.0,100.1 471.0,99.1 472.0,99.4 473.0,99.1 474.0,99.8 475.0,99.3 476.0,99.0 477.0,98.5 478.0,98.9 479.0,99.0 480.0,98.7 481.0,99.8 482.0,99.5 483.0,96.5 484.0,97.1 485.0,98.3 486.0,98.0 487.0,98.4 488.0,98.3 489.0,99.7 490.0,97.1 491.0,97.6 492.0,99.4 493.0,98.2 494.0,98.1 495.0,97.1 496.0,96.2 497.0,97.5 498.0,97.3 499.0,96.2 500.0,96.6 501.0,96.9 502.0,96.2 503.0,96.7 504.0,96.8 505.0,96.6 506.0,96.1 507.0,96.9 508.0,97.0 509.0,96.5 510.0,95.4 511.0,96.6 512.0,95.5 513.0,96.5 514.0,94.8 515.0,96.4 516.0,95.5 517.0,94.3 518.0,95.0 519.0,95.2 520.0,95.3 521.0,94.1 522.0,93.9 523.0,94.9 524.0,94.2 525.0,94.7 526.0,95.0 527.0,92.7 528.0,94.3 529.0,95.1 530.0,93.6 531.0,93.0 532.0,94.3 533.0,93.7 534.0,94.2 535.0,92.9 536.0,91.7 537.0,92.8 538.0,92.4 539.0,93.4 540.0,92.7 541.0,90.8 542.0,91.0 543.0,92.9 544.0,92.5 545.0,91.0 546.0,91.5 547.0,91.8 548.0,91.6 549.0,91.8 550.0,91.0 551.0,90.4 552.0,90.1 553.0,91.2 554.0,87.6 555.0,89.6 556.0,89.5 557.0,87.8 558.0,89.4 559.0,88.1 560.0,89.5 561.0,88.3 562.0,88.9 563.0,89.3 564.0,88.1 565.0,86.5 566.0,85.6 567.0,89.0 568.0,86.7 569.0,85.8 570.0,86.5 571.0,85.9 572.0,86.8 573.0,85.6 574.0,85.3 575.0,84.2 576.0,85.3 577.0,83.3 578.0,85.1 579.0,85.8 580.0,82.0 581.0,80.6 582.0,84.0 583.0,86.0 584.0,81.5 585.0,81.0 586.0,82.9 587.0,81.0 588.0,81.1 589.0,81.1 590.0,81.9 591.0,80.5 592.0,81.1 593.0,80.3 594.0,79.3 595.0,79.7 596.0,78.7 597.0,79.6 598.0,78.0 599.0,77.8 600.0,80.8 601.0,78.7 602.0,78.4 603.0,78.9 604.0,77.5 605.0,77.5 606.0,78.2 607.0,77.8 608.0,75.7 609.0,78.1 610.0,76.0 611.0,75.1 612.0,75.1 613.0,75.6 614.0,78.2 615.0,74.2 616.0,75.8 617.0,72.4 618.0,75.2 619.0,76.2 620.0,74.5 621.0,73.7 622.0,74.7 623.0,75.2 624.0,75.0 625.0,76.6 626.0,74.0 627.0,72.7 628.0,73.2 629.0,73.1 630.0,73.1 631.0,72.8 632.0,72.9 633.0,70.1 634.0,73.4 635.0,71.3 636.0,70.3 637.0,72.7 638.0,73.4 639.0,72.1 640.0,71.5 641.0,69.8 642.0,74.9 643.0,71.9 644.0,69.0 645.0,69.3 646.0,70.3 647.0,67.9 648.0,70.1 649.0,69.1 650.0,71.2 651.0,70.7 652.0,65.4 653.0,69.1 654.0,66.6 655.0,70.2 656.0,68.7 657.0,69.1 658.0,66.7 659.0,70.5 660.0,70.6 661.0,66.2 662.0,68.0 663.0,66.4 664.0,67.1 665.0,65.2 666.0,69.4 667.0,65.3 668.0,66.1 669.0,67.0 670.0,65.3 671.0,65.7 672.0,65.0 673.0,65.5 674.0,63.9 675.0,64.7 676.0,64.9 677.0,64.5 678.0,64.9 679.0,64.3 680.0,65.6 681.0,63.9 682.0,64.0 683.0,63.1 684.0,63.1 685.0,62.0 686.0,64.3 687.0,61.8 688.0,62.2 689.0,63.6 690.0,63.6 691.0,62.3 692.0,59.9 693.0,63.1 694.0,62.8 695.0,60.3 696.0,63.2 697.0,61.0 698.0,60.2 699.0,61.7 700.0,61.2 701.0,61.6 702.0,58.9 703.0,63.5 704.0,60.0 705.0,58.6 706.0,61.5 707.0,60.0 708.0,60.8 709.0,59.8 710.0,60.1 711.0,60.5 712.0,59.0 713.0,61.0 714.0,59.4 715.0,58.8 716.0,60.1 717.0,60.6 718.0,59.7 719.0,58.8 720.0,60.9 721.0,57.5 722.0,58.6 723.0,60.1 724.0,58.1 725.0,60.0 726.0,59.9 727.0,61.3 728.0,58.7 729.0,59.1 730.0,60.5 731.0,56.6 732.0,64.3 733.0,59.0 734.0,59.0 735.0,61.2 736.0,59.9 737.0,57.5 738.0,60.9 739.0,61.2 740.0,59.4 741.0,59.6 742.0,60.7 743.0,58.7 744.0,60.6 745.0,60.3 746.0,59.0 747.0,58.0 748.0,59.7 749.0,58.7 750.0,61.4 751.0,60.2 752.0,61.0 753.0,60.1 754.0,60.3 755.0,58.8 756.0,60.8 757.0,62.4 758.0,59.5 759.0,59.1 760.0,59.7 761.0,59.2 762.0,58.9 763.0,60.0 764.0,59.4 765.0,61.8 766.0,59.8 767.0,60.2 768.0,61.1 769.0,59.3 770.0,61.8 771.0,58.8 772.0,58.6 773.0,59.2 774.0,59.5 775.0,57.7 776.0,59.6 777.0,57.3 778.0,61.6 779.0,59.5 780.0,58.7 781.0,58.3 782.0,59.1 783.0,59.3 784.0,58.1 785.0,58.3 786.0,59.3 787.0,58.8 788.0,60.8 789.0,61.1 790.0,59.5 791.0,60.2 792.0,57.6 793.0,60.4 794.0,59.4 795.0,60.1 796.0,61.7 797.0,56.2 798.0,59.8 799.0,57.9 800.0,60.2 801.0,57.6 802.0,58.7 803.0,59.7 804.0,60.2 805.0,59.5 806.0,58.3 807.0,58.6 808.0,60.6 809.0,59.3 810.0,57.0 811.0,60.5 812.0,59.9 813.0,60.5 814.0,58.8 815.0,60.5 816.0,57.8 817.0,60.1 818.0,58.6 819.0,60.2 820.0,60.7 821.0,58.2 822.0,59.2 823.0,59.3 824.0,60.9 825.0,60.2 826.0,57.5 827.0,59.8 828.0,60.2 829.0,62.1 830.0,56.8 831.0,58.4 832.0,61.0 833.0,57.2 834.0,57.4 835.0,59.8 836.0,60.5 837.0,58.1 838.0,59.8 839.0,59.2 840.0,61.1 841.0,59.0 842.0,60.3 843.0,57.7 844.0,58.7 845.0,58.7 846.0,60.4 847.0,59.6 848.0,57.7 849.0,59.7 850.0,59.8 851.0,58.5 852.0,58.3 853.0,58.3 854.0,56.2 855.0,58.7 856.0,58.8 857.0,57.2 858.0,59.4 859.0,56.4 860.0,57.4 861.0,57.5 862.0,60.9 863.0,55.8 864.0,58.8 865.0,59.2 866.0,58.4 867.0,59.4 868.0,56.3 869.0,54.5 870.0,58.7 871.0,55.9 872.0,57.0 873.0,55.7 874.0,58.8 875.0,58.5 876.0,56.2 877.0,58.4 878.0,57.2 879.0,56.8 880.0,57.0 881.0,56.6 882.0,57.6 883.0,57.1 884.0,56.2 885.0,58.0 886.0,55.7 887.0,56.8 888.0,57.0 889.0,58.4 890.0,55.5 891.0,58.6 892.0,56.4 893.0,55.8 894.0,55.1 895.0,56.7 896.0,55.9 897.0,54.3 898.0,54.2 899.0,54.9 900.0,54.6 901.0,57.0 902.0,57.4 903.0,56.6 904.0,55.8 905.0,54.6 906.0,55.2 907.0,56.3 908.0,58.0 909.0,56.2 910.0,54.5 911.0,54.9 912.0,54.1 913.0,53.6 914.0,54.3 915.0,54.8 916.0,57.0 917.0,54.4 918.0,56.2 919.0,56.7 920.0,54.2 921.0,56.3 922.0,55.0 923.0,53.3 924.0,54.2 925.0,53.8 926.0,53.3 927.0,53.3 928.0,53.7 929.0,54.0 930.0,52.1 931.0,53.2 932.0,51.1 933.0,53.5 934.0,53.9 935.0,53.2 936.0,53.2 937.0,53.6 938.0,51.7 939.0,52.3 940.0,53.2 941.0,53.8 942.0,52.9 943.0,55.8 944.0,52.0 945.0,53.4 946.0,53.7 947.0,51.7 948.0,50.6 949.0,50.0 950.0,51.8 951.0,53.0 952.0,51.8 953.0,51.5 954.0,50.6 955.0,51.9 956.0,48.0 957.0,51.2 958.0,50.8 959.0,48.8 960.0,53.6 961.0,48.5 962.0,48.8 963.0,48.6 964.0,51.7 965.0,48.8 966.0,50.9 967.0,50.6 968.0,50.1 969.0,47.8 970.0,48.6 971.0,51.7 972.0,47.5 973.0,48.0 974.0,48.8 975.0,50.1 976.0,49.2 977.0,49.8 978.0,47.2 979.0,49.9 980.0,49.3 981.0,46.1 982.0,50.4 983.0,51.4 984.0,47.0 985.0,48.0 986.0,49.8 987.0,45.7 988.0,44.9 989.0,45.8 990.0,46.7 991.0,46.6 992.0,48.2 993.0,47.6 994.0,45.4 995.0,47.9 996.0,49.6 997.0,48.6 998.0,48.2 999.0,46.8 1000.0,48.0 1001.0,45.3 1002.0,47.6 1003.0,46.3 1004.0,47.9 1005.0,46.9 1006.0,44.7 1007.0,46.3 1008.0,47.7 1009.0,44.4 1010.0,45.1 1011.0,44.7 1012.0,43.6 1013.0,46.9 1014.0,47.3 1015.0,46.5 1016.0,45.6 1017.0,45.1 1018.0,45.4 1019.0,44.0 1020.0,46.1 1021.0,46.2 1022.0,45.9 1023.0,43.8 1024.0,44.5 1025.0,44.0 1026.0,46.6 1027.0,44.3 1028.0,41.3 1029.0,44.3 1030.0,46.3 1031.0,44.5 1032.0,44.6 1033.0,43.3 1034.0,40.4 1035.0,40.5 1036.0,41.1 1037.0,42.6 1038.0,43.1 1039.0,43.5 1040.0,41.9 1041.0,43.6 1042.0,41.7 1043.0,41.0 1044.0,43.1 1045.0,40.5 1046.0,37.9 1047.0,40.1 1048.0,41.6 1049.0,37.1 1050.0,40.8 1051.0,40.7 1052.0,39.1 1053.0,38.9 1054.0,40.2 1055.0,40.0 1056.0,42.4 1057.0,41.1 1058.0,38.2 1059.0,39.2 1060.0,41.2 1061.0,42.8 1062.0,40.6 1063.0,40.4 1064.0,42.4 1065.0,39.7 1066.0,39.2 1067.0,37.6 1068.0,38.7 1069.0,42.4 1070.0,37.3 1071.0,39.2 1072.0,37.1 1073.0,39.1 1074.0,40.1 1075.0,38.4 1076.0,39.7 1077.0,39.6 1078.0,39.1 1079.0,40.8 1080.0,39.4 1081.0,37.8 1082.0,37.2 1083.0,36.9 1084.0,38.7 1085.0,37.5 1086.0,41.7 1087.0,40.3 1088.0,37.4 1089.0,37.2 1090.0,39.9 1091.0,34.9 1092.0,36.8 1093.0,38.7 1094.0,36.0 1095.0,36.6 1096.0,36.7 1097.0,38.1 1098.0,37.3 1099.0,37.6 1100.0,37.8 1101.0,37.0 1102.0,38.5 1103.0,35.8 1104.0,34.8 1105.0,34.3 1106.0,34.5 1107.0,35.9 1108.0,38.1 1109.0,36.8 1110.0,35.7 1111.0,35.0 1112.0,35.7 1113.0,35.9 1114.0,35.6 1115.0,34.3 1116.0,35.6 1117.0,37.7 1118.0,33.2 1119.0,35.9 1120.0,33.2 1121.0,36.4 1122.0,35.0 1123.0,33.1 1124.0,36.1 1125.0,38.5 1126.0,36.1 1127.0,37.5 1128.0,35.8 1129.0,32.8 1130.0,36.5 1131.0,35.2 1132.0,33.7 1133.0,36.8 1134.0,36.1 1135.0,34.9 1136.0,36.9 1137.0,34.4 1138.0,36.5 1139.0,34.3 1140.0,36.3 1141.0,34.0 1142.0,37.6 1143.0,35.9 1144.0,37.5 1145.0,34.4 1146.0,34.8 1147.0,36.7 1148.0,31.7 1149.0,34.0 1150.0,36.9 1151.0,36.2 1152.0,36.9 1153.0,35.1 1154.0,36.3 1155.0,34.5 1156.0,33.6 1157.0,33.2 1158.0,34.8 1159.0,34.9 1160.0,34.8 1161.0,30.7 1162.0,32.9 1163.0,35.0 1164.0,36.2 1165.0,35.0 1166.0,34.6 1167.0,32.7 1168.0,38.7 1169.0,34.4 1170.0,38.4 1171.0,38.2 1172.0,36.5 1173.0,35.4 1174.0,36.4 1175.0,34.6 1176.0,36.7 1177.0,36.4 1178.0,37.1 1179.0,37.8 1180.0,38.9 1181.0,36.0 1182.0,38.1 1183.0,35.6 1184.0,35.5 1185.0,35.9 1186.0,35.5 1187.0,38.2 1188.0,38.2 1189.0,38.8 1190.0,37.0 1191.0,37.5 1192.0,36.3 1193.0,35.6 1194.0,37.9 1195.0,37.7 1196.0,35.8 1197.0,38.2 1198.0,35.0 1199.0,37.2 1200.0,36.6 1201.0,36.8 1202.0,36.1 1203.0,38.9 1204.0,38.4 1205.0,39.3 1206.0,37.9 1207.0,36.0 1208.0,37.3 1209.0,36.2 1210.0,38.5 1211.0,39.6 1212.0,38.4 1213.0,37.1 1214.0,37.5 1215.0,38.3 1216.0,36.1 1217.0,38.3 1218.0,38.4 1219.0,37.4 1220.0,37.6 1221.0,38.5 1222.0,37.1 1223.0,37.2 1224.0,39.5 1225.0,38.7 1226.0,40.8 1227.0,37.1 1228.0,36.0 1229.0,39.9 1230.0,39.9 1231.0,37.6 1232.0,36.6 1233.0,38.6 1234.0,36.3 1235.0,38.3 1236.0,35.8 1237.0,38.5 1238.0,35.9 1239.0,38.6 1240.0,41.1 1241.0,38.7 1242.0,40.1 1243.0,38.2 1244.0,37.9 1245.0,37.1 1246.0,40.7 1247.0,39.2 1248.0,41.6 1249.0,37.7 1250.0,39.1 1251.0,39.6 1252.0,41.5 1253.0,42.1 1254.0,38.7 1255.0,38.1 1256.0,37.3 1257.0,41.7 1258.0,39.8 1259.0,39.0 1260.0,39.9 1261.0,36.5 1262.0,37.7 1263.0,41.5 1264.0,40.8 1265.0,40.5 1266.0,39.0 1267.0,41.3 1268.0,43.0 1269.0,38.9 1270.0,40.7 1271.0,40.1 1272.0,41.3 1273.0,40.9 1274.0,40.7 1275.0,39.8 1276.0,41.1 1277.0,40.3 1278.0,41.0 1279.0,41.2 1280.0,42.3 1281.0,40.6 1282.0,41.1 1283.0,43.1 1284.0,41.4 1285.0,41.4 1286.0,43.0 1287.0,42.3 1288.0,42.1 1289.0,42.4 1290.0,40.4 1291.0,42.9 1292.0,44.1 1293.0,43.2 1294.0,40.3 1295.0,42.9 1296.0,41.4 1297.0,42.4 1298.0,43.0 1299.0,41.2 1300.0,44.8 1301.0,42.9 1302.0,44.2 1303.0,44.1 1304.0,45.1 1305.0,45.0 1306.0,41.4 1307.0,43.6 1308.0,40.6 1309.0,43.1 1310.0,44.8 1311.0,45.2 1312.0,45.8 1313.0,43.5 1314.0,44.6 1315.0,44.4 1316.0,46.1 1317.0,46.6 1318.0,44.0 1319.0,49.9 1320.0,44.7 1321.0,44.3 1322.0,45.7 1323.0,46.1 1324.0,45.9 1325.0,44.3 1326.0,47.3 1327.0,45.5 1328.0,47.6 1329.0,47.5 1330.0,43.9 1331.0,44.4 1332.0,44.5 1333.0,46.3 1334.0,46.1 1335.0,46.5 1336.0,45.1 1337.0,46.9 1338.0,48.4 1339.0,44.7 1340.0,46.3 1341.0,47.0 1342.0,46.6 1343.0,46.6 1344.0,49.4 1345.0,48.8 1346.0,48.3 1347.0,46.2 1348.0,50.4 1349.0,47.9 1350.0,46.7 1351.0,47.1 1352.0,47.0 1353.0,50.7 1354.0,48.1 1355.0,48.0 1356.0,45.0 1357.0,49.1 1358.0,46.7 1359.0,46.6 1360.0,49.2 1361.0,47.2 1362.0,49.6 1363.0,50.1 1364.0,46.1 1365.0,48.5 1366.0,46.6 1367.0,48.8 1368.0,50.2 1369.0,47.1 1370.0,51.6 1371.0,48.7 1372.0,47.6 1373.0,49.2 1374.0,50.5 1375.0,47.6 1376.0,49.6 1377.0,47.7 1378.0,51.4 1379.0,50.0 1380.0,49.3 1381.0,51.4 1382.0,48.2 1383.0,49.5 1384.0,52.7 1385.0,50.1 1386.0,52.2 1387.0,50.6 1388.0,49.5 1389.0,50.2 1390.0,50.7 1391.0,50.1 1392.0,49.6 1393.0,49.7 1394.0,48.8 1395.0,51.1 1396.0,51.5 1397.0,52.1 1398.0,48.6 1399.0,52.3 1400.0,51.2 1401.0,49.3 1402.0,51.5 1403.0,52.5 1404.0,52.2 1405.0,52.5 1406.0,52.9 1407.0,52.9 1408.0,51.6 1409.0,48.8 1410.0,50.7 1411.0,52.3 1412.0,51.2 1413.0,52.9 1414.0,53.1 1415.0,52.1 1416.0,54.7 1417.0,50.7 1418.0,53.5 1419.0,51.5 1420.0,51.2 1421.0,53.1 1422.0,51.5 1423.0,53.6 1424.0,50.8 1425.0,52.5 1426.0,51.3 1427.0,52.2 1428.0,52.1 1429.0,51.1 1430.0,53.6 1431.0,51.0 1432.0,51.4 1433.0,54.1 1434.0,54.2 1435.0,53.9 1436.0,53.5 1437.0,56.2 1438.0,51.4 1439.0,52.1 1440.0,51.8 1441.0,54.5 1442.0,53.7 1443.0,54.9 1444.0,54.7 1445.0,53.1 1446.0,52.4 1447.0,52.2 1448.0,56.7 1449.0,55.0 1450.0,54.6 1451.0,53.3 1452.0,53.6 1453.0,53.4 1454.0,53.5 1455.0,50.7 1456.0,54.0 1457.0,53.6 1458.0,54.6 1459.0,54.6 1460.0,55.6 1461.0,54.4 1462.0,55.6 1463.0,51.0 1464.0,53.1 1465.0,57.1 1466.0,53.1 1467.0,54.5 1468.0,55.9 1469.0,53.8 1470.0,56.1 1471.0,53.2 1472.0,52.6 1473.0,53.5 1474.0,53.1 1475.0,55.4 1476.0,55.1 1477.0,56.1 1478.0,54.3 1479.0,59.3 1480.0,55.7 1481.0,55.9 1482.0,56.7 1483.0,55.8 1484.0,55.3 1485.0,56.4 1486.0,57.6 1487.0,57.3 1488.0,57.8 1489.0,55.8 1490.0,55.6 1491.0,59.5 1492.0,56.5 1493.0,57.6 1494.0,58.0 1495.0,59.1 1496.0,55.3 1497.0,56.6 1498.0,56.7 1499.0,57.0 1500.0,54.1 1501.0,57.4 1502.0,53.6 1503.0,58.2 1504.0,58.6 1505.0,58.7 1506.0,56.3 1507.0,59.4 1508.0,57.0 1509.0,56.6 1510.0,57.0 1511.0,57.3 1512.0,58.8 1513.0,59.8 1514.0,55.9 1515.0,58.1 1516.0,60.2 1517.0,59.4 1518.0,59.9 1519.0,57.2 1520.0,60.7 1521.0,57.3 1522.0,59.9 1523.0,61.6 1524.0,62.4 1525.0,60.6 1526.0,61.2 1527.0,59.3 1528.0,59.5 1529.0,61.9 1530.0,60.4 1531.0,60.3 1532.0,58.6 1533.0,60.9 1534.0,61.7 1535.0,59.8 1536.0,60.2 1537.0,63.2 1538.0,61.4 1539.0,60.8 1540.0,59.7 1541.0,60.5 1542.0,61.1 1543.0,63.4 1544.0,60.8 1545.0,64.2 1546.0,60.4 1547.0,61.3 1548.0,63.1 1549.0,61.6 1550.0,60.8 1551.0,61.9 1552.0,62.7 1553.0,59.8 1554.0,61.9 1555.0,62.1 1556.0,61.8 1557.0,63.4 1558.0,61.6 1559.0,61.9 1560.0,62.6 1561.0,63.6 1562.0,62.3 1563.0,64.7 1564.0,61.4 1565.0,64.5 1566.0,61.5 1567.0,62.6 1568.0,63.3 1569.0,65.7 1570.0,64.1 1571.0,62.4 1572.0,64.8 1573.0,62.7 1574.0,61.9 1575.0,63.7 1576.0,63.3 1577.0,64.5 1578.0,62.4 1579.0,63.8 1580.0,64.2 1581.0,63.7 1582.0,63.3 1583.0,62.4 1584.0,64.7 1585.0,63.7 1586.0,64.2 1587.0,63.1 1588.0,63.7 1589.0,62.2 1590.0,63.9 1591.0,64.9 1592.0,64.0 1593.0,65.1 1594.0,64.4 1595.0,65.9 1596.0,63.8 1597.0,61.9 1598.0,64.8 1599.0,64.1 1600.0,63.0 1601.0,65.3 1602.0,64.9 1603.0,65.2 1604.0,64.2 1605.0,65.0 1606.0,65.2 1607.0,67.4 1608.0,64.0 1609.0,65.0 1610.0,65.6 1611.0,62.8 1612.0,63.0 1613.0,68.4 1614.0,63.0 1615.0,66.3 1616.0,64.4 1617.0,64.6 1618.0,63.0 1619.0,64.6 1620.0,67.0 1621.0,64.0 1622.0,66.9 1623.0,66.6 1624.0,69.0 1625.0,65.6 1626.0,68.2 1627.0,67.7 1628.0,66.2 1629.0,64.3 1630.0,68.8 1631.0,64.9 1632.0,66.2 1633.0,68.2 1634.0,68.6 1635.0,65.9 1636.0,67.1 1637.0,66.9 1638.0,69.0 1639.0,70.9 1640.0,64.9 1641.0,68.9 1642.0,63.7 1643.0,67.7 1644.0,66.3 1645.0,70.7 1646.0,68.2 1647.0,67.0 1648.0,67.4 1649.0,67.4 1650.0,68.5 1651.0,68.1 1652.0,69.3 1653.0,70.6 1654.0,69.5 1655.0,66.9 1656.0,66.5 1657.0,67.7 1658.0,70.3 1659.0,68.5 1660.0,68.1 1661.0,69.3 1662.0,67.2 1663.0,67.7 1664.0,70.0 1665.0,69.0 1666.0,68.9 1667.0,70.0 1668.0,68.8 1669.0,68.8 1670.0,69.1 1671.0,70.7 1672.0,70.0 1673.0,68.3 1674.0,69.7 1675.0,71.1 1676.0,72.8 1677.0,68.7 1678.0,70.9 1679.0,70.1 1680.0,71.7 1681.0,71.2 1682.0,72.7 1683.0,71.5 1684.0,70.1 1685.0,70.1 1686.0,71.5 1687.0,71.6 1688.0,74.5 1689.0,73.5 1690.0,69.6 1691.0,71.8 1692.0,69.5 1693.0,69.1 1694.0,72.6 1695.0,72.4 1696.0,70.2 1697.0,74.0 1698.0,70.4 1699.0,70.2 1700.0,72.8 1701.0,72.3 1702.0,71.8 1703.0,72.0 1704.0,72.5 1705.0,72.1 1706.0,72.1 1707.0,69.8 1708.0,70.6 1709.0,73.4 1710.0,71.6 1711.0,73.4 1712.0,74.5 1713.0,72.3 1714.0,73.3 1715.0,75.8 1716.0,74.0 1717.0,75.6 1718.0,75.3 1719.0,74.2 1720.0,73.1 1721.0,72.1 1722.0,71.8 1723.0,74.1 1724.0,74.1 1725.0,73.3 1726.0,74.8 1727.0,72.8 1728.0,75.3 1729.0,73.9 1730.0,73.8 1731.0,73.9 1732.0,73.9 1733.0,77.5 1734.0,71.9 1735.0,74.4 1736.0,76.0 1737.0,75.3 1738.0,74.0 1739.0,76.9 1740.0,73.0 1741.0,72.7 1742.0,75.4 1743.0,72.7 1744.0,71.4 1745.0,76.0 1746.0,75.9 1747.0,76.0 1748.0,74.3 1749.0,75.3 1750.0,73.8 1751.0,77.6 1752.0,76.4 1753.0,76.4 1754.0,72.7 1755.0,76.6 1756.0,77.6 1757.0,77.3 1758.0,76.7 1759.0,75.7 1760.0,75.3 1761.0,76.7 1762.0,76.4 1763.0,76.3 1764.0,75.6 1765.0,78.4 1766.0,74.5 1767.0,76.2 1768.0,75.5 1769.0,77.8 1770.0,78.4 1771.0,78.2 1772.0,77.6 1773.0,74.6 1774.0,79.5 1775.0,77.4 1776.0,76.6 1777.0,76.8 1778.0,76.4 1779.0,77.5 1780.0,77.4 1781.0,76.5 1782.0,73.5 1783.0,77.1 1784.0,77.9 1785.0,78.0 1786.0,77.1 1787.0,78.0 1788.0,78.8 1789.0,76.8 1790.0,79.5 1791.0,74.8 1792.0,75.8 1793.0,76.4 1794.0,74.3 1795.0,76.3 1796.0,79.5 1797.0,79.6 1798.0,78.0 1799.0,80.3 1800.0,78.3 1801.0,77.3 1802.0,78.4 1803.0,77.9 1804.0,79.2 1805.0,76.1 1806.0,79.6 1807.0,77.6 1808.0,79.5 1809.0,76.2 1810.0,77.8 1811.0,78.6 1812.0,79.8 1813.0,76.8 1814.0,80.9 1815.0,79.3 1816.0,77.9 1817.0,80.4 1818.0,78.9 1819.0,80.4 1820.0,82.1 1821.0,79.9 1822.0,78.2 1823.0,78.4 1824.0,79.8 1825.0,79.4 1826.0,77.9 1827.0,78.2 1828.0,80.1 1829.0,82.4 1830.0,75.5 1831.0,80.2 1832.0,79.0 1833.0,80.4 1834.0,80.5 1835.0,79.4 1836.0,78.0 1837.0,77.5 1838.0,76.8 1839.0,81.2 1840.0,79.2 1841.0,78.8 1842.0,79.2 1843.0,77.7 1844.0,80.0 1845.0,81.5 1846.0,81.2 1847.0,77.5 1848.0,81.6 1849.0,78.7 1850.0,77.1 1851.0,78.1 1852.0,78.4 1853.0,79.8 1854.0,78.4 1855.0,77.7 1856.0,79.5 1857.0,82.6 1858.0,78.9 1859.0,80.6 1860.0,80.1 1861.0,83.7 1862.0,77.3 1863.0,81.6 1864.0,78.2 1865.0,79.2 1866.0,79.9 1867.0,84.6 1868.0,79.0 1869.0,77.5 1870.0,82.0 1871.0,79.0 1872.0,79.8 1873.0,80.2 1874.0,80.4 1875.0,80.0 1876.0,80.6 1877.0,80.8 1878.0,81.5 1879.0,79.7 1880.0,79.3 1881.0,78.9 1882.0,81.2 1883.0,80.3 1884.0,81.2 1885.0,81.2 1886.0,82.8 1887.0,80.7 1888.0,81.5 1889.0,78.8 1890.0,79.0 1891.0,80.1 1892.0,78.8 1893.0,81.5 1894.0,78.7 1895.0,80.7 1896.0,77.2 1897.0,79.1 1898.0,80.2 1899.0,80.3 1900.0,78.2 1901.0,80.8 1902.0,82.1 1903.0,81.6 1904.0,79.8 1905.0,79.9 1906.0,79.1 1907.0,81.7 1908.0,82.8 1909.0,80.1 1910.0,78.5 1911.0,81.1 1912.0,81.9 1913.0,77.1 1914.0,81.1 1915.0,83.9 1916.0,82.1 1917.0,81.7 1918.0,81.5 1919.0,82.5 1920.0,79.7 1921.0,79.8 1922.0,81.6 1923.0,80.1 1924.0,81.4 1925.0,78.4 1926.0,82.1 1927.0,82.3 1928.0,81.2 1929.0,81.3 1930.0,83.4 1931.0,79.6 1932.0,79.9 1933.0,79.6 1934.0,80.6 1935.0,79.8 1936.0,81.3 1937.0,80.3 1938.0,79.2 1939.0,79.1 1940.0,82.9 1941.0,81.2 1942.0,81.0 1943.0,81.3 1944.0,81.2 1945.0,82.4 1946.0,82.1 1947.0,80.5 1948.0,80.2 1949.0,79.8 1950.0,79.6 1951.0,83.3 1952.0,80.1 1953.0,78.6 1954.0,80.2 1955.0,80.3 1956.0,81.9 1957.0,80.2 1958.0,82.2 1959.0,82.0 1960.0,83.2 1961.0,84.5 1962.0,85.5 1963.0,83.4 1964.0,79.9 1965.0,80.9 1966.0,81.9 1967.0,84.4 1968.0,82.5 1969.0,83.2 1970.0,81.3 1971.0,82.4 1972.0,82.6 1973.0,80.9 1974.0,82.7 1975.0,83.1 1976.0,81.4 1977.0,83.0 1978.0,83.9 1979.0,81.7 1980.0,81.6 1981.0,81.2 1982.0,80.8 1983.0,81.9 1984.0,81.1 1985.0,81.3 1986.0,80.6 1987.0,79.6 1988.0,80.4 1989.0,82.2 1990.0,80.1 1991.0,80.9 1992.0,84.1 1993.0,83.4 1994.0,80.8 1995.0,82.7 1996.0,80.9 1997.0,84.1 1998.0,81.0 1999.0,82.0 2000.0,83.8 2001.0,80.7 2002.0,83.7 2003.0,80.8 2004.0,82.3 2005.0,81.5 2006.0,81.8 2007.0,82.2 2008.0,81.9 2009.0,80.6 2010.0,83.2 2011.0,83.0 2012.0,83.8 2013.0,84.0 2014.0,80.2 2015.0,83.9 2016.0,83.9 2017.0,81.4 2018.0,83.6 2019.0,84.2 2020.0,81.4 2021.0,80.2 2022.0,81.7 2023.0,86.1 2024.0,82.6 2025.0,80.5 2026.0,81.9 2027.0,80.9 2028.0,81.7 2029.0,82.4 2030.0,78.7 2031.0,82.8 2032.0,84.3 2033.0,82.1 2034.0,81.9 2035.0,83.9 2036.0,80.7 2037.0,80.7 2038.0,80.5 2039.0,82.3 2040.0,83.1 2041.0,82.4 2042.0,83.3 2043.0,83.7 2044.0,83.3 2045.0,81.5 2046.0,82.2 2047.0,84.4 2048.0,81.2 2049.0,82.3 2050.0,82.1 2051.0,82.5 2052.0,81.2 2053.0,80.9 2054.0,86.4 2055.0,84.1 2056.0,81.8 2057.0,82.8 2058.0,83.8 2059.0,82.4 2060.0,83.8 2061.0,82.1 2062.0,82.5 2063.0,82.9 2064.0,82.4 2065.0,79.6 2066.0,83.1 2067.0,83.4 2068.0,83.8 2069.0,81.7 2070.0,83.6 2071.0,83.5 2072.0,80.7 2073.0,80.2 2074.0,83.9 2075.0,82.0 2076.0,84.7 2077.0,86.3 2078.0,82.5 2079.0,82.4 2080.0,83.4 2081.0,84.4 2082.0,81.9 2083.0,85.2 2084.0,84.9 2085.0,84.5 2086.0,82.8 2087.0,84.7 2088.0,84.5 2089.0,82.6 2090.0,85.2 2091.0,83.6 2092.0,83.9"/>
<g fill="none" stroke="#000" stroke-width="3.5">
<rect x="515.5" y="322.4" width="169.6" height="1083.1"/>
<rect x="1153.6" y="242.1" width="267.7" height="1161.0"/>
</g>
<g stroke="#000" stroke-width="5.4" fill="none">
<path d="M318,1427 H2313"/>
<path d="M320.50,1427 V1455.9"/>
<path d="M519.50,1427 V1440.9"/>
<path d="M718.50,1427 V1455.9"/>
<path d="M917.50,1427 V1440.9"/>
<path d="M1116.50,1427 V1455.9"/>
<path d="M1315.50,1427 V1440.9"/>
<path d="M1514.50,1427 V1455.9"/>
<path d="M1713.50,1427 V1440.9"/>
<path d="M1912.50,1427 V1455.9"/>
<path d="M2111.50,1427 V1440.9"/>
<path d="M2310.50,1427 V1455.9"/>
</g>
<g>
<text y="104.00" font-size="80.00"><tspan x="275.14" textLength="151.28" lengthAdjust="spacingAndGlyphs">SOL</tspan></text>
<text y="273.10" font-size="80.00"><tspan x="144.22" textLength="140.88" lengthAdjust="spacingAndGlyphs">ERL</tspan> <tspan x="302.52" textLength="134.00" lengthAdjust="spacingAndGlyphs">SDs</tspan></text>
<text y="478.80" font-size="80.00"><tspan x="114.72" textLength="140.88" lengthAdjust="spacingAndGlyphs">ERL</tspan> <tspan x="274.60" textLength="152.22" lengthAdjust="spacingAndGlyphs">MPs</tspan></text>
<text y="691.50" font-size="80.00"><tspan x="12.28" textLength="140.82" lengthAdjust="spacingAndGlyphs">ERL</tspan> <tspan x="172.12" textLength="258.66" lengthAdjust="spacingAndGlyphs">Control</tspan></text>
<text y="867.10" font-size="80.00"><tspan x="261.60" textLength="150.92" lengthAdjust="spacingAndGlyphs">PMs</tspan></text>
<text y="1369.20" font-size="80.00"><tspan x="298.10" textLength="143.70" lengthAdjust="spacingAndGlyphs">ERL</tspan></text>
<text y="1521.60" font-size="68.00"><tspan x="303.85" textLength="33.05" lengthAdjust="spacingAndGlyphs">0</tspan></text>
<text y="1521.60" font-size="68.00"><tspan x="684.40" textLength="65.50" lengthAdjust="spacingAndGlyphs">10</tspan></text>
<text y="1521.60" font-size="68.00"><tspan x="1084.60" textLength="64.05" lengthAdjust="spacingAndGlyphs">20</tspan></text>
<text y="1521.60" font-size="68.00"><tspan x="1481.05" textLength="65.10" lengthAdjust="spacingAndGlyphs">30</tspan></text>
<text y="1521.60" font-size="68.00"><tspan x="1881.20" textLength="63.20" lengthAdjust="spacingAndGlyphs">40</tspan></text>
<text y="1521.60" font-size="68.00"><tspan x="2276.00" textLength="66.40" lengthAdjust="spacingAndGlyphs">50</tspan></text>
<text y="1630.00" font-size="80.00"><tspan x="1186.50" textLength="255.60" lengthAdjust="spacingAndGlyphs">2-Theta</tspan></text>
</g>
</svg></body></html>
